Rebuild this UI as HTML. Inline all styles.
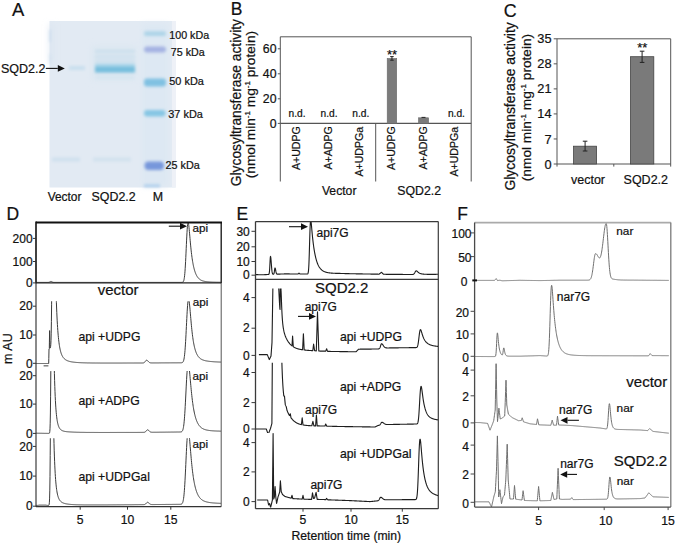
<!DOCTYPE html>
<html><head><meta charset="utf-8"><style>
html,body{margin:0;padding:0;background:#fff;}
svg{display:block;}
text{font-family:"Liberation Sans", sans-serif;stroke:#111;stroke-width:0.22px;paint-order:stroke;}
</style></head><body>
<svg width="675" height="544" viewBox="0 0 675 544">
<rect x="0" y="0" width="675" height="544" fill="#fff"/>
<text x="12.00" y="15.93" font-size="18.4" text-anchor="start" fill="#111" >A</text>
<defs>
<filter id="bl1" x="-50%" y="-50%" width="200%" height="200%"><feGaussianBlur stdDeviation="1.8"/></filter>
<filter id="bl3" x="-50%" y="-50%" width="200%" height="200%"><feGaussianBlur stdDeviation="3"/></filter>
<filter id="bl05" x="-50%" y="-50%" width="200%" height="200%"><feGaussianBlur stdDeviation="0.6"/></filter>
</defs>
<rect x="49.50" y="21.00" width="126.00" height="166.50" fill="#e2eaf3" stroke="none" stroke-width="1" />
<g filter="url(#bl3)">
<rect x="142.00" y="24.00" width="26.00" height="162.00" fill="#dde8f3" stroke="none" stroke-width="1" />
<rect x="92.00" y="46.00" width="44.00" height="34.00" fill="#dbe7f1" stroke="none" stroke-width="1" />
<rect x="49.50" y="24.00" width="3.00" height="40.00" fill="#d8e3f0" stroke="none" stroke-width="1" />
</g>
<g filter="url(#bl05)">
<rect x="172.00" y="21.00" width="4.00" height="166.50" fill="#eef1f7" stroke="none" stroke-width="1" />
</g>
<g filter="url(#bl1)">
<rect x="49.50" y="30.00" width="1.50" height="12.00" fill="#cadcee" stroke="none" stroke-width="1" />
<rect x="49.50" y="54.00" width="1.20" height="10.00" fill="#cfdfee" stroke="none" stroke-width="1" />
<rect x="69.00" y="66.00" width="16.00" height="4.00" fill="#c9dfee" stroke="none" stroke-width="1" />
<rect x="52.00" y="157.50" width="28.00" height="4.00" fill="#cfe0ee" stroke="none" stroke-width="1" />
<rect x="95.00" y="50.00" width="40.00" height="2.50" fill="#c9deec" stroke="none" stroke-width="1" />
<rect x="95.00" y="55.50" width="40.00" height="2.50" fill="#cde0ed" stroke="none" stroke-width="1" />
<rect x="95.00" y="60.00" width="40.00" height="2.50" fill="#cde0ed" stroke="none" stroke-width="1" />
<rect x="95.00" y="63.80" width="40.00" height="5.00" fill="#a6d4e9" stroke="none" stroke-width="1" />
<rect x="95.00" y="66.80" width="40.00" height="5.80" fill="#76bedd" stroke="none" stroke-width="1" />
<rect x="96.00" y="76.00" width="38.00" height="3.00" fill="#d6e5f0" stroke="none" stroke-width="1" />
<rect x="93.00" y="157.50" width="38.00" height="4.00" fill="#d2e2ee" stroke="none" stroke-width="1" />
<rect x="144.00" y="31.30" width="22.00" height="4.80" fill="#add4e8" stroke="none" stroke-width="1" rx="2"/>
<rect x="144.00" y="46.50" width="22.00" height="6.00" fill="#a4b2e2" stroke="none" stroke-width="1" rx="3"/>
<rect x="144.00" y="78.50" width="22.00" height="8.00" fill="#80c1e2" stroke="none" stroke-width="1" rx="3"/>
<rect x="144.00" y="110.00" width="21.50" height="6.50" fill="#86c6e4" stroke="none" stroke-width="1" rx="3"/>
<rect x="144.50" y="161.50" width="19.50" height="8.50" fill="#7797db" stroke="none" stroke-width="1" rx="4"/>
<rect x="144.00" y="184.50" width="16.00" height="2.50" fill="#a9cceb" stroke="none" stroke-width="1" />
</g>
<text x="169.30" y="39.30" font-size="10.7" text-anchor="start" fill="#111" >100 kDa</text>
<text x="170.80" y="56.20" font-size="10.7" text-anchor="start" fill="#111" >75 kDa</text>
<text x="169.30" y="85.17" font-size="10.9" text-anchor="start" fill="#111" >50 kDa</text>
<text x="168.30" y="118.17" font-size="10.9" text-anchor="start" fill="#111" >37 kDa</text>
<text x="165.60" y="168.83" font-size="10.8" text-anchor="start" fill="#111" >25 kDa</text>
<text x="1.00" y="72.84" font-size="12.5" text-anchor="start" fill="#111" >SQD2.2</text>
<line x1="45.80" y1="68.40" x2="57.80" y2="68.40" stroke="#111" stroke-width="1.1" />
<path d="M64.80,68.40 L57.80,65.00 L57.80,71.80 Z" fill="#111"/>
<text x="47.70" y="201.02" font-size="11.9" text-anchor="start" fill="#111" >Vector</text>
<text x="91.60" y="201.20" font-size="12.4" text-anchor="start" fill="#111" >SQD2.2</text>
<text x="152.80" y="201.20" font-size="12.4" text-anchor="start" fill="#111" >M</text>
<text x="230.80" y="14.91" font-size="17.5" text-anchor="start" fill="#111" >B</text>
<line x1="280.30" y1="36.80" x2="471.20" y2="36.80" stroke="#555" stroke-width="1" />
<line x1="471.20" y1="36.80" x2="471.20" y2="181.50" stroke="#555" stroke-width="1" />
<line x1="280.30" y1="36.80" x2="280.30" y2="181.50" stroke="#555" stroke-width="1" />
<line x1="375.70" y1="123.40" x2="375.70" y2="181.50" stroke="#555" stroke-width="1" />
<line x1="280.30" y1="123.40" x2="471.20" y2="123.40" stroke="#555" stroke-width="1.1" />
<line x1="277.80" y1="48.80" x2="280.30" y2="48.80" stroke="#555" stroke-width="1" />
<text x="276.50" y="53.17" font-size="12.3" text-anchor="end" fill="#111" >60</text>
<line x1="277.80" y1="73.80" x2="280.30" y2="73.80" stroke="#555" stroke-width="1" />
<text x="276.50" y="78.17" font-size="12.3" text-anchor="end" fill="#111" >40</text>
<line x1="277.80" y1="98.80" x2="280.30" y2="98.80" stroke="#555" stroke-width="1" />
<text x="276.50" y="103.17" font-size="12.3" text-anchor="end" fill="#111" >20</text>
<line x1="277.80" y1="123.40" x2="280.30" y2="123.40" stroke="#555" stroke-width="1" />
<text x="276.50" y="127.77" font-size="12.3" text-anchor="end" fill="#111" >0</text>
<rect x="387.20" y="58.50" width="9.50" height="64.90" fill="#7b7b7b" stroke="#6a6a6a" stroke-width="0.6" />
<rect x="418.50" y="117.80" width="10.10" height="5.60" fill="#7b7b7b" stroke="#6a6a6a" stroke-width="0.6" />
<line x1="391.95" y1="56.60" x2="391.95" y2="60.20" stroke="#222" stroke-width="1" />
<line x1="390.20" y1="56.60" x2="393.70" y2="56.60" stroke="#222" stroke-width="1" />
<line x1="390.20" y1="60.20" x2="393.70" y2="60.20" stroke="#222" stroke-width="1" />
<line x1="421.50" y1="117.40" x2="425.50" y2="117.40" stroke="#222" stroke-width="1" />
<text x="392.00" y="59.22" font-size="13" text-anchor="middle" fill="#111" >**</text>
<text x="297.10" y="117.42" font-size="10.2" text-anchor="middle" fill="#111" >n.d.</text>
<text x="329.10" y="117.42" font-size="10.2" text-anchor="middle" fill="#111" >n.d.</text>
<text x="360.80" y="117.42" font-size="10.2" text-anchor="middle" fill="#111" >n.d.</text>
<text x="456.40" y="117.42" font-size="10.2" text-anchor="middle" fill="#111" >n.d.</text>
<clipPath id="bclip"><rect x="280" y="125.2" width="192" height="60"/></clipPath><g clip-path="url(#bclip)">
<text transform="translate(296.30,126.20) rotate(-90)" x="0" y="3.76" font-size="10.6" text-anchor="end" fill="#111" >A+UDPG</text>
<text transform="translate(327.90,126.20) rotate(-90)" x="0" y="3.76" font-size="10.6" text-anchor="end" fill="#111" >A+ADPG</text>
<text transform="translate(359.40,176.60) rotate(-90)" x="0" y="3.76" font-size="10.6" text-anchor="start" fill="#111" >A+UDPGa</text>
<text transform="translate(391.60,126.20) rotate(-90)" x="0" y="3.76" font-size="10.6" text-anchor="end" fill="#111" >A+UDPG</text>
<text transform="translate(423.00,126.20) rotate(-90)" x="0" y="3.76" font-size="10.6" text-anchor="end" fill="#111" >A+ADPG</text>
<text transform="translate(454.60,176.60) rotate(-90)" x="0" y="3.76" font-size="10.6" text-anchor="start" fill="#111" >A+UDPGa</text>
</g>
<text x="339.20" y="194.53" font-size="12.2" text-anchor="middle" fill="#111" >Vector</text>
<text x="419.20" y="194.57" font-size="12.3" text-anchor="middle" fill="#111" >SQD2.2</text>
<text transform="translate(235.60,102.60) rotate(-90)" x="0" y="4.90" font-size="13.8" text-anchor="middle" fill="#111" >Glycosyltransferase activity</text>
<text transform="translate(250.50,104.60) rotate(-90)" x="0" y="4.86" font-size="13.7" text-anchor="middle" fill="#111" >(nmol min<tspan font-size="8" dy="-5">-1</tspan><tspan dy="5"> mg</tspan><tspan font-size="8" dy="-5">-1</tspan><tspan dy="5"> protein)</tspan></text>
<text x="503.80" y="16.72" font-size="17.8" text-anchor="start" fill="#111" >C</text>
<line x1="557.00" y1="38.80" x2="670.70" y2="38.80" stroke="#555" stroke-width="1" />
<line x1="670.70" y1="38.80" x2="670.70" y2="164.00" stroke="#555" stroke-width="1" />
<line x1="557.00" y1="38.80" x2="557.00" y2="166.60" stroke="#555" stroke-width="1" />
<line x1="557.00" y1="164.00" x2="670.70" y2="164.00" stroke="#555" stroke-width="1.1" />
<line x1="613.80" y1="164.00" x2="613.80" y2="166.60" stroke="#555" stroke-width="1" />
<line x1="670.70" y1="164.00" x2="670.70" y2="166.60" stroke="#555" stroke-width="1" />
<line x1="553.70" y1="164.00" x2="557.00" y2="164.00" stroke="#555" stroke-width="1" />
<text x="551.50" y="168.54" font-size="12.8" text-anchor="end" fill="#111" >0</text>
<line x1="553.70" y1="138.96" x2="557.00" y2="138.96" stroke="#555" stroke-width="1" />
<text x="551.50" y="143.50" font-size="12.8" text-anchor="end" fill="#111" >7</text>
<line x1="553.70" y1="113.92" x2="557.00" y2="113.92" stroke="#555" stroke-width="1" />
<text x="551.50" y="118.46" font-size="12.8" text-anchor="end" fill="#111" >14</text>
<line x1="553.70" y1="88.88" x2="557.00" y2="88.88" stroke="#555" stroke-width="1" />
<text x="551.50" y="93.42" font-size="12.8" text-anchor="end" fill="#111" >21</text>
<line x1="553.70" y1="63.84" x2="557.00" y2="63.84" stroke="#555" stroke-width="1" />
<text x="551.50" y="68.38" font-size="12.8" text-anchor="end" fill="#111" >28</text>
<line x1="553.70" y1="38.80" x2="557.00" y2="38.80" stroke="#555" stroke-width="1" />
<text x="551.50" y="43.34" font-size="12.8" text-anchor="end" fill="#111" >35</text>
<rect x="573.60" y="146.20" width="23.00" height="17.80" fill="#7a7a7a" stroke="#444" stroke-width="0.8" />
<rect x="630.50" y="56.70" width="23.30" height="107.30" fill="#7a7a7a" stroke="#444" stroke-width="0.8" />
<line x1="585.10" y1="141.20" x2="585.10" y2="151.00" stroke="#222" stroke-width="1" />
<line x1="582.80" y1="141.20" x2="587.40" y2="141.20" stroke="#222" stroke-width="1" />
<line x1="582.80" y1="151.00" x2="587.40" y2="151.00" stroke="#222" stroke-width="1" />
<line x1="642.10" y1="51.20" x2="642.10" y2="62.40" stroke="#222" stroke-width="1" />
<line x1="639.80" y1="51.20" x2="644.40" y2="51.20" stroke="#222" stroke-width="1" />
<line x1="639.80" y1="62.40" x2="644.40" y2="62.40" stroke="#222" stroke-width="1" />
<text x="642.20" y="52.22" font-size="13" text-anchor="middle" fill="#111" >**</text>
<text x="588.00" y="183.94" font-size="12.5" text-anchor="middle" fill="#111" >vector</text>
<text x="645.80" y="183.94" font-size="12.5" text-anchor="middle" fill="#111" >SQD2.2</text>
<text transform="translate(510.20,106.40) rotate(-90)" x="0" y="4.93" font-size="13.9" text-anchor="middle" fill="#111" >Glycosyltransferase activity</text>
<text transform="translate(526.40,107.50) rotate(-90)" x="0" y="4.86" font-size="13.7" text-anchor="middle" fill="#111" >(nmol min<tspan font-size="8" dy="-5">-1</tspan><tspan dy="5"> mg</tspan><tspan font-size="8" dy="-5">-1</tspan><tspan dy="5"> protein)</tspan></text>
<text x="6.60" y="220.01" font-size="17.5" text-anchor="start" fill="#111" >D</text>
<clipPath id="c1"><rect x="36.0" y="222.4" width="185.2" height="67.6"/></clipPath>
<path d="M36.00,282.40 L36.20,282.40 L36.40,282.40 L36.60,282.40 L36.80,282.40 L37.00,282.40 L37.20,282.40 L37.40,282.40 L37.60,282.40 L37.80,282.40 L38.00,282.40 L38.20,282.40 L38.40,282.40 L38.60,282.40 L38.80,282.40 L39.00,282.40 L39.20,282.40 L39.40,282.40 L39.60,282.40 L39.80,282.40 L40.00,282.40 L40.20,282.40 L40.40,282.40 L40.60,282.40 L40.80,282.40 L41.00,282.40 L41.20,282.40 L41.40,282.40 L41.60,282.40 L41.80,282.40 L42.00,282.40 L42.20,282.40 L42.40,282.40 L42.60,282.40 L42.80,282.40 L43.00,282.40 L43.20,282.40 L43.40,282.40 L43.60,282.40 L43.80,282.40 L44.00,282.40 L44.20,282.40 L44.40,282.40 L44.60,282.40 L44.80,282.40 L45.00,282.40 L45.20,282.40 L45.40,282.40 L45.60,282.40 L45.80,282.40 L46.00,282.40 L46.20,282.40 L46.40,282.40 L46.60,282.40 L46.80,282.40 L47.00,282.40 L47.20,282.40 L47.40,282.40 L47.60,282.40 L47.80,282.39 L48.00,282.39 L48.20,282.38 L48.40,282.37 L48.60,282.34 L48.80,282.31 L49.00,282.26 L49.20,282.20 L49.40,282.12 L49.60,282.02 L49.80,281.91 L50.00,281.79 L50.20,281.67 L50.40,281.56 L50.60,281.48 L50.80,281.42 L51.00,281.40 L51.20,281.42 L51.40,281.48 L51.60,281.56 L51.80,281.67 L52.00,281.79 L52.20,281.91 L52.40,282.02 L52.60,282.12 L52.80,282.20 L53.00,282.26 L53.20,282.31 L53.40,282.34 L53.60,282.37 L53.80,282.38 L54.00,282.39 L54.20,282.39 L54.40,282.40 L54.60,282.40 L54.80,282.40 L55.00,282.40 L55.20,282.40 L55.40,282.40 L55.60,282.40 L55.80,282.40 L56.00,282.40 L56.20,282.40 L56.40,282.40 L56.60,282.40 L56.80,282.40 L57.00,282.40 L57.20,282.40 L57.40,282.40 L57.60,282.40 L57.80,282.40 L58.00,282.40 L58.20,282.40 L58.40,282.40 L58.60,282.40 L58.80,282.40 L59.00,282.40 L59.20,282.40 L59.40,282.40 L59.60,282.40 L59.80,282.40 L60.00,282.40 L60.20,282.40 L60.40,282.40 L60.60,282.40 L60.80,282.40 L61.00,282.40 L61.20,282.40 L61.40,282.40 L61.60,282.40 L61.80,282.40 L62.00,282.40 L62.20,282.40 L62.40,282.40 L62.60,282.40 L62.80,282.40 L63.00,282.40 L63.20,282.40 L63.40,282.40 L63.60,282.40 L63.80,282.40 L64.00,282.40 L64.20,282.40 L64.40,282.40 L64.60,282.40 L64.80,282.40 L65.00,282.40 L65.20,282.40 L65.40,282.40 L65.60,282.40 L65.80,282.40 L66.00,282.40 L66.20,282.40 L66.40,282.40 L66.60,282.40 L66.80,282.40 L67.00,282.40 L67.20,282.40 L67.40,282.40 L67.60,282.40 L67.80,282.40 L68.00,282.40 L68.20,282.40 L68.40,282.40 L68.60,282.40 L68.80,282.40 L69.00,282.40 L69.20,282.40 L69.40,282.40 L69.60,282.40 L69.80,282.40 L70.00,282.40 L70.20,282.40 L70.40,282.40 L70.60,282.40 L70.80,282.40 L71.00,282.40 L71.20,282.40 L71.40,282.40 L71.60,282.40 L71.80,282.40 L72.00,282.40 L72.20,282.40 L72.40,282.40 L72.60,282.40 L72.80,282.40 L73.00,282.40 L73.20,282.40 L73.40,282.40 L73.60,282.40 L73.80,282.40 L74.00,282.40 L74.20,282.40 L74.40,282.40 L74.60,282.40 L74.80,282.40 L75.00,282.40 L75.20,282.40 L75.40,282.40 L75.60,282.40 L75.80,282.40 L76.00,282.40 L76.20,282.40 L76.40,282.40 L76.60,282.40 L76.80,282.40 L77.00,282.40 L77.20,282.40 L77.40,282.40 L77.60,282.40 L77.80,282.40 L78.00,282.40 L78.20,282.40 L78.40,282.40 L78.60,282.40 L78.80,282.40 L79.00,282.40 L79.20,282.40 L79.40,282.40 L79.60,282.40 L79.80,282.40 L80.00,282.40 L80.20,282.40 L80.40,282.40 L80.60,282.40 L80.80,282.40 L81.00,282.40 L81.20,282.40 L81.40,282.40 L81.60,282.40 L81.80,282.40 L82.00,282.40 L82.20,282.40 L82.40,282.40 L82.60,282.40 L82.80,282.40 L83.00,282.40 L83.20,282.40 L83.40,282.40 L83.60,282.40 L83.80,282.40 L84.00,282.40 L84.20,282.40 L84.40,282.40 L84.60,282.40 L84.80,282.40 L85.00,282.40 L85.20,282.40 L85.40,282.40 L85.60,282.40 L85.80,282.40 L86.00,282.40 L86.20,282.40 L86.40,282.40 L86.60,282.40 L86.80,282.40 L87.00,282.40 L87.20,282.40 L87.40,282.40 L87.60,282.40 L87.80,282.40 L88.00,282.40 L88.20,282.40 L88.40,282.40 L88.60,282.40 L88.80,282.40 L89.00,282.40 L89.20,282.40 L89.40,282.40 L89.60,282.40 L89.80,282.40 L90.00,282.40 L90.20,282.40 L90.40,282.40 L90.60,282.40 L90.80,282.40 L91.00,282.40 L91.20,282.40 L91.40,282.40 L91.60,282.40 L91.80,282.40 L92.00,282.40 L92.20,282.40 L92.40,282.40 L92.60,282.40 L92.80,282.40 L93.00,282.40 L93.20,282.40 L93.40,282.40 L93.60,282.40 L93.80,282.40 L94.00,282.40 L94.20,282.40 L94.40,282.40 L94.60,282.40 L94.80,282.40 L95.00,282.40 L95.20,282.40 L95.40,282.40 L95.60,282.40 L95.80,282.40 L96.00,282.40 L96.20,282.40 L96.40,282.40 L96.60,282.40 L96.80,282.40 L97.00,282.40 L97.20,282.40 L97.40,282.40 L97.60,282.40 L97.80,282.40 L98.00,282.40 L98.20,282.40 L98.40,282.40 L98.60,282.40 L98.80,282.40 L99.00,282.40 L99.20,282.40 L99.40,282.40 L99.60,282.40 L99.80,282.40 L100.00,282.40 L100.20,282.40 L100.40,282.40 L100.60,282.40 L100.80,282.40 L101.00,282.40 L101.20,282.40 L101.40,282.40 L101.60,282.40 L101.80,282.40 L102.00,282.40 L102.20,282.40 L102.40,282.40 L102.60,282.40 L102.80,282.40 L103.00,282.40 L103.20,282.40 L103.40,282.40 L103.60,282.40 L103.80,282.40 L104.00,282.40 L104.20,282.40 L104.40,282.40 L104.60,282.40 L104.80,282.40 L105.00,282.40 L105.20,282.40 L105.40,282.40 L105.60,282.40 L105.80,282.40 L106.00,282.40 L106.20,282.40 L106.40,282.40 L106.60,282.40 L106.80,282.40 L107.00,282.40 L107.20,282.40 L107.40,282.40 L107.60,282.40 L107.80,282.40 L108.00,282.40 L108.20,282.40 L108.40,282.40 L108.60,282.40 L108.80,282.40 L109.00,282.40 L109.20,282.40 L109.40,282.40 L109.60,282.40 L109.80,282.40 L110.00,282.40 L110.20,282.40 L110.40,282.40 L110.60,282.40 L110.80,282.40 L111.00,282.40 L111.20,282.40 L111.40,282.40 L111.60,282.40 L111.80,282.40 L112.00,282.40 L112.20,282.40 L112.40,282.40 L112.60,282.40 L112.80,282.40 L113.00,282.40 L113.20,282.40 L113.40,282.40 L113.60,282.40 L113.80,282.40 L114.00,282.40 L114.20,282.40 L114.40,282.40 L114.60,282.40 L114.80,282.40 L115.00,282.40 L115.20,282.40 L115.40,282.40 L115.60,282.40 L115.80,282.40 L116.00,282.40 L116.20,282.40 L116.40,282.40 L116.60,282.40 L116.80,282.40 L117.00,282.40 L117.20,282.40 L117.40,282.40 L117.60,282.40 L117.80,282.40 L118.00,282.40 L118.20,282.40 L118.40,282.40 L118.60,282.40 L118.80,282.40 L119.00,282.40 L119.20,282.40 L119.40,282.40 L119.60,282.40 L119.80,282.40 L120.00,282.40 L120.20,282.40 L120.40,282.40 L120.60,282.40 L120.80,282.40 L121.00,282.40 L121.20,282.40 L121.40,282.40 L121.60,282.40 L121.80,282.40 L122.00,282.40 L122.20,282.40 L122.40,282.40 L122.60,282.40 L122.80,282.40 L123.00,282.40 L123.20,282.40 L123.40,282.40 L123.60,282.40 L123.80,282.40 L124.00,282.40 L124.20,282.40 L124.40,282.40 L124.60,282.40 L124.80,282.40 L125.00,282.40 L125.20,282.40 L125.40,282.40 L125.60,282.40 L125.80,282.40 L126.00,282.40 L126.20,282.40 L126.40,282.40 L126.60,282.40 L126.80,282.40 L127.00,282.40 L127.20,282.40 L127.40,282.40 L127.60,282.40 L127.80,282.40 L128.00,282.40 L128.20,282.40 L128.40,282.40 L128.60,282.40 L128.80,282.40 L129.00,282.40 L129.20,282.40 L129.40,282.40 L129.60,282.40 L129.80,282.40 L130.00,282.40 L130.20,282.40 L130.40,282.40 L130.60,282.40 L130.80,282.40 L131.00,282.40 L131.20,282.40 L131.40,282.40 L131.60,282.40 L131.80,282.40 L132.00,282.40 L132.20,282.40 L132.40,282.40 L132.60,282.40 L132.80,282.40 L133.00,282.40 L133.20,282.40 L133.40,282.40 L133.60,282.40 L133.80,282.40 L134.00,282.40 L134.20,282.40 L134.40,282.40 L134.60,282.40 L134.80,282.40 L135.00,282.40 L135.20,282.40 L135.40,282.40 L135.60,282.40 L135.80,282.40 L136.00,282.40 L136.20,282.40 L136.40,282.40 L136.60,282.40 L136.80,282.40 L137.00,282.40 L137.20,282.40 L137.40,282.40 L137.60,282.40 L137.80,282.40 L138.00,282.40 L138.20,282.40 L138.40,282.40 L138.60,282.40 L138.80,282.40 L139.00,282.40 L139.20,282.40 L139.40,282.40 L139.60,282.40 L139.80,282.40 L140.00,282.40 L140.20,282.40 L140.40,282.40 L140.60,282.40 L140.80,282.40 L141.00,282.40 L141.20,282.40 L141.40,282.40 L141.60,282.40 L141.80,282.40 L142.00,282.40 L142.20,282.40 L142.40,282.40 L142.60,282.40 L142.80,282.40 L143.00,282.40 L143.20,282.40 L143.40,282.40 L143.60,282.40 L143.80,282.40 L144.00,282.40 L144.20,282.40 L144.40,282.40 L144.60,282.40 L144.80,282.40 L145.00,282.40 L145.20,282.40 L145.40,282.40 L145.60,282.40 L145.80,282.40 L146.00,282.40 L146.20,282.40 L146.40,282.40 L146.60,282.40 L146.80,282.40 L147.00,282.40 L147.20,282.40 L147.40,282.40 L147.60,282.40 L147.80,282.40 L148.00,282.40 L148.20,282.40 L148.40,282.40 L148.60,282.40 L148.80,282.40 L149.00,282.40 L149.20,282.40 L149.40,282.40 L149.60,282.40 L149.80,282.40 L150.00,282.40 L150.20,282.40 L150.40,282.40 L150.60,282.40 L150.80,282.40 L151.00,282.40 L151.20,282.40 L151.40,282.40 L151.60,282.40 L151.80,282.40 L152.00,282.40 L152.20,282.40 L152.40,282.40 L152.60,282.40 L152.80,282.40 L153.00,282.40 L153.20,282.40 L153.40,282.40 L153.60,282.40 L153.80,282.40 L154.00,282.40 L154.20,282.40 L154.40,282.40 L154.60,282.40 L154.80,282.40 L155.00,282.40 L155.20,282.40 L155.40,282.40 L155.60,282.40 L155.80,282.40 L156.00,282.40 L156.20,282.40 L156.40,282.40 L156.60,282.40 L156.80,282.40 L157.00,282.40 L157.20,282.40 L157.40,282.40 L157.60,282.40 L157.80,282.40 L158.00,282.40 L158.20,282.40 L158.40,282.40 L158.60,282.40 L158.80,282.40 L159.00,282.40 L159.20,282.40 L159.40,282.40 L159.60,282.40 L159.80,282.40 L160.00,282.40 L160.20,282.40 L160.40,282.40 L160.60,282.40 L160.80,282.40 L161.00,282.40 L161.20,282.40 L161.40,282.40 L161.60,282.40 L161.80,282.40 L162.00,282.40 L162.20,282.40 L162.40,282.40 L162.60,282.40 L162.80,282.40 L163.00,282.40 L163.20,282.40 L163.40,282.40 L163.60,282.40 L163.80,282.40 L164.00,282.40 L164.20,282.40 L164.40,282.40 L164.60,282.40 L164.80,282.40 L165.00,282.40 L165.20,282.40 L165.40,282.40 L165.60,282.40 L165.80,282.40 L166.00,282.40 L166.20,282.40 L166.40,282.40 L166.60,282.40 L166.80,282.40 L167.00,282.40 L167.20,282.40 L167.40,282.40 L167.60,282.40 L167.80,282.40 L168.00,282.40 L168.20,282.40 L168.40,282.40 L168.60,282.40 L168.80,282.40 L169.00,282.40 L169.20,282.40 L169.40,282.40 L169.60,282.40 L169.80,282.40 L170.00,282.40 L170.20,282.40 L170.40,282.40 L170.60,282.40 L170.80,282.40 L171.00,282.40 L171.20,282.40 L171.40,282.40 L171.60,282.40 L171.80,282.40 L172.00,282.40 L172.20,282.40 L172.40,282.40 L172.60,282.40 L172.80,282.40 L173.00,282.40 L173.20,282.40 L173.40,282.40 L173.60,282.40 L173.80,282.40 L174.00,282.40 L174.20,282.40 L174.40,282.40 L174.60,282.40 L174.80,282.40 L175.00,282.40 L175.20,282.40 L175.40,282.40 L175.60,282.40 L175.80,282.40 L176.00,282.40 L176.20,282.40 L176.40,282.40 L176.60,282.40 L176.80,282.40 L177.00,282.40 L177.20,282.40 L177.40,282.40 L177.60,282.40 L177.80,282.40 L178.00,282.40 L178.20,282.40 L178.40,282.40 L178.60,282.40 L178.80,282.40 L179.00,282.40 L179.20,282.40 L179.40,282.40 L179.60,282.40 L179.80,282.40 L180.00,282.40 L180.20,282.40 L180.40,282.40 L180.60,282.40 L180.80,282.40 L181.00,282.40 L181.20,282.40 L181.40,282.39 L181.60,282.39 L181.80,282.38 L182.00,282.37 L182.20,282.34 L182.40,282.30 L182.60,282.24 L182.80,282.15 L183.00,282.01 L183.20,281.80 L183.40,281.50 L183.60,281.08 L183.80,280.50 L184.00,279.72 L184.20,278.69 L184.40,277.37 L184.60,275.70 L184.80,273.66 L185.00,271.20 L185.20,268.33 L185.40,265.04 L185.60,261.37 L185.80,257.37 L186.00,253.13 L186.20,248.76 L186.40,244.38 L186.60,240.11 L186.80,236.09 L187.00,232.45 L187.20,229.30 L187.40,226.71 L187.60,224.75 L187.80,223.45 L188.00,222.78 L188.20,222.74 L188.40,223.25 L188.60,224.26 L188.80,225.68 L189.00,227.42 L189.20,229.41 L189.40,231.57 L189.60,233.83 L189.80,236.14 L190.00,238.46 L190.20,240.73 L190.40,242.95 L190.60,245.09 L190.80,247.14 L191.00,249.10 L191.20,250.95 L191.40,252.71 L191.60,254.37 L191.80,255.95 L192.00,257.43 L192.20,258.82 L192.40,260.14 L192.60,261.38 L192.80,262.55 L193.00,263.66 L193.20,264.69 L193.40,265.67 L193.60,266.60 L193.80,267.47 L194.00,268.29 L194.20,269.06 L194.40,269.79 L194.60,270.47 L194.80,271.12 L195.00,271.73 L195.20,272.31 L195.40,272.85 L195.60,273.36 L195.80,273.85 L196.00,274.30 L196.20,274.73 L196.40,275.14 L196.60,275.52 L196.80,275.88 L197.00,276.22 L197.20,276.54 L197.40,276.84 L197.60,277.13 L197.80,277.40 L198.00,277.65 L198.20,277.89 L198.40,278.12 L198.60,278.34 L198.80,278.54 L199.00,278.73 L199.20,278.91 L199.40,279.08 L199.60,279.25 L199.80,279.40 L200.00,279.54 L200.20,279.68 L200.40,279.81 L200.60,279.93 L200.80,280.05 L201.00,280.16 L201.20,280.26 L201.40,280.36 L201.60,280.45 L201.80,280.54 L202.00,280.62 L202.20,280.70 L202.40,280.78 L202.60,280.85 L202.80,280.91 L203.00,280.98 L203.20,281.04 L203.40,281.09 L203.60,281.15 L203.80,281.20 L204.00,281.25 L204.20,281.30 L204.40,281.34 L204.60,281.38 L204.80,281.42 L205.00,281.46 L205.20,281.50 L205.40,281.53 L205.60,281.56 L205.80,281.60 L206.00,281.63 L206.20,281.65 L206.40,281.68 L206.60,281.71 L206.80,281.73 L207.00,281.75 L207.20,281.78 L207.40,281.80 L207.60,281.82 L207.80,281.84 L208.00,281.86 L208.20,281.87 L208.40,281.89 L208.60,281.91 L208.80,281.92 L209.00,281.94 L209.20,281.95 L209.40,281.97 L209.60,281.98 L209.80,281.99 L210.00,282.01 L210.20,282.02 L210.40,282.03 L210.60,282.04 L210.80,282.05 L211.00,282.06 L211.20,282.07 L211.40,282.08 L211.60,282.09 L211.80,282.10 L212.00,282.10 L212.20,282.11 L212.40,282.12 L212.60,282.13 L212.80,282.13 L213.00,282.14 L213.20,282.15 L213.40,282.15 L213.60,282.16 L213.80,282.17 L214.00,282.17 L214.20,282.18 L214.40,282.18 L214.60,282.19 L214.80,282.19 L215.00,282.20 L215.20,282.20 L215.40,282.21 L215.60,282.21 L215.80,282.22 L216.00,282.22 L216.20,282.23 L216.40,282.23 L216.60,282.23 L216.80,282.24 L217.00,282.24 L217.20,282.24 L217.40,282.25 L217.60,282.25 L217.80,282.26 L218.00,282.26 L218.20,282.26 L218.40,282.26 L218.60,282.27 L218.80,282.27 L219.00,282.27 L219.20,282.28 L219.40,282.28 L219.60,282.28 L219.80,282.28 L220.00,282.29 L220.20,282.29 L220.40,282.29 L220.60,282.29 L220.80,282.30 L221.00,282.30 L221.20,282.30" fill="none" stroke="#3a3a3a" stroke-width="1" stroke-linejoin="round" clip-path="url(#c1)"/>
<clipPath id="c2"><rect x="36.0" y="301.2" width="185.2" height="68.80000000000001"/></clipPath>
<path d="M36.00,363.50 L36.20,363.50 L36.40,363.50 L36.60,363.50 L36.80,363.50 L37.00,363.50 L37.20,363.50 L37.40,363.50 L37.60,363.50 L37.80,363.50 L38.00,363.50 L38.20,363.50 L38.40,363.50 L38.60,363.50 L38.80,363.50 L39.00,363.50 L39.20,363.50 L39.40,363.50 L39.60,363.50 L39.80,363.50 L40.00,363.50 L40.20,363.50 L40.40,363.50 L40.60,363.50 L40.80,363.50 L41.00,363.50 L41.20,363.50 L41.40,363.50 L41.60,363.50 L41.80,363.50 L42.00,363.50 L42.20,363.50 L42.40,363.50 L42.60,363.50 L42.80,363.50 L43.00,363.50 L43.20,363.50 L43.40,363.50 L43.60,363.50 L43.80,363.50 L44.00,363.50 L44.20,363.50 L44.40,363.50 L44.60,363.50 L44.80,363.50 L45.00,363.50 L45.20,363.50 L45.40,363.50 L45.60,363.50 L45.80,363.50 L46.00,363.50 L46.20,363.50 L46.40,363.50 L46.60,363.50 L46.80,363.50 L47.00,363.50 L47.20,363.50 L47.40,363.50 L47.60,363.50 L47.80,363.50 L48.00,363.50 L48.20,363.50 L48.40,363.50 L48.60,363.50 L48.70,363.50 L48.80,358.67 L49.00,349.00 L49.20,348.87 L49.30,348.80 L49.40,342.73 L49.60,330.59 L49.80,339.36 L50.00,348.09 L50.20,347.97 L50.40,347.57 L50.60,346.58 L50.80,344.46 L51.00,340.38 L51.20,333.20 L51.40,321.71 L51.60,304.84 L51.80,282.17 L52.00,254.31 L52.20,223.15 L52.40,191.66 L52.60,163.28 L52.80,141.10 L53.00,127.14 L53.20,121.93 L53.30,122.39 L53.40,125.82 L53.60,137.05 L53.80,152.33 L54.00,169.73 L54.20,187.74 L54.40,205.39 L54.50,213.89 L54.60,220.92 L54.80,234.10 L55.00,246.08 L55.20,256.91 L55.40,266.67 L55.60,275.46 L55.80,283.39 L56.00,290.53 L56.20,296.96 L56.40,302.77 L56.60,308.00 L56.80,312.73 L57.00,317.00 L57.20,320.86 L57.40,324.35 L57.60,327.51 L57.80,330.37 L58.00,332.96 L58.20,335.31 L58.40,337.44 L58.60,339.38 L58.80,341.14 L59.00,342.74 L59.20,344.20 L59.40,345.52 L59.60,346.74 L59.80,347.85 L60.00,348.86 L60.20,349.79 L60.40,350.63 L60.60,351.41 L60.80,352.13 L61.00,352.79 L61.20,353.39 L61.40,353.95 L61.60,354.47 L61.80,354.94 L62.00,355.38 L62.20,355.79 L62.40,356.17 L62.60,356.52 L62.80,356.85 L63.00,357.16 L63.20,357.44 L63.40,357.71 L63.60,357.95 L63.80,358.19 L64.00,358.40 L64.20,358.61 L64.40,358.80 L64.60,358.98 L64.80,359.15 L65.00,359.31 L65.20,359.46 L65.40,359.61 L65.60,359.74 L65.80,359.87 L66.00,359.99 L66.20,360.11 L66.40,360.22 L66.60,360.32 L66.80,360.42 L67.00,360.52 L67.20,360.61 L67.40,360.69 L67.60,360.78 L67.80,360.85 L68.00,360.93 L68.20,361.00 L68.40,361.07 L68.60,361.13 L68.80,361.20 L69.00,361.26 L69.20,361.32 L69.40,361.37 L69.60,361.42 L69.80,361.48 L70.00,361.53 L70.20,361.57 L70.40,361.62 L70.60,361.66 L70.80,361.70 L71.00,361.74 L71.20,361.78 L71.40,361.82 L71.60,361.86 L71.80,361.89 L72.00,361.93 L72.20,361.96 L72.40,361.99 L72.60,362.02 L72.80,362.05 L73.00,362.08 L73.20,362.11 L73.40,362.13 L73.60,362.16 L73.80,362.18 L74.00,362.21 L74.20,362.23 L74.40,362.25 L74.60,362.28 L74.80,362.30 L75.00,362.32 L75.20,362.34 L75.40,362.36 L75.60,362.37 L75.80,362.39 L76.00,362.41 L76.20,362.43 L76.40,362.44 L76.60,362.46 L76.80,362.47 L77.00,362.49 L77.20,362.50 L77.40,362.52 L77.60,362.53 L77.80,362.54 L78.00,362.56 L78.20,362.57 L78.40,362.58 L78.60,362.59 L78.80,362.60 L79.00,362.61 L79.20,362.63 L79.40,362.64 L79.60,362.65 L79.80,362.66 L80.00,362.67 L80.20,362.68 L80.40,362.69 L80.60,362.69 L80.80,362.70 L81.00,362.71 L81.20,362.72 L81.40,362.73 L81.60,362.74 L81.80,362.75 L82.00,362.76 L82.20,362.76 L82.40,362.77 L82.60,362.78 L82.80,362.79 L83.00,362.79 L83.20,362.80 L83.40,362.81 L83.60,362.81 L83.80,362.82 L84.00,362.83 L84.20,362.83 L84.40,362.84 L84.60,362.84 L84.80,362.85 L85.00,362.85 L85.20,362.86 L85.40,362.87 L85.60,362.87 L85.80,362.88 L86.00,362.88 L86.20,362.89 L86.40,362.89 L86.60,362.89 L86.80,362.90 L87.00,362.90 L87.20,362.91 L87.40,362.91 L87.60,362.92 L87.80,362.92 L88.00,362.92 L88.20,362.93 L88.40,362.93 L88.60,362.93 L88.80,362.94 L89.00,362.94 L89.20,362.95 L89.40,362.95 L89.60,362.95 L89.80,362.95 L90.00,362.96 L90.20,362.96 L90.40,362.96 L90.60,362.97 L90.80,362.97 L91.00,362.97 L91.20,362.97 L91.40,362.98 L91.60,362.98 L91.80,362.98 L92.00,362.98 L92.20,362.99 L92.40,362.99 L92.60,362.99 L92.80,362.99 L93.00,363.00 L93.20,363.00 L93.40,363.00 L93.60,363.00 L93.80,363.00 L94.00,363.01 L94.20,363.01 L94.40,363.01 L94.60,363.01 L94.80,363.01 L95.00,363.01 L95.20,363.02 L95.40,363.02 L95.60,363.02 L95.80,363.02 L96.00,363.02 L96.20,363.02 L96.40,363.03 L96.60,363.03 L96.80,363.03 L97.00,363.03 L97.20,363.03 L97.40,363.03 L97.60,363.03 L97.80,363.03 L98.00,363.04 L98.20,363.04 L98.40,363.04 L98.60,363.04 L98.80,363.04 L99.00,363.04 L99.20,363.04 L99.40,363.04 L99.60,363.04 L99.80,363.04 L100.00,363.05 L100.20,363.05 L100.40,363.05 L100.60,363.05 L100.80,363.05 L101.00,363.05 L101.20,363.05 L101.40,363.05 L101.60,363.05 L101.80,363.05 L102.00,363.05 L102.20,363.05 L102.40,363.05 L102.60,363.05 L102.80,363.05 L103.00,363.05 L103.20,363.06 L103.40,363.06 L103.60,363.06 L103.80,363.06 L104.00,363.06 L104.20,363.06 L104.40,363.06 L104.60,363.06 L104.80,363.06 L105.00,363.06 L105.20,363.06 L105.40,363.06 L105.60,363.06 L105.80,363.06 L106.00,363.06 L106.20,363.06 L106.40,363.06 L106.60,363.06 L106.80,363.06 L107.00,363.06 L107.20,363.06 L107.40,363.06 L107.60,363.06 L107.80,363.06 L108.00,363.06 L108.20,363.06 L108.40,363.06 L108.60,363.06 L108.80,363.06 L109.00,363.06 L109.20,363.06 L109.40,363.06 L109.60,363.06 L109.80,363.06 L110.00,363.06 L110.20,363.06 L110.40,363.06 L110.60,363.06 L110.80,363.06 L111.00,363.06 L111.20,363.06 L111.40,363.06 L111.60,363.06 L111.80,363.06 L112.00,363.06 L112.20,363.06 L112.40,363.06 L112.60,363.06 L112.80,363.06 L113.00,363.06 L113.20,363.06 L113.40,363.06 L113.60,363.06 L113.80,363.06 L114.00,363.06 L114.20,363.06 L114.40,363.06 L114.60,363.06 L114.80,363.06 L115.00,363.06 L115.20,363.06 L115.40,363.06 L115.60,363.06 L115.80,363.06 L116.00,363.06 L116.20,363.06 L116.40,363.06 L116.60,363.06 L116.80,363.06 L117.00,363.06 L117.20,363.06 L117.40,363.05 L117.60,363.05 L117.80,363.05 L118.00,363.05 L118.20,363.05 L118.40,363.05 L118.60,363.05 L118.80,363.05 L119.00,363.05 L119.20,363.05 L119.40,363.05 L119.60,363.05 L119.80,363.05 L120.00,363.05 L120.20,363.05 L120.40,363.05 L120.60,363.05 L120.80,363.05 L121.00,363.05 L121.20,363.05 L121.40,363.05 L121.60,363.05 L121.80,363.05 L122.00,363.05 L122.20,363.05 L122.40,363.05 L122.60,363.04 L122.80,363.04 L123.00,363.04 L123.20,363.04 L123.40,363.04 L123.60,363.04 L123.80,363.04 L124.00,363.04 L124.20,363.04 L124.40,363.04 L124.60,363.04 L124.80,363.04 L125.00,363.04 L125.20,363.04 L125.40,363.04 L125.60,363.04 L125.80,363.04 L126.00,363.04 L126.20,363.04 L126.40,363.04 L126.60,363.04 L126.80,363.03 L127.00,363.03 L127.20,363.03 L127.40,363.03 L127.60,363.03 L127.80,363.03 L128.00,363.03 L128.20,363.03 L128.40,363.03 L128.60,363.03 L128.80,363.03 L129.00,363.03 L129.20,363.03 L129.40,363.03 L129.60,363.03 L129.80,363.03 L130.00,363.03 L130.20,363.03 L130.40,363.03 L130.60,363.02 L130.80,363.02 L131.00,363.02 L131.20,363.02 L131.40,363.02 L131.60,363.02 L131.80,363.02 L132.00,363.02 L132.20,363.02 L132.40,363.02 L132.60,363.02 L132.80,363.02 L133.00,363.02 L133.20,363.02 L133.40,363.02 L133.60,363.02 L133.80,363.02 L134.00,363.01 L134.20,363.01 L134.40,363.01 L134.60,363.01 L134.80,363.01 L135.00,363.01 L135.20,363.01 L135.40,363.01 L135.60,363.01 L135.80,363.01 L136.00,363.01 L136.20,363.01 L136.40,363.01 L136.60,363.01 L136.80,363.01 L137.00,363.01 L137.20,363.01 L137.40,363.00 L137.60,363.00 L137.80,363.00 L138.00,363.00 L138.20,363.00 L138.40,363.00 L138.60,363.00 L138.80,363.00 L139.00,363.00 L139.20,363.00 L139.40,363.00 L139.60,363.00 L139.80,363.00 L140.00,363.00 L140.20,363.00 L140.40,363.00 L140.60,362.99 L140.80,362.99 L141.00,362.99 L141.20,362.99 L141.40,362.99 L141.60,362.99 L141.80,362.99 L142.00,362.99 L142.20,362.98 L142.40,362.98 L142.60,362.97 L142.80,362.97 L143.00,362.95 L143.20,362.93 L143.40,362.90 L143.60,362.86 L143.80,362.79 L144.00,362.71 L144.20,362.60 L144.40,362.45 L144.60,362.28 L144.80,362.07 L145.00,361.82 L145.20,361.55 L145.40,361.27 L145.60,360.99 L145.80,360.73 L146.00,360.50 L146.20,360.32 L146.40,360.21 L146.60,360.17 L146.80,360.19 L147.00,360.26 L147.20,360.38 L147.40,360.53 L147.60,360.72 L147.80,360.93 L148.00,361.15 L148.20,361.37 L148.40,361.59 L148.60,361.80 L148.80,362.00 L149.00,362.18 L149.20,362.33 L149.40,362.46 L149.60,362.57 L149.80,362.66 L150.00,362.73 L150.20,362.79 L150.40,362.83 L150.60,362.87 L150.80,362.89 L151.00,362.91 L151.20,362.92 L151.40,362.93 L151.60,362.93 L151.80,362.93 L152.00,362.94 L152.20,362.94 L152.40,362.94 L152.60,362.94 L152.80,362.94 L153.00,362.93 L153.20,362.93 L153.40,362.93 L153.60,362.93 L153.80,362.93 L154.00,362.93 L154.20,362.93 L154.40,362.93 L154.60,362.93 L154.80,362.93 L155.00,362.93 L155.20,362.92 L155.40,362.92 L155.60,362.92 L155.80,362.92 L156.00,362.92 L156.20,362.92 L156.40,362.92 L156.60,362.92 L156.80,362.92 L157.00,362.92 L157.20,362.91 L157.40,362.91 L157.60,362.91 L157.80,362.91 L158.00,362.91 L158.20,362.91 L158.40,362.91 L158.60,362.91 L158.80,362.91 L159.00,362.91 L159.20,362.90 L159.40,362.90 L159.60,362.90 L159.80,362.90 L160.00,362.90 L160.20,362.90 L160.40,362.90 L160.60,362.90 L160.80,362.90 L161.00,362.90 L161.20,362.90 L161.40,362.89 L161.60,362.89 L161.80,362.89 L162.00,362.89 L162.20,362.89 L162.40,362.89 L162.60,362.89 L162.80,362.89 L163.00,362.89 L163.20,362.89 L163.40,362.88 L163.60,362.88 L163.80,362.88 L164.00,362.88 L164.20,362.88 L164.40,362.88 L164.60,362.88 L164.80,362.88 L165.00,362.88 L165.20,362.88 L165.40,362.87 L165.60,362.87 L165.80,362.87 L166.00,362.87 L166.20,362.87 L166.40,362.87 L166.60,362.87 L166.80,362.87 L167.00,362.87 L167.20,362.87 L167.40,362.86 L167.60,362.86 L167.80,362.86 L168.00,362.86 L168.20,362.86 L168.40,362.86 L168.60,362.86 L168.80,362.86 L169.00,362.86 L169.20,362.86 L169.40,362.85 L169.60,362.85 L169.80,362.85 L170.00,362.85 L170.20,362.85 L170.40,362.85 L170.60,362.85 L170.80,362.85 L171.00,362.85 L171.20,362.85 L171.40,362.85 L171.60,362.84 L171.80,362.84 L172.00,362.84 L172.20,362.84 L172.40,362.84 L172.60,362.84 L172.80,362.84 L173.00,362.84 L173.20,362.84 L173.40,362.84 L173.60,362.83 L173.80,362.83 L174.00,362.83 L174.20,362.83 L174.40,362.83 L174.60,362.83 L174.80,362.83 L175.00,362.83 L175.20,362.83 L175.40,362.83 L175.60,362.82 L175.80,362.82 L176.00,362.82 L176.20,362.82 L176.40,362.82 L176.60,362.82 L176.80,362.82 L177.00,362.82 L177.20,362.82 L177.40,362.82 L177.60,362.81 L177.80,362.81 L178.00,362.81 L178.20,362.81 L178.40,362.81 L178.60,362.81 L178.80,362.81 L179.00,362.81 L179.20,362.81 L179.40,362.81 L179.60,362.80 L179.80,362.80 L180.00,362.80 L180.20,362.80 L180.40,362.80 L180.60,362.80 L180.80,362.79 L181.00,362.79 L181.20,362.78 L181.40,362.76 L181.60,362.74 L181.80,362.71 L182.00,362.67 L182.20,362.61 L182.40,362.52 L182.60,362.39 L182.80,362.21 L183.00,361.97 L183.20,361.65 L183.40,361.22 L183.60,360.65 L183.80,359.93 L184.00,359.01 L184.20,357.87 L184.40,356.48 L184.60,354.81 L184.80,352.82 L185.00,350.52 L185.20,347.88 L185.40,344.92 L185.60,341.66 L185.80,338.11 L186.00,334.35 L186.20,330.42 L186.40,326.40 L186.60,322.37 L186.80,318.44 L187.00,314.68 L187.20,311.19 L187.40,308.04 L187.60,305.32 L187.80,303.07 L188.00,301.34 L188.20,300.14 L188.40,299.48 L188.60,299.34 L188.80,299.69 L189.00,300.49 L189.20,301.68 L189.40,303.22 L189.60,305.03 L189.80,307.05 L190.00,309.24 L190.20,311.53 L190.40,313.88 L190.60,316.24 L190.80,318.59 L191.00,320.89 L191.20,323.13 L191.40,325.29 L191.60,327.35 L191.80,329.32 L192.00,331.19 L192.20,332.96 L192.40,334.63 L192.60,336.21 L192.80,337.69 L193.00,339.08 L193.20,340.39 L193.40,341.62 L193.60,342.77 L193.80,343.86 L194.00,344.87 L194.20,345.83 L194.40,346.72 L194.60,347.56 L194.80,348.35 L195.00,349.09 L195.20,349.79 L195.40,350.44 L195.60,351.06 L195.80,351.64 L196.00,352.18 L196.20,352.69 L196.40,353.17 L196.60,353.62 L196.80,354.05 L197.00,354.45 L197.20,354.82 L197.40,355.18 L197.60,355.51 L197.80,355.83 L198.00,356.12 L198.20,356.40 L198.40,356.67 L198.60,356.91 L198.80,357.15 L199.00,357.37 L199.20,357.58 L199.40,357.78 L199.60,357.97 L199.80,358.14 L200.00,358.31 L200.20,358.47 L200.40,358.62 L200.60,358.76 L200.80,358.90 L201.00,359.02 L201.20,359.14 L201.40,359.26 L201.60,359.37 L201.80,359.47 L202.00,359.57 L202.20,359.67 L202.40,359.76 L202.60,359.84 L202.80,359.92 L203.00,360.00 L203.20,360.07 L203.40,360.14 L203.60,360.21 L203.80,360.28 L204.00,360.34 L204.20,360.40 L204.40,360.45 L204.60,360.51 L204.80,360.56 L205.00,360.61 L205.20,360.66 L205.40,360.71 L205.60,360.75 L205.80,360.79 L206.00,360.83 L206.20,360.87 L206.40,360.91 L206.60,360.95 L206.80,360.98 L207.00,361.02 L207.20,361.05 L207.40,361.08 L207.60,361.11 L207.80,361.14 L208.00,361.17 L208.20,361.20 L208.40,361.23 L208.60,361.26 L208.80,361.28 L209.00,361.31 L209.20,361.33 L209.40,361.35 L209.60,361.38 L209.80,361.40 L210.00,361.42 L210.20,361.44 L210.40,361.46 L210.60,361.48 L210.80,361.50 L211.00,361.52 L211.20,361.54 L211.40,361.56 L211.60,361.58 L211.80,361.59 L212.00,361.61 L212.20,361.63 L212.40,361.64 L212.60,361.66 L212.80,361.67 L213.00,361.69 L213.20,361.70 L213.40,361.72 L213.60,361.73 L213.80,361.75 L214.00,361.76 L214.20,361.77 L214.40,361.79 L214.60,361.80 L214.80,361.81 L215.00,361.82 L215.20,361.84 L215.40,361.85 L215.60,361.86 L215.80,361.87 L216.00,361.88 L216.20,361.89 L216.40,361.90 L216.60,361.91 L216.80,361.92 L217.00,361.93 L217.20,361.94 L217.40,361.95 L217.60,361.96 L217.80,361.97 L218.00,361.98 L218.20,361.99 L218.40,362.00 L218.60,362.01 L218.80,362.02 L219.00,362.02 L219.20,362.03 L219.40,362.04 L219.60,362.05 L219.80,362.06 L220.00,362.06 L220.20,362.07 L220.40,362.08 L220.60,362.08 L220.80,362.09 L221.00,362.10 L221.20,362.11" fill="none" stroke="#3a3a3a" stroke-width="1" stroke-linejoin="round" clip-path="url(#c2)"/>
<clipPath id="c3"><rect x="36.0" y="371.0" width="185.2" height="69.0"/></clipPath>
<path d="M36.00,433.20 L36.20,433.20 L36.40,433.21 L36.60,433.21 L36.80,433.21 L37.00,433.22 L37.20,433.22 L37.40,433.22 L37.60,433.22 L37.80,433.23 L38.00,433.23 L38.20,433.23 L38.40,433.24 L38.60,433.24 L38.80,433.24 L39.00,433.25 L39.20,433.25 L39.40,433.25 L39.60,433.26 L39.80,433.26 L40.00,433.26 L40.20,433.26 L40.40,433.27 L40.60,433.27 L40.80,433.27 L41.00,433.28 L41.20,433.28 L41.40,433.28 L41.60,433.29 L41.80,433.29 L42.00,433.29 L42.20,433.30 L42.40,433.30 L42.60,433.30 L42.80,433.30 L43.00,433.31 L43.20,433.31 L43.40,433.31 L43.60,433.32 L43.80,433.32 L44.00,433.32 L44.20,433.33 L44.40,433.33 L44.60,433.33 L44.80,433.34 L45.00,433.34 L45.20,433.34 L45.40,433.34 L45.60,433.35 L45.80,433.35 L46.00,433.35 L46.20,433.36 L46.40,433.36 L46.60,433.36 L46.80,433.37 L47.00,433.37 L47.20,433.37 L47.40,433.38 L47.60,433.38 L47.80,433.38 L48.00,433.38 L48.20,433.39 L48.40,433.39 L48.60,433.39 L48.80,433.39 L49.00,433.38 L49.20,433.33 L49.40,433.16 L49.60,432.70 L49.80,431.52 L50.00,428.81 L50.20,423.22 L50.40,412.97 L50.60,396.18 L50.80,371.75 L51.00,340.31 L51.20,304.74 L51.40,269.83 L51.60,240.96 L51.80,222.31 L52.00,215.57 L52.20,219.79 L52.40,232.17 L52.60,249.31 L52.80,268.26 L53.00,286.97 L53.20,304.33 L53.40,319.91 L53.60,333.66 L53.80,345.69 L54.00,356.19 L54.20,365.35 L54.40,373.35 L54.60,380.32 L54.80,386.41 L55.00,391.73 L55.20,396.39 L55.40,400.46 L55.60,404.02 L55.80,407.15 L56.00,409.88 L56.20,412.29 L56.40,414.40 L56.60,416.26 L56.80,417.90 L57.00,419.34 L57.20,420.62 L57.40,421.74 L57.60,422.74 L57.80,423.62 L58.00,424.41 L58.20,425.11 L58.40,425.73 L58.60,426.28 L58.80,426.78 L59.00,427.22 L59.20,427.62 L59.40,427.98 L59.60,428.30 L59.80,428.59 L60.00,428.85 L60.20,429.09 L60.40,429.31 L60.60,429.51 L60.80,429.69 L61.00,429.85 L61.20,430.00 L61.40,430.14 L61.60,430.26 L61.80,430.38 L62.00,430.49 L62.20,430.59 L62.40,430.68 L62.60,430.77 L62.80,430.84 L63.00,430.92 L63.20,430.99 L63.40,431.05 L63.60,431.11 L63.80,431.17 L64.00,431.22 L64.20,431.27 L64.40,431.31 L64.60,431.36 L64.80,431.40 L65.00,431.43 L65.20,431.47 L65.40,431.50 L65.60,431.53 L65.80,431.56 L66.00,431.59 L66.20,431.62 L66.40,431.64 L66.60,431.67 L66.80,431.69 L67.00,431.71 L67.20,431.73 L67.40,431.75 L67.60,431.77 L67.80,431.78 L68.00,431.80 L68.20,431.81 L68.40,431.83 L68.60,431.84 L68.80,431.85 L69.00,431.87 L69.20,431.88 L69.40,431.89 L69.60,431.90 L69.80,431.91 L70.00,431.91 L70.20,431.93 L70.40,431.94 L70.60,431.96 L70.80,431.97 L71.00,431.99 L71.20,432.00 L71.40,432.01 L71.60,432.02 L71.80,432.03 L72.00,432.05 L72.20,432.06 L72.40,432.07 L72.60,432.08 L72.80,432.09 L73.00,432.10 L73.20,432.11 L73.40,432.12 L73.60,432.12 L73.80,432.13 L74.00,432.14 L74.20,432.15 L74.40,432.16 L74.60,432.17 L74.80,432.17 L75.00,432.18 L75.20,432.19 L75.40,432.19 L75.60,432.20 L75.80,432.21 L76.00,432.21 L76.20,432.22 L76.40,432.23 L76.60,432.23 L76.80,432.24 L77.00,432.24 L77.20,432.25 L77.40,432.26 L77.60,432.26 L77.80,432.27 L78.00,432.27 L78.20,432.28 L78.40,432.28 L78.60,432.29 L78.80,432.29 L79.00,432.29 L79.20,432.30 L79.40,432.30 L79.60,432.31 L79.80,432.31 L80.00,432.32 L80.20,432.32 L80.40,432.32 L80.60,432.33 L80.80,432.33 L81.00,432.33 L81.20,432.34 L81.40,432.34 L81.60,432.34 L81.80,432.35 L82.00,432.35 L82.20,432.35 L82.40,432.36 L82.60,432.36 L82.80,432.36 L83.00,432.37 L83.20,432.37 L83.40,432.37 L83.60,432.37 L83.80,432.38 L84.00,432.38 L84.20,432.38 L84.40,432.38 L84.60,432.39 L84.80,432.39 L85.00,432.39 L85.20,432.39 L85.40,432.40 L85.60,432.40 L85.80,432.40 L86.00,432.40 L86.20,432.40 L86.40,432.41 L86.60,432.41 L86.80,432.41 L87.00,432.41 L87.20,432.41 L87.40,432.41 L87.60,432.42 L87.80,432.42 L88.00,432.42 L88.20,432.42 L88.40,432.42 L88.60,432.42 L88.80,432.43 L89.00,432.43 L89.20,432.43 L89.40,432.43 L89.60,432.43 L89.80,432.43 L90.00,432.43 L90.20,432.44 L90.40,432.44 L90.60,432.44 L90.80,432.44 L91.00,432.44 L91.20,432.44 L91.40,432.44 L91.60,432.44 L91.80,432.44 L92.00,432.45 L92.20,432.45 L92.40,432.45 L92.60,432.45 L92.80,432.45 L93.00,432.45 L93.20,432.45 L93.40,432.45 L93.60,432.45 L93.80,432.45 L94.00,432.45 L94.20,432.45 L94.40,432.45 L94.60,432.46 L94.80,432.46 L95.00,432.46 L95.20,432.46 L95.40,432.46 L95.60,432.46 L95.80,432.46 L96.00,432.46 L96.20,432.46 L96.40,432.46 L96.60,432.46 L96.80,432.46 L97.00,432.46 L97.20,432.46 L97.40,432.46 L97.60,432.46 L97.80,432.46 L98.00,432.46 L98.20,432.46 L98.40,432.46 L98.60,432.47 L98.80,432.47 L99.00,432.47 L99.20,432.47 L99.40,432.47 L99.60,432.47 L99.80,432.47 L100.00,432.47 L100.20,432.47 L100.40,432.47 L100.60,432.47 L100.80,432.47 L101.00,432.47 L101.20,432.47 L101.40,432.47 L101.60,432.47 L101.80,432.47 L102.00,432.47 L102.20,432.47 L102.40,432.47 L102.60,432.47 L102.80,432.47 L103.00,432.47 L103.20,432.47 L103.40,432.47 L103.60,432.47 L103.80,432.47 L104.00,432.47 L104.20,432.47 L104.40,432.47 L104.60,432.47 L104.80,432.47 L105.00,432.47 L105.20,432.47 L105.40,432.47 L105.60,432.47 L105.80,432.47 L106.00,432.47 L106.20,432.47 L106.40,432.47 L106.60,432.47 L106.80,432.47 L107.00,432.47 L107.20,432.47 L107.40,432.47 L107.60,432.47 L107.80,432.47 L108.00,432.47 L108.20,432.47 L108.40,432.47 L108.60,432.47 L108.80,432.47 L109.00,432.47 L109.20,432.47 L109.40,432.47 L109.60,432.47 L109.80,432.47 L110.00,432.47 L110.20,432.46 L110.40,432.46 L110.60,432.46 L110.80,432.46 L111.00,432.46 L111.20,432.46 L111.40,432.46 L111.60,432.46 L111.80,432.46 L112.00,432.46 L112.20,432.46 L112.40,432.46 L112.60,432.46 L112.80,432.46 L113.00,432.46 L113.20,432.46 L113.40,432.46 L113.60,432.46 L113.80,432.46 L114.00,432.46 L114.20,432.46 L114.40,432.46 L114.60,432.46 L114.80,432.46 L115.00,432.46 L115.20,432.46 L115.40,432.46 L115.60,432.46 L115.80,432.46 L116.00,432.46 L116.20,432.46 L116.40,432.46 L116.60,432.46 L116.80,432.45 L117.00,432.45 L117.20,432.45 L117.40,432.45 L117.60,432.45 L117.80,432.45 L118.00,432.45 L118.20,432.45 L118.40,432.45 L118.60,432.45 L118.80,432.45 L119.00,432.45 L119.20,432.45 L119.40,432.45 L119.60,432.45 L119.80,432.45 L120.00,432.45 L120.20,432.45 L120.40,432.45 L120.60,432.45 L120.80,432.45 L121.00,432.45 L121.20,432.45 L121.40,432.45 L121.60,432.44 L121.80,432.44 L122.00,432.44 L122.20,432.44 L122.40,432.44 L122.60,432.44 L122.80,432.44 L123.00,432.44 L123.20,432.44 L123.40,432.44 L123.60,432.44 L123.80,432.44 L124.00,432.44 L124.20,432.44 L124.40,432.44 L124.60,432.44 L124.80,432.44 L125.00,432.44 L125.20,432.44 L125.40,432.44 L125.60,432.44 L125.80,432.44 L126.00,432.43 L126.20,432.43 L126.40,432.43 L126.60,432.43 L126.80,432.43 L127.00,432.43 L127.20,432.43 L127.40,432.43 L127.60,432.43 L127.80,432.43 L128.00,432.43 L128.20,432.43 L128.40,432.43 L128.60,432.43 L128.80,432.43 L129.00,432.43 L129.20,432.43 L129.40,432.43 L129.60,432.43 L129.80,432.43 L130.00,432.42 L130.20,432.42 L130.40,432.42 L130.60,432.42 L130.80,432.42 L131.00,432.42 L131.20,432.42 L131.40,432.42 L131.60,432.42 L131.80,432.42 L132.00,432.42 L132.20,432.42 L132.40,432.42 L132.60,432.42 L132.80,432.42 L133.00,432.42 L133.20,432.42 L133.40,432.42 L133.60,432.42 L133.80,432.41 L134.00,432.41 L134.20,432.41 L134.40,432.41 L134.60,432.41 L134.80,432.41 L135.00,432.41 L135.20,432.41 L135.40,432.41 L135.60,432.41 L135.80,432.41 L136.00,432.41 L136.20,432.41 L136.40,432.41 L136.60,432.41 L136.80,432.41 L137.00,432.41 L137.20,432.41 L137.40,432.41 L137.60,432.40 L137.80,432.40 L138.00,432.40 L138.20,432.40 L138.40,432.40 L138.60,432.40 L138.80,432.40 L139.00,432.40 L139.20,432.40 L139.40,432.40 L139.60,432.40 L139.80,432.40 L140.00,432.40 L140.20,432.40 L140.40,432.39 L140.60,432.39 L140.80,432.39 L141.00,432.39 L141.20,432.39 L141.40,432.38 L141.60,432.38 L141.80,432.38 L142.00,432.38 L142.20,432.38 L142.40,432.37 L142.60,432.37 L142.80,432.37 L143.00,432.37 L143.20,432.36 L143.40,432.36 L143.60,432.35 L143.80,432.34 L144.00,432.32 L144.20,432.30 L144.40,432.27 L144.60,432.22 L144.80,432.15 L145.00,432.06 L145.20,431.95 L145.40,431.81 L145.60,431.63 L145.80,431.43 L146.00,431.20 L146.20,430.95 L146.40,430.69 L146.60,430.45 L146.80,430.22 L147.00,430.04 L147.20,429.91 L147.40,429.83 L147.60,429.83 L147.80,429.87 L148.00,429.96 L148.20,430.08 L148.40,430.23 L148.60,430.40 L148.80,430.60 L149.00,430.79 L149.20,430.99 L149.40,431.19 L149.60,431.37 L149.80,431.53 L150.00,431.68 L150.20,431.80 L150.40,431.91 L150.60,432.00 L150.80,432.07 L151.00,432.13 L151.20,432.17 L151.40,432.20 L151.60,432.23 L151.80,432.24 L152.00,432.25 L152.20,432.26 L152.40,432.27 L152.60,432.27 L152.80,432.27 L153.00,432.27 L153.20,432.27 L153.40,432.27 L153.60,432.26 L153.80,432.26 L154.00,432.26 L154.20,432.26 L154.40,432.26 L154.60,432.26 L154.80,432.25 L155.00,432.25 L155.20,432.25 L155.40,432.25 L155.60,432.25 L155.80,432.24 L156.00,432.24 L156.20,432.24 L156.40,432.24 L156.60,432.24 L156.80,432.23 L157.00,432.23 L157.20,432.23 L157.40,432.23 L157.60,432.23 L157.80,432.22 L158.00,432.22 L158.20,432.22 L158.40,432.22 L158.60,432.22 L158.80,432.21 L159.00,432.21 L159.20,432.21 L159.40,432.21 L159.60,432.21 L159.80,432.20 L160.00,432.20 L160.20,432.20 L160.40,432.20 L160.60,432.20 L160.80,432.19 L161.00,432.19 L161.20,432.19 L161.40,432.19 L161.60,432.19 L161.80,432.18 L162.00,432.18 L162.20,432.18 L162.40,432.18 L162.60,432.18 L162.80,432.18 L163.00,432.17 L163.20,432.17 L163.40,432.17 L163.60,432.17 L163.80,432.17 L164.00,432.16 L164.20,432.16 L164.40,432.16 L164.60,432.16 L164.80,432.16 L165.00,432.15 L165.20,432.15 L165.40,432.15 L165.60,432.15 L165.80,432.15 L166.00,432.14 L166.20,432.14 L166.40,432.14 L166.60,432.14 L166.80,432.14 L167.00,432.13 L167.20,432.13 L167.40,432.13 L167.60,432.13 L167.80,432.13 L168.00,432.12 L168.20,432.12 L168.40,432.12 L168.60,432.12 L168.80,432.12 L169.00,432.11 L169.20,432.11 L169.40,432.11 L169.60,432.11 L169.80,432.11 L170.00,432.10 L170.20,432.10 L170.40,432.10 L170.60,432.10 L170.80,432.10 L171.00,432.09 L171.20,432.09 L171.40,432.09 L171.60,432.09 L171.80,432.09 L172.00,432.08 L172.20,432.08 L172.40,432.08 L172.60,432.08 L172.80,432.08 L173.00,432.07 L173.20,432.07 L173.40,432.07 L173.60,432.07 L173.80,432.07 L174.00,432.06 L174.20,432.06 L174.40,432.06 L174.60,432.06 L174.80,432.06 L175.00,432.06 L175.20,432.05 L175.40,432.05 L175.60,432.05 L175.80,432.05 L176.00,432.05 L176.20,432.04 L176.40,432.04 L176.60,432.04 L176.80,432.04 L177.00,432.04 L177.20,432.03 L177.40,432.03 L177.60,432.03 L177.80,432.03 L178.00,432.03 L178.20,432.02 L178.40,432.02 L178.60,432.02 L178.80,432.02 L179.00,432.01 L179.20,432.01 L179.40,432.01 L179.60,432.01 L179.80,432.00 L180.00,432.00 L180.20,431.99 L180.40,431.98 L180.60,431.96 L180.80,431.94 L181.00,431.91 L181.20,431.86 L181.40,431.80 L181.60,431.71 L181.80,431.59 L182.00,431.43 L182.20,431.20 L182.40,430.91 L182.60,430.52 L182.80,430.02 L183.00,429.39 L183.20,428.59 L183.40,427.60 L183.60,426.39 L183.80,424.93 L184.00,423.21 L184.20,421.19 L184.40,418.87 L184.60,416.25 L184.80,413.31 L185.00,410.08 L185.20,406.60 L185.40,402.88 L185.60,398.99 L185.80,395.00 L186.00,390.96 L186.20,386.95 L186.40,383.06 L186.60,379.37 L186.80,375.95 L187.00,372.86 L187.20,370.17 L187.40,367.92 L187.60,366.15 L187.80,364.87 L188.00,364.08 L188.20,363.77 L188.40,363.92 L188.60,364.49 L188.80,365.44 L189.00,366.72 L189.20,368.29 L189.40,370.08 L189.60,372.06 L189.80,374.17 L190.00,376.37 L190.20,378.61 L190.40,380.88 L190.60,383.13 L190.80,385.36 L191.00,387.53 L191.20,389.64 L191.40,391.68 L191.60,393.64 L191.80,395.51 L192.00,397.31 L192.20,399.01 L192.40,400.64 L192.60,402.18 L192.80,403.65 L193.00,405.04 L193.20,406.36 L193.40,407.61 L193.60,408.80 L193.80,409.92 L194.00,410.99 L194.20,412.00 L194.40,412.95 L194.60,413.86 L194.80,414.72 L195.00,415.53 L195.20,416.30 L195.40,417.03 L195.60,417.73 L195.80,418.38 L196.00,419.01 L196.20,419.60 L196.40,420.16 L196.60,420.69 L196.80,421.19 L197.00,421.67 L197.20,422.12 L197.40,422.55 L197.60,422.96 L197.80,423.35 L198.00,423.72 L198.20,424.06 L198.40,424.39 L198.60,424.71 L198.80,425.01 L199.00,425.29 L199.20,425.56 L199.40,425.81 L199.60,426.06 L199.80,426.29 L200.00,426.51 L200.20,426.72 L200.40,426.91 L200.60,427.10 L200.80,427.28 L201.00,427.45 L201.20,427.61 L201.40,427.77 L201.60,427.91 L201.80,428.05 L202.00,428.19 L202.20,428.31 L202.40,428.43 L202.60,428.55 L202.80,428.66 L203.00,428.76 L203.20,428.86 L203.40,428.96 L203.60,429.05 L203.80,429.13 L204.00,429.22 L204.20,429.30 L204.40,429.37 L204.60,429.44 L204.80,429.51 L205.00,429.58 L205.20,429.64 L205.40,429.70 L205.60,429.76 L205.80,429.81 L206.00,429.86 L206.20,429.91 L206.40,429.96 L206.60,430.01 L206.80,430.05 L207.00,430.09 L207.20,430.14 L207.40,430.17 L207.60,430.21 L207.80,430.25 L208.00,430.28 L208.20,430.32 L208.40,430.35 L208.60,430.38 L208.80,430.41 L209.00,430.44 L209.20,430.46 L209.40,430.49 L209.60,430.52 L209.80,430.54 L210.00,430.56 L210.20,430.59 L210.40,430.61 L210.60,430.63 L210.80,430.65 L211.00,430.67 L211.20,430.69 L211.40,430.71 L211.60,430.72 L211.80,430.74 L212.00,430.76 L212.20,430.77 L212.40,430.79 L212.60,430.80 L212.80,430.82 L213.00,430.83 L213.20,430.85 L213.40,430.86 L213.60,430.87 L213.80,430.89 L214.00,430.90 L214.20,430.91 L214.40,430.92 L214.60,430.93 L214.80,430.94 L215.00,430.95 L215.20,430.96 L215.40,430.97 L215.60,430.98 L215.80,430.99 L216.00,431.00 L216.20,431.01 L216.40,431.02 L216.60,431.03 L216.80,431.04 L217.00,431.04 L217.20,431.05 L217.40,431.06 L217.60,431.07 L217.80,431.07 L218.00,431.08 L218.20,431.09 L218.40,431.09 L218.60,431.10 L218.80,431.11 L219.00,431.11 L219.20,431.12 L219.40,431.12 L219.60,431.13 L219.80,431.13 L220.00,431.14 L220.20,431.15 L220.40,431.15 L220.60,431.16 L220.80,431.16 L221.00,431.17 L221.20,431.17" fill="none" stroke="#3a3a3a" stroke-width="1" stroke-linejoin="round" clip-path="url(#c3)"/>
<clipPath id="c4"><rect x="36.0" y="438.2" width="185.2" height="68.80000000000001"/></clipPath>
<path d="M36.00,505.40 L36.20,505.40 L36.40,505.40 L36.60,505.40 L36.80,505.40 L37.00,505.40 L37.20,505.40 L37.40,505.40 L37.60,505.40 L37.80,505.40 L38.00,505.40 L38.20,505.40 L38.40,505.40 L38.60,505.40 L38.80,505.40 L39.00,505.40 L39.20,505.40 L39.40,505.40 L39.60,505.40 L39.80,505.40 L40.00,505.40 L40.20,505.40 L40.40,505.40 L40.60,505.40 L40.80,505.40 L41.00,505.40 L41.20,505.40 L41.40,505.40 L41.60,505.40 L41.80,505.40 L42.00,505.40 L42.20,505.40 L42.40,505.40 L42.60,505.40 L42.80,505.40 L43.00,505.40 L43.20,505.40 L43.40,505.40 L43.60,505.40 L43.80,505.40 L44.00,505.40 L44.20,505.40 L44.40,505.40 L44.60,505.40 L44.80,505.40 L45.00,505.40 L45.20,505.40 L45.40,505.40 L45.60,505.40 L45.80,505.40 L46.00,505.40 L46.20,505.40 L46.40,505.40 L46.60,505.40 L46.80,505.40 L47.00,505.40 L47.20,505.40 L47.40,505.40 L47.60,505.40 L47.80,505.40 L48.00,505.40 L48.20,505.40 L48.40,505.39 L48.60,505.36 L48.80,505.26 L49.00,504.97 L49.20,504.18 L49.40,502.26 L49.60,498.12 L49.80,490.15 L50.00,476.45 L50.20,455.49 L50.40,427.04 L50.60,392.96 L50.80,357.26 L51.00,325.17 L51.20,301.48 L51.40,289.00 L51.60,287.92 L51.80,296.17 L52.00,310.60 L52.20,328.07 L52.40,346.23 L52.60,363.61 L52.80,379.52 L53.00,393.77 L53.20,406.38 L53.40,417.50 L53.60,427.29 L53.80,435.90 L54.00,443.49 L54.20,450.18 L54.40,456.07 L54.60,461.26 L54.80,465.84 L55.00,469.89 L55.20,473.47 L55.40,476.63 L55.60,479.43 L55.80,481.91 L56.00,484.11 L56.20,486.06 L56.40,487.80 L56.60,489.34 L56.80,490.71 L57.00,491.94 L57.20,493.03 L57.40,494.01 L57.60,494.89 L57.80,495.67 L58.00,496.38 L58.20,497.01 L58.40,497.59 L58.60,498.10 L58.80,498.57 L59.00,498.99 L59.20,499.38 L59.40,499.73 L59.60,500.05 L59.80,500.34 L60.00,500.61 L60.20,500.86 L60.40,501.08 L60.60,501.29 L60.80,501.48 L61.00,501.66 L61.20,501.82 L61.40,501.98 L61.60,502.12 L61.80,502.25 L62.00,502.37 L62.20,502.49 L62.40,502.60 L62.60,502.70 L62.80,502.80 L63.00,502.89 L63.20,502.97 L63.40,503.05 L63.60,503.13 L63.80,503.20 L64.00,503.27 L64.20,503.33 L64.40,503.39 L64.60,503.45 L64.80,503.51 L65.00,503.56 L65.20,503.61 L65.40,503.66 L65.60,503.71 L65.80,503.75 L66.00,503.79 L66.20,503.83 L66.40,503.87 L66.60,503.91 L66.80,503.95 L67.00,503.98 L67.20,504.01 L67.40,504.04 L67.60,504.07 L67.80,504.10 L68.00,504.13 L68.20,504.16 L68.40,504.19 L68.60,504.21 L68.80,504.23 L69.00,504.26 L69.20,504.28 L69.40,504.30 L69.60,504.32 L69.80,504.34 L70.00,504.36 L70.20,504.38 L70.40,504.40 L70.60,504.42 L70.80,504.43 L71.00,504.45 L71.20,504.47 L71.40,504.48 L71.60,504.50 L71.80,504.51 L72.00,504.52 L72.20,504.54 L72.40,504.55 L72.60,504.56 L72.80,504.58 L73.00,504.59 L73.20,504.60 L73.40,504.61 L73.60,504.62 L73.80,504.63 L74.00,504.64 L74.20,504.65 L74.40,504.66 L74.60,504.67 L74.80,504.68 L75.00,504.69 L75.20,504.70 L75.40,504.71 L75.60,504.71 L75.80,504.72 L76.00,504.73 L76.20,504.74 L76.40,504.74 L76.60,504.75 L76.80,504.76 L77.00,504.76 L77.20,504.77 L77.40,504.78 L77.60,504.78 L77.80,504.79 L78.00,504.79 L78.20,504.80 L78.40,504.80 L78.60,504.81 L78.80,504.81 L79.00,504.82 L79.20,504.82 L79.40,504.83 L79.60,504.83 L79.80,504.84 L80.00,504.84 L80.20,504.85 L80.40,504.85 L80.60,504.85 L80.80,504.86 L81.00,504.86 L81.20,504.86 L81.40,504.87 L81.60,504.87 L81.80,504.87 L82.00,504.88 L82.20,504.88 L82.40,504.88 L82.60,504.89 L82.80,504.89 L83.00,504.89 L83.20,504.90 L83.40,504.90 L83.60,504.90 L83.80,504.90 L84.00,504.90 L84.20,504.91 L84.40,504.91 L84.60,504.91 L84.80,504.91 L85.00,504.92 L85.20,504.92 L85.40,504.92 L85.60,504.92 L85.80,504.92 L86.00,504.92 L86.20,504.93 L86.40,504.93 L86.60,504.93 L86.80,504.93 L87.00,504.93 L87.20,504.93 L87.40,504.93 L87.60,504.94 L87.80,504.94 L88.00,504.94 L88.20,504.94 L88.40,504.94 L88.60,504.94 L88.80,504.94 L89.00,504.94 L89.20,504.94 L89.40,504.94 L89.60,504.95 L89.80,504.95 L90.00,504.95 L90.20,504.95 L90.40,504.95 L90.60,504.95 L90.80,504.95 L91.00,504.95 L91.20,504.95 L91.40,504.95 L91.60,504.95 L91.80,504.95 L92.00,504.95 L92.20,504.95 L92.40,504.95 L92.60,504.95 L92.80,504.95 L93.00,504.95 L93.20,504.95 L93.40,504.95 L93.60,504.95 L93.80,504.95 L94.00,504.95 L94.20,504.95 L94.40,504.95 L94.60,504.95 L94.80,504.95 L95.00,504.95 L95.20,504.95 L95.40,504.95 L95.60,504.95 L95.80,504.95 L96.00,504.95 L96.20,504.95 L96.40,504.95 L96.60,504.95 L96.80,504.95 L97.00,504.95 L97.20,504.95 L97.40,504.95 L97.60,504.95 L97.80,504.95 L98.00,504.95 L98.20,504.95 L98.40,504.95 L98.60,504.95 L98.80,504.95 L99.00,504.95 L99.20,504.95 L99.40,504.95 L99.60,504.94 L99.80,504.94 L100.00,504.94 L100.20,504.94 L100.40,504.94 L100.60,504.94 L100.80,504.94 L101.00,504.94 L101.20,504.94 L101.40,504.94 L101.60,504.94 L101.80,504.94 L102.00,504.94 L102.20,504.93 L102.40,504.93 L102.60,504.93 L102.80,504.93 L103.00,504.93 L103.20,504.93 L103.40,504.93 L103.60,504.93 L103.80,504.93 L104.00,504.93 L104.20,504.93 L104.40,504.92 L104.60,504.92 L104.80,504.92 L105.00,504.92 L105.20,504.92 L105.40,504.92 L105.60,504.92 L105.80,504.92 L106.00,504.92 L106.20,504.92 L106.40,504.91 L106.60,504.91 L106.80,504.91 L107.00,504.91 L107.20,504.91 L107.40,504.91 L107.60,504.91 L107.80,504.91 L108.00,504.90 L108.20,504.90 L108.40,504.90 L108.60,504.90 L108.80,504.90 L109.00,504.90 L109.20,504.90 L109.40,504.90 L109.60,504.90 L109.80,504.89 L110.00,504.89 L110.20,504.89 L110.40,504.89 L110.60,504.89 L110.80,504.89 L111.00,504.89 L111.20,504.89 L111.40,504.88 L111.60,504.88 L111.80,504.88 L112.00,504.88 L112.20,504.88 L112.40,504.88 L112.60,504.88 L112.80,504.87 L113.00,504.87 L113.20,504.87 L113.40,504.87 L113.60,504.87 L113.80,504.87 L114.00,504.87 L114.20,504.87 L114.40,504.86 L114.60,504.86 L114.80,504.86 L115.00,504.86 L115.20,504.86 L115.40,504.86 L115.60,504.86 L115.80,504.85 L116.00,504.85 L116.20,504.85 L116.40,504.85 L116.60,504.85 L116.80,504.85 L117.00,504.85 L117.20,504.84 L117.40,504.84 L117.60,504.84 L117.80,504.84 L118.00,504.84 L118.20,504.84 L118.40,504.84 L118.60,504.83 L118.80,504.83 L119.00,504.83 L119.20,504.83 L119.40,504.83 L119.60,504.83 L119.80,504.83 L120.00,504.82 L120.20,504.82 L120.40,504.82 L120.60,504.82 L120.80,504.82 L121.00,504.82 L121.20,504.82 L121.40,504.81 L121.60,504.81 L121.80,504.81 L122.00,504.81 L122.20,504.81 L122.40,504.81 L122.60,504.80 L122.80,504.80 L123.00,504.80 L123.20,504.80 L123.40,504.80 L123.60,504.80 L123.80,504.80 L124.00,504.79 L124.20,504.79 L124.40,504.79 L124.60,504.79 L124.80,504.79 L125.00,504.79 L125.20,504.79 L125.40,504.78 L125.60,504.78 L125.80,504.78 L126.00,504.78 L126.20,504.78 L126.40,504.78 L126.60,504.77 L126.80,504.77 L127.00,504.77 L127.20,504.77 L127.40,504.77 L127.60,504.77 L127.80,504.77 L128.00,504.76 L128.20,504.76 L128.40,504.76 L128.60,504.76 L128.80,504.76 L129.00,504.76 L129.20,504.75 L129.40,504.75 L129.60,504.75 L129.80,504.75 L130.00,504.75 L130.20,504.75 L130.40,504.74 L130.60,504.74 L130.80,504.74 L131.00,504.74 L131.20,504.74 L131.40,504.74 L131.60,504.74 L131.80,504.73 L132.00,504.73 L132.20,504.73 L132.40,504.73 L132.60,504.73 L132.80,504.73 L133.00,504.72 L133.20,504.72 L133.40,504.72 L133.60,504.72 L133.80,504.72 L134.00,504.72 L134.20,504.71 L134.40,504.71 L134.60,504.71 L134.80,504.71 L135.00,504.71 L135.20,504.71 L135.40,504.70 L135.60,504.70 L135.80,504.70 L136.00,504.70 L136.20,504.70 L136.40,504.70 L136.60,504.70 L136.80,504.69 L137.00,504.69 L137.20,504.69 L137.40,504.69 L137.60,504.69 L137.80,504.69 L138.00,504.68 L138.20,504.68 L138.40,504.68 L138.60,504.68 L138.80,504.68 L139.00,504.68 L139.20,504.67 L139.40,504.67 L139.60,504.67 L139.80,504.67 L140.00,504.67 L140.20,504.67 L140.40,504.66 L140.60,504.66 L140.80,504.66 L141.00,504.66 L141.20,504.66 L141.40,504.66 L141.60,504.65 L141.80,504.65 L142.00,504.65 L142.20,504.65 L142.40,504.65 L142.60,504.65 L142.80,504.64 L143.00,504.64 L143.20,504.64 L143.40,504.63 L143.60,504.63 L143.80,504.62 L144.00,504.60 L144.20,504.58 L144.40,504.55 L144.60,504.51 L144.80,504.45 L145.00,504.36 L145.20,504.26 L145.40,504.13 L145.60,503.97 L145.80,503.78 L146.00,503.57 L146.20,503.34 L146.40,503.10 L146.60,502.88 L146.80,502.67 L147.00,502.50 L147.20,502.38 L147.40,502.32 L147.60,502.31 L147.80,502.35 L148.00,502.43 L148.20,502.54 L148.40,502.68 L148.60,502.84 L148.80,503.02 L149.00,503.20 L149.20,503.38 L149.40,503.56 L149.60,503.73 L149.80,503.88 L150.00,504.01 L150.20,504.13 L150.40,504.23 L150.60,504.31 L150.80,504.38 L151.00,504.43 L151.20,504.47 L151.40,504.50 L151.60,504.52 L151.80,504.53 L152.00,504.54 L152.20,504.55 L152.40,504.56 L152.60,504.56 L152.80,504.56 L153.00,504.56 L153.20,504.56 L153.40,504.56 L153.60,504.56 L153.80,504.56 L154.00,504.55 L154.20,504.55 L154.40,504.55 L154.60,504.55 L154.80,504.55 L155.00,504.55 L155.20,504.54 L155.40,504.54 L155.60,504.54 L155.80,504.54 L156.00,504.54 L156.20,504.54 L156.40,504.53 L156.60,504.53 L156.80,504.53 L157.00,504.53 L157.20,504.53 L157.40,504.53 L157.60,504.52 L157.80,504.52 L158.00,504.52 L158.20,504.52 L158.40,504.52 L158.60,504.52 L158.80,504.51 L159.00,504.51 L159.20,504.51 L159.40,504.51 L159.60,504.51 L159.80,504.51 L160.00,504.50 L160.20,504.50 L160.40,504.50 L160.60,504.50 L160.80,504.50 L161.00,504.50 L161.20,504.49 L161.40,504.49 L161.60,504.49 L161.80,504.49 L162.00,504.49 L162.20,504.49 L162.40,504.48 L162.60,504.48 L162.80,504.48 L163.00,504.48 L163.20,504.48 L163.40,504.48 L163.60,504.47 L163.80,504.47 L164.00,504.47 L164.20,504.47 L164.40,504.47 L164.60,504.47 L164.80,504.47 L165.00,504.46 L165.20,504.46 L165.40,504.46 L165.60,504.46 L165.80,504.46 L166.00,504.46 L166.20,504.45 L166.40,504.45 L166.60,504.45 L166.80,504.45 L167.00,504.45 L167.20,504.45 L167.40,504.44 L167.60,504.44 L167.80,504.44 L168.00,504.44 L168.20,504.44 L168.40,504.44 L168.60,504.43 L168.80,504.43 L169.00,504.43 L169.20,504.43 L169.40,504.43 L169.60,504.43 L169.80,504.42 L170.00,504.42 L170.20,504.42 L170.40,504.42 L170.60,504.42 L170.80,504.42 L171.00,504.41 L171.20,504.41 L171.40,504.41 L171.60,504.41 L171.80,504.41 L172.00,504.41 L172.20,504.40 L172.40,504.40 L172.60,504.40 L172.80,504.40 L173.00,504.40 L173.20,504.40 L173.40,504.39 L173.60,504.39 L173.80,504.39 L174.00,504.39 L174.20,504.39 L174.40,504.39 L174.60,504.38 L174.80,504.38 L175.00,504.38 L175.20,504.38 L175.40,504.38 L175.60,504.38 L175.80,504.37 L176.00,504.37 L176.20,504.37 L176.40,504.37 L176.60,504.37 L176.80,504.37 L177.00,504.36 L177.20,504.36 L177.40,504.36 L177.60,504.36 L177.80,504.36 L178.00,504.36 L178.20,504.35 L178.40,504.35 L178.60,504.35 L178.80,504.35 L179.00,504.35 L179.20,504.34 L179.40,504.34 L179.60,504.34 L179.80,504.33 L180.00,504.33 L180.20,504.32 L180.40,504.31 L180.60,504.29 L180.80,504.27 L181.00,504.24 L181.20,504.19 L181.40,504.12 L181.60,504.03 L181.80,503.90 L182.00,503.72 L182.20,503.48 L182.40,503.17 L182.60,502.75 L182.80,502.21 L183.00,501.53 L183.20,500.67 L183.40,499.60 L183.60,498.30 L183.80,496.73 L184.00,494.88 L184.20,492.71 L184.40,490.21 L184.60,487.38 L184.80,484.22 L185.00,480.74 L185.20,476.98 L185.40,472.98 L185.60,468.79 L185.80,464.48 L186.00,460.13 L186.20,455.81 L186.40,451.62 L186.60,447.63 L186.80,443.94 L187.00,440.60 L187.20,437.69 L187.40,435.26 L187.60,433.34 L187.80,431.94 L188.00,431.07 L188.20,430.73 L188.40,430.87 L188.60,431.47 L188.80,432.48 L189.00,433.84 L189.20,435.51 L189.40,437.43 L189.60,439.54 L189.80,441.80 L190.00,444.15 L190.20,446.55 L190.40,448.98 L190.60,451.40 L190.80,453.78 L191.00,456.11 L191.20,458.37 L191.40,460.56 L191.60,462.66 L191.80,464.67 L192.00,466.59 L192.20,468.43 L192.40,470.17 L192.60,471.83 L192.80,473.40 L193.00,474.90 L193.20,476.32 L193.40,477.66 L193.60,478.93 L193.80,480.14 L194.00,481.29 L194.20,482.37 L194.40,483.40 L194.60,484.37 L194.80,485.30 L195.00,486.17 L195.20,487.00 L195.40,487.79 L195.60,488.54 L195.80,489.25 L196.00,489.92 L196.20,490.56 L196.40,491.16 L196.60,491.73 L196.80,492.28 L197.00,492.79 L197.20,493.28 L197.40,493.75 L197.60,494.19 L197.80,494.61 L198.00,495.01 L198.20,495.38 L198.40,495.74 L198.60,496.08 L198.80,496.41 L199.00,496.71 L199.20,497.01 L199.40,497.29 L199.60,497.55 L199.80,497.80 L200.00,498.04 L200.20,498.27 L200.40,498.48 L200.60,498.69 L200.80,498.89 L201.00,499.07 L201.20,499.25 L201.40,499.42 L201.60,499.58 L201.80,499.74 L202.00,499.88 L202.20,500.02 L202.40,500.16 L202.60,500.28 L202.80,500.40 L203.00,500.52 L203.20,500.63 L203.40,500.74 L203.60,500.84 L203.80,500.93 L204.00,501.03 L204.20,501.11 L204.40,501.20 L204.60,501.28 L204.80,501.36 L205.00,501.43 L205.20,501.50 L205.40,501.57 L205.60,501.64 L205.80,501.70 L206.00,501.76 L206.20,501.82 L206.40,501.87 L206.60,501.92 L206.80,501.98 L207.00,502.03 L207.20,502.07 L207.40,502.12 L207.60,502.16 L207.80,502.20 L208.00,502.24 L208.20,502.28 L208.40,502.32 L208.60,502.36 L208.80,502.39 L209.00,502.43 L209.20,502.46 L209.40,502.49 L209.60,502.52 L209.80,502.55 L210.00,502.58 L210.20,502.61 L210.40,502.63 L210.60,502.66 L210.80,502.68 L211.00,502.71 L211.20,502.73 L211.40,502.75 L211.60,502.78 L211.80,502.80 L212.00,502.82 L212.20,502.84 L212.40,502.86 L212.60,502.88 L212.80,502.90 L213.00,502.92 L213.20,502.93 L213.40,502.95 L213.60,502.97 L213.80,502.98 L214.00,503.00 L214.20,503.01 L214.40,503.03 L214.60,503.04 L214.80,503.06 L215.00,503.07 L215.20,503.09 L215.40,503.10 L215.60,503.11 L215.80,503.12 L216.00,503.14 L216.20,503.15 L216.40,503.16 L216.60,503.17 L216.80,503.18 L217.00,503.19 L217.20,503.21 L217.40,503.22 L217.60,503.23 L217.80,503.24 L218.00,503.25 L218.20,503.26 L218.40,503.27 L218.60,503.27 L218.80,503.28 L219.00,503.29 L219.20,503.30 L219.40,503.31 L219.60,503.32 L219.80,503.33 L220.00,503.33 L220.20,503.34 L220.40,503.35 L220.60,503.36 L220.80,503.37 L221.00,503.37 L221.20,503.38" fill="none" stroke="#3a3a3a" stroke-width="1" stroke-linejoin="round" clip-path="url(#c4)"/>
<line x1="38.50" y1="505.20" x2="46.50" y2="505.20" stroke="#999" stroke-width="1.6" />
<line x1="43.60" y1="365.80" x2="48.40" y2="365.80" stroke="#777" stroke-width="1.4" />
<line x1="36.00" y1="221.40" x2="36.00" y2="283.50" stroke="#111" stroke-width="1.6" />
<line x1="36.00" y1="283.50" x2="36.00" y2="506.70" stroke="#2a2a2a" stroke-width="1.1" />
<line x1="36.00" y1="222.40" x2="222.00" y2="222.40" stroke="#111" stroke-width="2" />
<line x1="221.20" y1="222.40" x2="221.20" y2="283.20" stroke="#111" stroke-width="1.3" />
<line x1="221.20" y1="283.20" x2="221.20" y2="506.70" stroke="#555" stroke-width="1" />
<line x1="36.00" y1="282.80" x2="221.20" y2="282.80" stroke="#222" stroke-width="1.25" />
<line x1="36.00" y1="506.70" x2="221.20" y2="506.70" stroke="#333" stroke-width="1.3" />
<line x1="80.20" y1="506.70" x2="80.20" y2="509.70" stroke="#333" stroke-width="1" />
<text x="80.20" y="523.93" font-size="12.2" text-anchor="middle" fill="#111" >5</text>
<line x1="127.50" y1="506.70" x2="127.50" y2="509.70" stroke="#333" stroke-width="1" />
<text x="127.50" y="523.93" font-size="12.2" text-anchor="middle" fill="#111" >10</text>
<line x1="170.80" y1="506.70" x2="170.80" y2="509.70" stroke="#333" stroke-width="1" />
<text x="170.80" y="523.93" font-size="12.2" text-anchor="middle" fill="#111" >15</text>
<line x1="33.00" y1="238.40" x2="36.00" y2="238.40" stroke="#333" stroke-width="1" />
<text x="32.60" y="242.66" font-size="12" text-anchor="end" fill="#111" >200</text>
<line x1="33.00" y1="261.50" x2="36.00" y2="261.50" stroke="#333" stroke-width="1" />
<text x="32.60" y="265.76" font-size="12" text-anchor="end" fill="#111" >100</text>
<line x1="33.00" y1="282.90" x2="36.00" y2="282.90" stroke="#333" stroke-width="1" />
<text x="32.60" y="287.16" font-size="12" text-anchor="end" fill="#111" >0</text>
<line x1="33.00" y1="306.20" x2="36.00" y2="306.20" stroke="#333" stroke-width="1" />
<text x="32.60" y="310.46" font-size="12" text-anchor="end" fill="#111" >20</text>
<line x1="33.00" y1="335.00" x2="36.00" y2="335.00" stroke="#333" stroke-width="1" />
<text x="32.60" y="339.26" font-size="12" text-anchor="end" fill="#111" >10</text>
<line x1="33.00" y1="363.30" x2="36.00" y2="363.30" stroke="#333" stroke-width="1" />
<text x="32.60" y="367.56" font-size="12" text-anchor="end" fill="#111" >0</text>
<line x1="33.00" y1="375.70" x2="36.00" y2="375.70" stroke="#333" stroke-width="1" />
<text x="32.60" y="379.96" font-size="12" text-anchor="end" fill="#111" >20</text>
<line x1="33.00" y1="404.10" x2="36.00" y2="404.10" stroke="#333" stroke-width="1" />
<text x="32.60" y="408.36" font-size="12" text-anchor="end" fill="#111" >10</text>
<line x1="33.00" y1="433.40" x2="36.00" y2="433.40" stroke="#333" stroke-width="1" />
<text x="32.60" y="437.66" font-size="12" text-anchor="end" fill="#111" >0</text>
<line x1="33.00" y1="446.40" x2="36.00" y2="446.40" stroke="#333" stroke-width="1" />
<text x="32.60" y="450.66" font-size="12" text-anchor="end" fill="#111" >20</text>
<line x1="33.00" y1="476.10" x2="36.00" y2="476.10" stroke="#333" stroke-width="1" />
<text x="32.60" y="480.36" font-size="12" text-anchor="end" fill="#111" >10</text>
<line x1="33.00" y1="506.20" x2="36.00" y2="506.20" stroke="#333" stroke-width="1" />
<text x="32.60" y="510.46" font-size="12" text-anchor="end" fill="#111" >0</text>
<text transform="translate(7.60,348.60) rotate(-90)" x="0" y="4.44" font-size="12.5" text-anchor="middle" fill="#111" >m AU</text>
<line x1="168.80" y1="226.20" x2="180.00" y2="226.20" stroke="#111" stroke-width="1.1" />
<path d="M187.00,226.20 L180.00,222.80 L180.00,229.60 Z" fill="#111"/>
<text x="192.50" y="231.75" font-size="11.7" text-anchor="start" fill="#111" >api</text>
<text x="118.20" y="294.82" font-size="15" text-anchor="middle" fill="#111" >vector</text>
<text x="192.70" y="306.35" font-size="11.7" text-anchor="start" fill="#111" >api</text>
<text x="192.50" y="379.65" font-size="11.7" text-anchor="start" fill="#111" >api</text>
<text x="192.50" y="447.65" font-size="11.7" text-anchor="start" fill="#111" >api</text>
<text x="78.40" y="341.13" font-size="12.2" text-anchor="start" fill="#111" >api +UDPG</text>
<text x="78.40" y="404.63" font-size="12.2" text-anchor="start" fill="#111" >api +ADPG</text>
<text x="78.40" y="480.83" font-size="12.2" text-anchor="start" fill="#111" >api +UDPGal</text>
<text x="236.60" y="219.61" font-size="17.5" text-anchor="start" fill="#111" >E</text>
<clipPath id="c5"><rect x="255.5" y="221.6" width="182.8" height="56.900000000000006"/></clipPath>
<path d="M255.50,274.60 L255.70,274.61 L255.90,274.61 L256.10,274.62 L256.30,274.62 L256.50,274.63 L256.70,274.64 L256.90,274.64 L257.10,274.65 L257.30,274.66 L257.50,274.66 L257.70,274.67 L257.90,274.67 L258.10,274.68 L258.30,274.69 L258.50,274.69 L258.70,274.70 L258.90,274.70 L259.10,274.71 L259.30,274.72 L259.50,274.72 L259.70,274.73 L259.90,274.74 L260.10,274.74 L260.30,274.75 L260.50,274.75 L260.70,274.76 L260.90,274.77 L261.10,274.77 L261.30,274.78 L261.50,274.78 L261.70,274.79 L261.90,274.80 L262.00,274.80 L262.10,274.80 L262.30,274.79 L262.50,274.78 L262.70,274.76 L262.90,274.75 L263.10,274.75 L263.30,274.74 L263.50,274.73 L263.70,274.72 L263.90,274.70 L264.10,274.69 L264.30,274.69 L264.50,274.68 L264.70,274.67 L264.90,274.66 L265.10,274.64 L265.30,274.63 L265.50,274.62 L265.70,274.62 L265.90,274.61 L266.10,274.59 L266.30,274.58 L266.50,274.57 L266.70,274.56 L266.90,274.55 L267.10,274.54 L267.30,274.53 L267.50,274.52 L267.70,274.51 L267.90,274.50 L268.00,274.50 L268.10,274.50 L268.30,274.48 L268.50,274.46 L268.70,274.39 L268.90,274.21 L269.10,273.76 L269.30,272.79 L269.50,271.00 L269.70,268.19 L269.90,264.51 L270.10,260.61 L270.30,257.57 L270.50,256.41 L270.70,256.96 L270.90,258.51 L271.10,260.80 L271.30,263.47 L271.50,266.14 L271.70,268.53 L271.90,270.47 L272.10,271.92 L272.30,272.92 L272.50,273.55 L272.70,273.92 L272.90,274.13 L273.10,274.22 L273.30,274.25 L273.50,274.22 L273.70,274.08 L273.90,273.73 L274.10,273.04 L274.30,271.91 L274.50,270.45 L274.70,269.00 L274.90,268.08 L275.10,268.01 L275.30,268.50 L275.50,269.35 L275.70,270.41 L275.90,271.46 L276.10,272.38 L276.30,273.08 L276.50,273.57 L276.70,273.86 L276.90,274.03 L277.10,274.11 L277.30,274.14 L277.50,274.15 L277.70,274.15 L277.90,274.15 L278.10,274.14 L278.30,274.14 L278.50,274.13 L278.70,274.12 L278.90,274.12 L279.10,274.11 L279.30,274.10 L279.50,274.09 L279.70,274.09 L279.90,274.08 L280.10,274.07 L280.30,274.07 L280.50,274.06 L280.70,274.05 L280.90,274.04 L281.10,274.04 L281.30,274.03 L281.50,274.02 L281.70,274.02 L281.90,274.01 L282.10,274.00 L282.30,274.00 L282.50,273.99 L282.70,273.98 L282.90,273.97 L283.10,273.97 L283.30,273.96 L283.50,273.95 L283.70,273.95 L283.90,273.94 L284.10,273.93 L284.30,273.92 L284.50,273.92 L284.70,273.91 L284.90,273.90 L285.00,273.90 L285.10,273.90 L285.30,273.90 L285.50,273.90 L285.70,273.91 L285.90,273.91 L286.10,273.91 L286.30,273.91 L286.50,273.91 L286.70,273.91 L286.90,273.91 L287.10,273.92 L287.30,273.92 L287.50,273.92 L287.70,273.92 L287.90,273.92 L288.10,273.92 L288.30,273.93 L288.50,273.93 L288.70,273.93 L288.90,273.93 L289.10,273.93 L289.30,273.93 L289.50,273.93 L289.70,273.94 L289.90,273.94 L290.10,273.94 L290.30,273.94 L290.50,273.94 L290.70,273.94 L290.90,273.95 L291.10,273.95 L291.30,273.95 L291.50,273.95 L291.70,273.95 L291.90,273.95 L292.10,273.95 L292.30,273.96 L292.50,273.96 L292.70,273.96 L292.90,273.96 L293.10,273.96 L293.30,273.96 L293.50,273.97 L293.70,273.97 L293.90,273.97 L294.10,273.97 L294.30,273.97 L294.50,273.97 L294.70,273.97 L294.90,273.98 L295.10,273.98 L295.30,273.98 L295.50,273.98 L295.70,273.98 L295.90,273.98 L296.10,273.99 L296.30,273.99 L296.50,273.99 L296.70,273.99 L296.90,273.99 L297.10,273.99 L297.30,273.99 L297.50,274.00 L297.70,274.00 L297.90,274.00 L298.00,274.00 L298.10,273.92 L298.30,273.76 L298.50,273.60 L298.70,273.44 L298.90,273.28 L299.00,273.20 L299.10,273.28 L299.30,273.44 L299.50,273.60 L299.70,273.76 L299.90,273.92 L300.00,274.00 L300.10,274.00 L300.30,274.00 L300.50,274.00 L300.70,274.00 L300.90,274.00 L301.10,274.00 L301.30,274.00 L301.50,274.00 L301.70,274.00 L301.90,274.00 L302.10,274.00 L302.30,274.00 L302.50,274.00 L302.70,274.00 L302.90,274.00 L303.10,274.00 L303.30,274.00 L303.50,274.00 L303.70,274.00 L303.90,274.00 L304.10,274.00 L304.30,274.00 L304.50,274.00 L304.70,274.00 L304.90,274.00 L305.10,274.00 L305.30,274.00 L305.50,274.00 L305.70,274.00 L305.90,274.00 L306.10,274.00 L306.30,274.00 L306.50,274.00 L306.70,274.00 L306.90,274.00 L307.10,273.99 L307.30,273.97 L307.50,273.93 L307.70,273.82 L307.90,273.57 L308.10,273.08 L308.30,272.16 L308.50,270.57 L308.70,268.04 L308.90,264.35 L309.10,259.39 L309.30,253.28 L309.50,246.38 L309.70,239.29 L309.90,232.67 L310.10,227.16 L310.30,223.16 L310.50,220.82 L310.70,220.03 L310.90,220.48 L311.10,221.83 L311.30,223.72 L311.50,225.90 L311.70,228.18 L311.90,230.44 L312.10,232.63 L312.30,234.73 L312.50,236.73 L312.70,238.62 L312.90,240.42 L313.10,242.12 L313.30,243.73 L313.50,245.26 L313.70,246.71 L313.90,248.08 L314.10,249.37 L314.30,250.60 L314.50,251.77 L314.70,252.87 L314.90,253.92 L315.10,254.91 L315.30,255.85 L315.50,256.74 L315.70,257.59 L315.90,258.39 L316.10,259.15 L316.30,259.86 L316.50,260.55 L316.70,261.19 L316.90,261.81 L317.10,262.39 L317.30,262.94 L317.50,263.46 L317.70,263.96 L317.90,264.43 L318.10,264.87 L318.30,265.30 L318.50,265.70 L318.70,266.08 L318.90,266.44 L319.10,266.78 L319.30,267.11 L319.50,267.42 L319.70,267.71 L319.90,267.99 L320.10,268.26 L320.30,268.51 L320.50,268.75 L320.70,268.97 L320.90,269.19 L321.10,269.39 L321.30,269.59 L321.50,269.77 L321.70,269.95 L321.90,270.11 L322.10,270.27 L322.30,270.42 L322.50,270.57 L322.70,270.70 L322.90,270.83 L323.10,270.95 L323.30,271.07 L323.50,271.18 L323.70,271.29 L323.90,271.39 L324.10,271.49 L324.30,271.58 L324.50,271.66 L324.70,271.75 L324.90,271.83 L325.10,271.90 L325.30,271.97 L325.50,272.04 L325.70,272.11 L325.90,272.17 L326.10,272.23 L326.30,272.28 L326.50,272.34 L326.70,272.39 L326.90,272.44 L327.10,272.48 L327.30,272.53 L327.50,272.57 L327.70,272.61 L327.90,272.65 L328.10,272.68 L328.30,272.72 L328.50,272.75 L328.70,272.79 L328.90,272.82 L329.10,272.84 L329.30,272.87 L329.50,272.90 L329.70,272.92 L329.90,272.95 L330.10,272.97 L330.30,272.99 L330.50,273.02 L330.70,273.04 L330.90,273.06 L331.10,273.07 L331.30,273.09 L331.50,273.11 L331.70,273.12 L331.90,273.14 L332.10,273.15 L332.30,273.17 L332.50,273.18 L332.70,273.20 L332.90,273.21 L333.10,273.22 L333.30,273.23 L333.50,273.24 L333.70,273.25 L333.90,273.26 L334.10,273.27 L334.30,273.28 L334.50,273.29 L334.70,273.30 L334.90,273.30 L335.10,273.31 L335.30,273.32 L335.50,273.33 L335.70,273.33 L335.90,273.34 L336.10,273.35 L336.30,273.35 L336.50,273.36 L336.70,273.36 L336.90,273.37 L337.10,273.37 L337.30,273.38 L337.50,273.38 L337.70,273.38 L337.90,273.39 L338.10,273.39 L338.30,273.40 L338.50,273.40 L338.70,273.40 L338.90,273.40 L339.10,273.41 L339.30,273.41 L339.50,273.41 L339.70,273.42 L339.90,273.42 L340.00,273.42 L340.10,273.42 L340.30,273.43 L340.50,273.44 L340.70,273.44 L340.90,273.45 L341.10,273.46 L341.30,273.47 L341.50,273.47 L341.70,273.48 L341.90,273.49 L342.10,273.49 L342.30,273.50 L342.50,273.51 L342.70,273.51 L342.90,273.52 L343.10,273.52 L343.30,273.53 L343.50,273.54 L343.70,273.54 L343.90,273.55 L344.10,273.55 L344.30,273.56 L344.50,273.56 L344.70,273.57 L344.90,273.58 L345.10,273.58 L345.30,273.59 L345.50,273.59 L345.70,273.60 L345.90,273.60 L346.10,273.61 L346.30,273.61 L346.50,273.62 L346.70,273.62 L346.90,273.63 L347.10,273.63 L347.30,273.64 L347.50,273.64 L347.70,273.65 L347.90,273.65 L348.10,273.66 L348.30,273.66 L348.50,273.67 L348.70,273.67 L348.90,273.67 L349.10,273.68 L349.30,273.68 L349.50,273.69 L349.70,273.69 L349.90,273.70 L350.10,273.70 L350.30,273.70 L350.50,273.71 L350.70,273.71 L350.90,273.72 L351.10,273.72 L351.30,273.73 L351.50,273.73 L351.70,273.73 L351.90,273.74 L352.10,273.74 L352.30,273.75 L352.50,273.75 L352.70,273.75 L352.90,273.76 L353.10,273.76 L353.30,273.77 L353.50,273.77 L353.70,273.77 L353.90,273.78 L354.10,273.78 L354.30,273.79 L354.50,273.79 L354.70,273.79 L354.90,273.80 L355.10,273.80 L355.30,273.80 L355.50,273.81 L355.70,273.81 L355.90,273.82 L356.10,273.82 L356.30,273.82 L356.50,273.83 L356.70,273.83 L356.90,273.83 L357.10,273.84 L357.30,273.84 L357.50,273.85 L357.70,273.85 L357.90,273.85 L358.10,273.86 L358.30,273.86 L358.50,273.86 L358.70,273.87 L358.90,273.87 L359.10,273.87 L359.30,273.88 L359.50,273.88 L359.70,273.88 L359.90,273.89 L360.10,273.89 L360.30,273.89 L360.50,273.90 L360.70,273.90 L360.90,273.91 L361.10,273.91 L361.30,273.91 L361.50,273.92 L361.70,273.92 L361.90,273.92 L362.10,273.93 L362.30,273.93 L362.50,273.93 L362.70,273.94 L362.90,273.94 L363.10,273.94 L363.30,273.95 L363.50,273.95 L363.70,273.95 L363.90,273.96 L364.10,273.96 L364.30,273.96 L364.50,273.97 L364.70,273.97 L364.90,273.97 L365.10,273.98 L365.30,273.98 L365.50,273.98 L365.70,273.99 L365.90,273.99 L366.10,273.99 L366.30,274.00 L366.50,274.00 L366.70,274.00 L366.90,274.01 L367.10,274.01 L367.30,274.01 L367.50,274.02 L367.70,274.02 L367.90,274.02 L368.10,274.03 L368.30,274.03 L368.50,274.03 L368.70,274.03 L368.90,274.04 L369.10,274.04 L369.30,274.04 L369.50,274.05 L369.70,274.05 L369.90,274.05 L370.10,274.06 L370.30,274.06 L370.50,274.06 L370.70,274.07 L370.90,274.07 L371.10,274.07 L371.30,274.08 L371.50,274.08 L371.70,274.08 L371.90,274.09 L372.10,274.09 L372.30,274.09 L372.50,274.10 L372.70,274.10 L372.90,274.10 L373.10,274.11 L373.30,274.11 L373.50,274.11 L373.70,274.11 L373.90,274.12 L374.10,274.12 L374.30,274.12 L374.50,274.13 L374.70,274.13 L374.90,274.13 L375.10,274.14 L375.30,274.14 L375.50,274.14 L375.70,274.15 L375.90,274.15 L376.10,274.15 L376.30,274.16 L376.50,274.16 L376.70,274.16 L376.90,274.16 L377.10,274.17 L377.30,274.17 L377.50,274.17 L377.70,274.18 L377.90,274.18 L378.10,274.18 L378.30,274.19 L378.50,274.19 L378.70,274.19 L378.90,274.20 L379.00,274.20 L379.10,274.12 L379.30,273.97 L379.50,273.82 L379.70,273.67 L379.90,273.51 L380.10,273.36 L380.30,273.21 L380.50,273.06 L380.70,272.91 L380.90,272.75 L381.10,272.60 L381.30,272.45 L381.50,272.30 L381.70,272.50 L381.90,272.70 L382.10,272.90 L382.30,273.10 L382.50,273.30 L382.70,273.50 L382.90,273.70 L383.10,273.90 L383.30,274.10 L383.50,274.30 L383.70,274.30 L383.90,274.30 L384.10,274.30 L384.30,274.30 L384.50,274.31 L384.70,274.31 L384.90,274.31 L385.10,274.31 L385.30,274.31 L385.50,274.31 L385.70,274.31 L385.90,274.32 L386.10,274.32 L386.30,274.32 L386.50,274.32 L386.70,274.32 L386.90,274.32 L387.10,274.32 L387.30,274.33 L387.50,274.33 L387.70,274.33 L387.90,274.33 L388.10,274.33 L388.30,274.33 L388.50,274.33 L388.70,274.34 L388.90,274.34 L389.10,274.34 L389.30,274.34 L389.50,274.34 L389.70,274.34 L389.90,274.34 L390.10,274.35 L390.30,274.35 L390.50,274.35 L390.70,274.35 L390.90,274.35 L391.10,274.35 L391.30,274.35 L391.50,274.36 L391.70,274.36 L391.90,274.36 L392.10,274.36 L392.30,274.36 L392.50,274.36 L392.70,274.36 L392.90,274.37 L393.10,274.37 L393.30,274.37 L393.50,274.37 L393.70,274.37 L393.90,274.37 L394.10,274.37 L394.30,274.38 L394.50,274.38 L394.70,274.38 L394.90,274.38 L395.10,274.38 L395.30,274.38 L395.50,274.38 L395.70,274.39 L395.90,274.39 L396.10,274.39 L396.30,274.39 L396.50,274.39 L396.70,274.39 L396.90,274.39 L397.10,274.40 L397.30,274.40 L397.50,274.40 L397.70,274.40 L397.90,274.40 L398.10,274.40 L398.30,274.40 L398.50,274.41 L398.70,274.41 L398.90,274.41 L399.10,274.41 L399.30,274.41 L399.50,274.41 L399.70,274.41 L399.90,274.41 L400.10,274.42 L400.30,274.42 L400.50,274.42 L400.70,274.42 L400.90,274.42 L401.10,274.42 L401.30,274.42 L401.50,274.43 L401.70,274.43 L401.90,274.43 L402.10,274.43 L402.30,274.43 L402.50,274.43 L402.70,274.43 L402.90,274.44 L403.10,274.44 L403.30,274.44 L403.50,274.44 L403.70,274.44 L403.90,274.44 L404.10,274.44 L404.30,274.45 L404.50,274.45 L404.70,274.45 L404.90,274.45 L405.10,274.45 L405.30,274.45 L405.50,274.45 L405.70,274.46 L405.90,274.46 L406.10,274.46 L406.30,274.46 L406.50,274.46 L406.70,274.46 L406.90,274.46 L407.10,274.47 L407.30,274.47 L407.50,274.47 L407.70,274.47 L407.90,274.47 L408.10,274.47 L408.30,274.47 L408.50,274.48 L408.70,274.48 L408.90,274.48 L409.10,274.48 L409.30,274.48 L409.50,274.48 L409.70,274.48 L409.90,274.49 L410.10,274.49 L410.30,274.49 L410.50,274.49 L410.70,274.49 L410.90,274.49 L411.10,274.49 L411.30,274.49 L411.50,274.50 L411.70,274.50 L411.90,274.50 L412.00,274.50 L412.10,274.49 L412.30,274.49 L412.50,274.47 L412.70,274.45 L412.90,274.42 L413.10,274.38 L413.30,274.31 L413.50,274.21 L413.70,274.08 L413.90,273.91 L414.10,273.69 L414.30,273.42 L414.50,273.12 L414.70,272.78 L414.90,272.42 L415.10,272.07 L415.30,271.73 L415.50,271.43 L415.70,271.19 L415.90,271.01 L416.10,270.90 L416.30,270.87 L416.50,270.90 L416.70,270.98 L416.90,271.11 L417.10,271.26 L417.30,271.44 L417.50,271.63 L417.70,271.82 L417.90,272.00 L418.10,272.18 L418.30,272.35 L418.50,272.50 L418.70,272.65 L418.90,272.79 L419.10,272.91 L419.30,273.03 L419.50,273.14 L419.70,273.23 L419.90,273.33 L420.10,273.41 L420.30,273.49 L420.50,273.56 L420.70,273.63 L420.90,273.69 L421.10,273.74 L421.30,273.79 L421.50,273.84 L421.70,273.88 L421.90,273.92 L422.10,273.96 L422.30,274.00 L422.50,274.03 L422.70,274.06 L422.90,274.08 L423.10,274.11 L423.30,274.13 L423.50,274.15 L423.70,274.17 L423.90,274.18 L424.10,274.20 L424.30,274.21 L424.50,274.23 L424.70,274.24 L424.90,274.25 L425.10,274.26 L425.30,274.27 L425.50,274.28 L425.70,274.29 L425.90,274.29 L426.10,274.30 L426.30,274.31 L426.50,274.31 L426.70,274.31 L426.90,274.32 L427.10,274.32 L427.30,274.33 L427.50,274.33 L427.70,274.33 L427.90,274.33 L428.10,274.34 L428.30,274.34 L428.50,274.34 L428.70,274.34 L428.90,274.34 L429.10,274.34 L429.30,274.34 L429.50,274.34 L429.70,274.34 L429.90,274.34 L430.10,274.34 L430.30,274.34 L430.50,274.34 L430.70,274.34 L430.90,274.34 L431.10,274.34 L431.30,274.34 L431.50,274.34 L431.70,274.34 L431.90,274.34 L432.10,274.34 L432.30,274.34 L432.50,274.34 L432.70,274.34 L432.90,274.33 L433.10,274.33 L433.30,274.33 L433.50,274.33 L433.70,274.33 L433.90,274.33 L434.10,274.33 L434.30,274.33 L434.50,274.33 L434.70,274.32 L434.90,274.32 L435.10,274.32 L435.30,274.32 L435.50,274.32 L435.70,274.32 L435.90,274.32 L436.10,274.32 L436.30,274.31 L436.50,274.31 L436.70,274.31 L436.90,274.31 L437.10,274.31 L437.30,274.31 L437.50,274.31 L437.70,274.30 L437.90,274.30 L438.10,274.30 L438.30,274.30" fill="none" stroke="#1e1e1e" stroke-width="1.12" stroke-linejoin="round" clip-path="url(#c5)"/>
<clipPath id="c6"><rect x="255.5" y="288.6" width="182.8" height="71.89999999999998"/></clipPath>
<path d="M258.90,354.60 L259.10,354.60 L259.30,354.60 L259.50,354.60 L259.70,354.60 L259.90,354.60 L260.10,354.60 L260.30,354.60 L260.50,354.60 L260.70,354.60 L260.90,354.60 L261.10,354.60 L261.30,354.60 L261.50,354.60 L261.70,354.60 L261.90,354.60 L262.10,354.60 L262.30,354.60 L262.50,354.60 L262.70,354.60 L262.90,354.60 L263.10,354.60 L263.30,354.60 L263.50,354.60 L263.70,354.60 L263.90,354.60 L264.10,354.60 L264.30,354.60 L264.50,354.60 L264.70,354.60 L264.90,354.60 L265.10,354.60 L265.30,354.60 L265.50,354.60 L265.70,354.60 L265.90,354.60 L266.10,354.60 L266.30,354.60 L266.50,354.60 L266.70,354.60 L266.90,354.60 L267.10,354.60 L267.30,354.60 L267.50,355.10 L267.70,355.60 L267.90,356.10 L268.10,356.60 L268.30,357.10 L268.50,357.60 L268.70,358.10 L268.90,358.60 L269.10,359.10 L269.30,359.60 L269.50,359.18 L269.70,358.75 L269.90,358.33 L270.10,357.91 L270.30,357.48 L270.50,357.06 L270.70,356.64 L270.90,356.21 L271.00,356.00 L271.10,354.65 L271.30,351.95 L271.50,349.25 L271.70,346.55 L271.90,343.85 L272.00,342.50 L272.10,336.25 L272.30,323.75 L272.50,311.25 L272.70,298.75 L272.90,286.25 L273.00,280.00 L273.10,280.00 L273.30,280.00 L273.50,280.00 L273.70,280.00 L273.90,280.00 L274.10,280.00 L274.30,280.00 L274.50,280.00 L274.70,280.00 L274.90,280.00 L275.10,280.00 L275.30,280.00 L275.50,280.00 L275.70,280.00 L275.90,280.00 L276.10,280.00 L276.30,280.00 L276.50,280.00 L276.70,280.00 L276.90,280.00 L277.10,280.00 L277.30,280.00 L277.50,280.00 L277.70,280.00 L277.90,280.00 L278.10,280.00 L278.30,280.00 L278.50,283.86 L278.70,287.72 L278.90,291.57 L279.10,295.41 L279.30,299.20 L279.50,302.85 L279.70,306.19 L279.90,308.80 L280.00,309.47 L280.10,301.91 L280.30,282.12 L280.50,254.25 L280.60,238.88 L280.70,247.75 L280.90,273.42 L281.00,290.45 L281.10,291.65 L281.30,296.55 L281.50,302.01 L281.70,307.03 L281.90,311.43 L282.10,315.18 L282.30,318.34 L282.50,320.97 L282.70,323.18 L282.90,325.04 L283.10,326.63 L283.30,328.00 L283.50,329.20 L283.70,330.25 L283.90,331.20 L284.10,332.05 L284.30,332.82 L284.50,333.54 L284.70,334.20 L284.90,334.82 L285.10,335.40 L285.30,335.94 L285.50,336.46 L285.70,336.95 L285.90,337.43 L286.10,337.87 L286.30,338.31 L286.50,338.72 L286.70,339.12 L286.90,339.50 L287.10,339.87 L287.30,340.22 L287.50,340.56 L287.70,340.90 L287.90,341.21 L288.10,341.52 L288.30,341.82 L288.50,342.11 L288.70,342.38 L288.90,342.65 L289.10,342.91 L289.30,343.16 L289.50,343.40 L289.70,343.64 L289.90,343.86 L290.10,344.08 L290.30,344.29 L290.50,344.50 L290.70,344.70 L290.90,344.89 L291.10,345.07 L291.30,345.25 L291.50,345.42 L291.70,345.59 L291.90,345.75 L292.00,345.83 L292.10,344.22 L292.30,341.01 L292.50,337.79 L292.60,336.18 L292.70,337.70 L292.90,340.72 L293.10,343.74 L293.30,346.76 L293.50,346.88 L293.70,347.00 L293.90,347.12 L294.10,347.24 L294.30,347.35 L294.50,347.45 L294.70,347.56 L294.90,347.66 L295.10,347.75 L295.30,347.85 L295.50,347.94 L295.70,348.02 L295.90,348.11 L296.10,348.19 L296.30,348.27 L296.50,348.35 L296.70,348.42 L296.90,348.49 L297.10,348.56 L297.30,348.63 L297.50,348.69 L297.70,348.75 L297.90,348.81 L298.10,348.87 L298.30,348.93 L298.50,348.98 L298.70,349.04 L298.90,349.09 L299.10,349.14 L299.30,349.19 L299.50,349.23 L299.70,349.28 L299.90,349.32 L300.10,349.36 L300.30,349.40 L300.50,349.44 L300.70,349.48 L300.90,349.52 L301.10,349.55 L301.30,349.59 L301.50,349.62 L301.70,349.65 L301.90,349.68 L302.10,349.71 L302.30,349.74 L302.50,349.77 L302.60,349.78 L302.70,347.79 L302.90,343.79 L303.10,339.79 L303.30,335.79 L303.40,333.79 L303.50,335.81 L303.70,339.86 L303.90,343.91 L304.10,347.95 L304.20,349.98 L304.30,349.99 L304.50,350.01 L304.70,350.04 L304.90,350.06 L305.10,350.08 L305.30,350.11 L305.50,350.13 L305.70,350.15 L305.90,350.17 L306.10,350.19 L306.30,350.21 L306.50,350.23 L306.70,350.25 L306.90,350.26 L307.10,350.28 L307.30,350.30 L307.50,350.32 L307.70,350.33 L307.90,350.35 L308.10,350.36 L308.30,350.38 L308.50,350.39 L308.70,350.41 L308.90,350.42 L309.10,350.44 L309.30,350.45 L309.50,350.46 L309.70,350.48 L309.90,350.49 L310.10,350.50 L310.30,350.52 L310.50,350.53 L310.70,350.54 L310.90,350.55 L311.10,350.56 L311.30,350.57 L311.50,350.58 L311.70,350.60 L311.90,350.61 L312.10,350.62 L312.30,350.63 L312.50,350.64 L312.70,350.65 L312.80,350.65 L312.90,349.84 L313.10,348.22 L313.30,346.60 L313.50,344.98 L313.60,344.17 L313.70,344.82 L313.90,346.13 L314.10,347.43 L314.30,348.73 L314.50,350.04 L314.60,350.69 L314.70,350.70 L314.90,350.73 L315.10,350.76 L315.30,350.78 L315.50,350.81 L315.70,350.84 L315.90,350.86 L316.10,350.89 L316.30,350.92 L316.50,344.42 L316.70,337.92 L316.90,331.42 L317.10,324.93 L317.30,318.43 L317.50,311.93 L317.70,317.95 L317.90,323.97 L318.10,329.98 L318.30,336.00 L318.50,342.02 L318.70,348.04 L318.80,351.05 L318.90,351.05 L319.10,351.05 L319.30,351.06 L319.50,351.06 L319.70,351.07 L319.90,351.07 L320.10,351.07 L320.30,351.08 L320.50,351.08 L320.70,351.09 L320.90,351.09 L321.10,351.10 L321.30,351.10 L321.50,351.10 L321.70,351.11 L321.90,351.11 L322.10,351.12 L322.30,351.12 L322.50,351.12 L322.70,351.13 L322.90,351.13 L323.10,351.13 L323.30,351.14 L323.50,351.14 L323.70,351.15 L323.90,351.15 L324.10,351.15 L324.30,351.16 L324.50,351.16 L324.70,351.16 L324.90,351.17 L325.10,351.17 L325.30,351.17 L325.50,351.18 L325.70,351.18 L325.80,351.18 L325.90,350.88 L326.10,350.28 L326.30,349.68 L326.50,349.08 L326.60,348.79 L326.70,349.05 L326.90,349.57 L327.10,350.09 L327.30,350.61 L327.50,351.13 L327.60,351.39 L327.70,351.39 L327.90,351.39 L328.10,351.40 L328.30,351.40 L328.50,351.40 L328.70,351.40 L328.90,351.41 L329.10,351.41 L329.30,351.41 L329.50,351.42 L329.70,351.42 L329.90,351.42 L330.10,351.43 L330.30,351.43 L330.50,351.43 L330.70,351.44 L330.90,351.44 L331.10,351.44 L331.30,351.45 L331.50,351.45 L331.70,351.45 L331.90,351.45 L332.10,351.46 L332.30,351.46 L332.50,351.46 L332.70,351.47 L332.90,351.47 L333.10,351.47 L333.30,351.48 L333.50,351.48 L333.70,351.48 L333.90,351.48 L334.10,351.49 L334.30,351.49 L334.50,351.49 L334.70,351.50 L334.90,351.50 L335.10,351.50 L335.30,351.50 L335.50,351.51 L335.70,351.51 L335.90,351.51 L336.10,351.52 L336.30,351.52 L336.50,351.52 L336.70,351.53 L336.90,351.53 L337.10,351.53 L337.30,351.53 L337.50,351.54 L337.70,351.54 L337.90,351.54 L338.10,351.55 L338.30,351.55 L338.50,351.55 L338.70,351.55 L338.90,351.56 L339.10,351.56 L339.30,351.56 L339.50,351.57 L339.70,351.57 L339.90,351.57 L340.10,351.57 L340.30,351.58 L340.50,351.58 L340.70,351.58 L340.90,351.59 L341.10,351.59 L341.30,351.59 L341.50,351.59 L341.70,351.60 L341.90,351.60 L342.10,351.60 L342.30,351.61 L342.50,351.61 L342.70,351.61 L342.90,351.61 L343.10,351.62 L343.30,351.62 L343.50,351.62 L343.70,351.63 L343.90,351.63 L344.10,351.63 L344.30,351.63 L344.50,351.64 L344.70,351.64 L344.90,351.64 L345.10,351.65 L345.30,351.65 L345.50,351.65 L345.70,351.65 L345.90,351.66 L346.10,351.66 L346.30,351.66 L346.50,351.67 L346.70,351.67 L346.90,351.67 L347.10,351.67 L347.30,351.68 L347.50,351.68 L347.70,351.68 L347.90,351.69 L348.10,351.69 L348.30,351.69 L348.50,351.69 L348.70,351.70 L348.90,351.70 L349.10,351.70 L349.30,351.71 L349.50,351.71 L349.70,351.71 L349.90,351.71 L350.10,351.72 L350.30,351.72 L350.50,351.72 L350.70,351.73 L350.90,351.73 L351.10,351.73 L351.30,351.73 L351.50,351.74 L351.70,351.74 L351.90,351.74 L352.10,351.74 L352.30,351.75 L352.50,351.75 L352.70,351.75 L352.90,351.76 L353.10,351.76 L353.30,351.76 L353.50,351.76 L353.70,351.77 L353.90,351.77 L354.10,351.77 L354.30,351.78 L354.50,351.78 L354.70,351.78 L354.90,351.78 L355.10,351.79 L355.30,351.79 L355.50,351.79 L355.70,351.80 L355.90,351.80 L356.00,351.80 L356.10,351.70 L356.30,351.49 L356.50,351.28 L356.70,351.07 L356.90,350.86 L357.10,350.66 L357.30,350.45 L357.50,350.24 L357.70,350.03 L357.90,349.82 L358.10,349.62 L358.30,349.41 L358.50,349.20 L358.70,349.20 L358.90,349.20 L359.10,349.19 L359.30,349.19 L359.50,349.19 L359.70,349.19 L359.90,349.19 L360.10,349.18 L360.30,349.18 L360.50,349.18 L360.70,349.18 L360.90,349.18 L361.10,349.17 L361.30,349.17 L361.50,349.17 L361.70,349.17 L361.90,349.17 L362.10,349.16 L362.30,349.16 L362.50,349.16 L362.70,349.16 L362.90,349.15 L363.10,349.15 L363.30,349.15 L363.50,349.15 L363.70,349.15 L363.90,349.14 L364.10,349.14 L364.30,349.14 L364.50,349.14 L364.70,349.14 L364.90,349.13 L365.10,349.13 L365.30,349.13 L365.50,349.13 L365.70,349.13 L365.90,349.12 L366.10,349.12 L366.30,349.12 L366.50,349.12 L366.70,349.12 L366.90,349.11 L367.10,349.11 L367.30,349.11 L367.50,349.11 L367.70,349.11 L367.90,349.10 L368.10,349.10 L368.30,349.10 L368.50,349.10 L368.70,349.10 L368.90,349.09 L369.10,349.09 L369.30,349.09 L369.50,349.09 L369.70,349.09 L369.90,349.08 L370.10,349.08 L370.30,349.08 L370.50,349.08 L370.70,349.07 L370.90,349.07 L371.10,349.07 L371.30,349.07 L371.50,349.07 L371.70,349.06 L371.90,349.06 L372.10,349.06 L372.30,349.06 L372.50,349.06 L372.70,349.05 L372.90,349.05 L373.10,349.05 L373.30,349.05 L373.50,349.05 L373.70,349.04 L373.90,349.04 L374.10,349.04 L374.30,349.04 L374.50,349.04 L374.70,349.03 L374.90,349.03 L375.10,349.03 L375.30,349.03 L375.50,349.03 L375.70,349.02 L375.90,349.02 L376.10,349.02 L376.30,349.02 L376.50,349.02 L376.70,349.01 L376.90,349.01 L377.10,349.01 L377.30,349.01 L377.50,349.00 L377.70,349.00 L377.90,349.00 L378.00,349.00 L378.10,348.98 L378.30,348.94 L378.50,348.90 L378.70,348.85 L378.90,348.78 L379.10,348.69 L379.30,348.55 L379.50,348.36 L379.70,348.09 L379.90,347.74 L380.10,347.28 L380.30,346.73 L380.50,346.10 L380.70,345.45 L380.90,344.83 L381.10,344.32 L381.30,343.96 L381.50,343.82 L381.70,343.82 L381.90,343.88 L382.10,343.99 L382.30,344.17 L382.50,344.38 L382.70,344.63 L382.90,344.91 L383.10,345.20 L383.30,345.49 L383.50,345.78 L383.70,346.06 L383.90,346.32 L384.00,346.44 L384.10,346.57 L384.30,346.81 L384.50,347.02 L384.70,347.21 L384.90,347.37 L385.10,347.50 L385.30,347.61 L385.50,347.69 L385.70,347.76 L385.90,347.81 L386.10,347.86 L386.30,347.89 L386.50,347.91 L386.70,347.92 L386.90,347.93 L387.10,347.94 L387.30,347.94 L387.50,347.95 L387.70,347.95 L387.90,347.95 L388.10,347.95 L388.30,347.94 L388.50,347.94 L388.70,347.94 L388.90,347.94 L389.10,347.94 L389.30,347.93 L389.50,347.93 L389.70,347.93 L389.90,347.93 L390.10,347.92 L390.30,347.92 L390.50,347.92 L390.70,347.91 L390.90,347.91 L391.10,347.91 L391.30,347.91 L391.50,347.90 L391.70,347.90 L391.90,347.90 L392.10,347.90 L392.30,347.89 L392.50,347.89 L392.70,347.89 L392.90,347.89 L393.10,347.88 L393.30,347.88 L393.50,347.88 L393.70,347.88 L393.90,347.87 L394.10,347.87 L394.30,347.87 L394.50,347.87 L394.70,347.86 L394.90,347.86 L395.10,347.86 L395.30,347.86 L395.50,347.85 L395.70,347.85 L395.90,347.85 L396.10,347.85 L396.30,347.84 L396.50,347.84 L396.70,347.84 L396.90,347.84 L397.10,347.83 L397.30,347.83 L397.50,347.83 L397.70,347.83 L397.90,347.82 L398.10,347.82 L398.30,347.82 L398.50,347.82 L398.70,347.81 L398.90,347.81 L399.10,347.81 L399.30,347.81 L399.50,347.80 L399.70,347.80 L399.90,347.80 L400.10,347.80 L400.30,347.79 L400.50,347.79 L400.70,347.79 L400.90,347.79 L401.10,347.78 L401.30,347.78 L401.50,347.78 L401.70,347.78 L401.90,347.77 L402.10,347.77 L402.30,347.77 L402.50,347.77 L402.70,347.76 L402.90,347.76 L403.10,347.76 L403.30,347.75 L403.50,347.75 L403.70,347.75 L403.90,347.75 L404.10,347.74 L404.30,347.74 L404.50,347.74 L404.70,347.74 L404.90,347.73 L405.10,347.73 L405.30,347.73 L405.50,347.73 L405.70,347.72 L405.90,347.72 L406.10,347.72 L406.30,347.72 L406.50,347.71 L406.70,347.71 L406.90,347.71 L407.10,347.71 L407.30,347.70 L407.50,347.70 L407.70,347.70 L407.90,347.70 L408.10,347.69 L408.30,347.69 L408.50,347.69 L408.70,347.69 L408.90,347.68 L409.10,347.68 L409.30,347.68 L409.50,347.68 L409.70,347.67 L409.90,347.67 L410.10,347.67 L410.30,347.67 L410.50,347.66 L410.70,347.66 L410.90,347.66 L411.10,347.66 L411.30,347.65 L411.50,347.65 L411.70,347.65 L411.90,347.65 L412.10,347.64 L412.30,347.64 L412.50,347.64 L412.70,347.64 L412.90,347.63 L413.10,347.63 L413.30,347.63 L413.50,347.63 L413.70,347.62 L413.90,347.62 L414.10,347.62 L414.30,347.62 L414.50,347.61 L414.70,347.61 L414.90,347.61 L415.10,347.60 L415.30,347.60 L415.50,347.60 L415.70,347.59 L415.90,347.58 L416.10,347.57 L416.30,347.54 L416.50,347.49 L416.70,347.41 L416.90,347.28 L417.10,347.07 L417.30,346.76 L417.50,346.32 L417.70,345.70 L417.90,344.90 L418.10,343.88 L418.30,342.64 L418.50,341.21 L418.70,339.61 L418.90,337.92 L419.10,336.21 L419.30,334.56 L419.50,333.07 L419.70,331.80 L419.90,330.81 L420.10,330.11 L420.30,329.73 L420.50,329.62 L420.70,329.76 L420.90,330.10 L421.10,330.58 L421.30,331.17 L421.50,331.81 L421.70,332.49 L421.90,333.17 L422.10,333.85 L422.30,334.50 L422.50,335.12 L422.70,335.71 L422.90,336.28 L423.10,336.81 L423.30,337.31 L423.50,337.79 L423.70,338.23 L423.90,338.66 L424.10,339.06 L424.30,339.43 L424.50,339.79 L424.70,340.13 L424.90,340.45 L425.10,340.75 L425.30,341.03 L425.50,341.30 L425.70,341.56 L425.90,341.80 L426.10,342.03 L426.30,342.24 L426.50,342.45 L426.70,342.64 L426.90,342.83 L427.10,343.00 L427.30,343.17 L427.50,343.32 L427.70,343.47 L427.90,343.61 L428.10,343.75 L428.30,343.88 L428.50,344.00 L428.70,344.12 L428.90,344.23 L429.10,344.33 L429.30,344.43 L429.50,344.53 L429.70,344.62 L429.90,344.70 L430.10,344.79 L430.30,344.87 L430.50,344.94 L430.70,345.01 L430.90,345.08 L431.10,345.15 L431.30,345.21 L431.50,345.27 L431.70,345.33 L431.90,345.39 L432.10,345.44 L432.30,345.49 L432.50,345.54 L432.70,345.59 L432.90,345.64 L433.10,345.68 L433.30,345.72 L433.50,345.77 L433.70,345.81 L433.90,345.84 L434.10,345.88 L434.30,345.92 L434.50,345.95 L434.70,345.98 L434.90,346.02 L435.10,346.05 L435.30,346.08 L435.50,346.11 L435.70,346.14 L435.90,346.16 L436.10,346.19 L436.30,346.22 L436.50,346.24 L436.70,346.27 L436.90,346.29 L437.10,346.31 L437.30,346.34 L437.50,346.36 L437.70,346.38 L437.90,346.40 L438.10,346.42 L438.30,346.44" fill="none" stroke="#1e1e1e" stroke-width="1.12" stroke-linejoin="round" clip-path="url(#c6)"/>
<clipPath id="c7"><rect x="255.5" y="362.8" width="182.8" height="70.19999999999999"/></clipPath>
<path d="M255.50,429.00 L255.70,429.00 L255.90,429.00 L256.10,429.00 L256.30,429.00 L256.50,429.00 L256.70,429.00 L256.90,429.00 L257.10,429.00 L257.30,429.00 L257.50,429.00 L257.70,429.00 L257.90,429.00 L258.10,429.00 L258.30,429.00 L258.50,429.00 L258.70,429.00 L258.90,429.00 L259.10,429.00 L259.30,429.00 L259.50,429.00 L259.70,429.00 L259.90,429.00 L260.10,429.00 L260.30,429.00 L260.50,429.00 L260.70,429.00 L260.90,429.00 L261.10,429.00 L261.30,429.00 L261.50,429.00 L261.70,429.00 L261.90,429.00 L262.10,429.00 L262.30,429.00 L262.50,429.00 L262.70,429.00 L262.90,429.00 L263.10,429.00 L263.30,429.00 L263.50,429.00 L263.70,429.00 L263.90,429.00 L264.10,429.00 L264.30,429.00 L264.50,429.00 L264.70,429.00 L264.90,429.00 L265.10,429.00 L265.30,429.00 L265.50,429.00 L265.70,429.00 L265.90,429.00 L266.10,429.00 L266.30,429.00 L266.50,429.57 L266.70,430.14 L266.90,430.71 L267.10,431.27 L267.30,431.84 L267.50,432.41 L267.70,432.98 L267.90,433.55 L268.10,434.12 L268.20,434.40 L268.30,434.14 L268.50,433.63 L268.70,433.12 L268.90,432.60 L269.10,432.09 L269.30,431.58 L269.50,431.07 L269.70,430.55 L269.90,430.04 L270.10,429.53 L270.30,429.01 L270.50,428.50 L270.70,427.77 L270.90,427.04 L271.10,426.31 L271.30,425.59 L271.50,424.86 L271.70,424.13 L271.90,423.40 L272.10,394.04 L272.30,364.68 L272.40,350.00 L272.50,350.00 L272.70,350.00 L272.90,350.00 L273.10,350.00 L273.30,350.00 L273.50,350.00 L273.70,350.00 L273.90,350.00 L274.10,350.00 L274.30,350.00 L274.50,350.00 L274.70,350.00 L274.90,350.00 L275.10,350.00 L275.30,350.00 L275.50,350.00 L275.70,350.00 L275.90,350.00 L276.10,350.00 L276.30,350.00 L276.50,350.00 L276.70,350.00 L276.90,350.00 L277.10,350.00 L277.30,350.00 L277.50,350.00 L277.70,350.00 L277.90,350.00 L278.10,350.00 L278.30,350.00 L278.50,349.99 L278.70,349.96 L278.90,349.84 L279.10,349.43 L279.30,348.07 L279.50,344.01 L279.70,334.01 L279.80,325.70 L279.90,330.05 L280.10,333.24 L280.30,336.17 L280.50,318.15 L280.70,313.21 L280.90,318.21 L281.10,327.75 L281.30,338.10 L281.50,347.67 L281.70,356.02 L281.90,363.17 L282.10,369.24 L282.30,374.38 L282.50,378.77 L282.70,382.52 L282.90,385.75 L283.10,388.54 L283.30,390.97 L283.50,393.09 L283.70,394.97 L283.80,395.83 L283.90,396.00 L284.10,396.21 L284.30,396.27 L284.50,396.20 L284.70,398.44 L284.90,400.59 L285.10,402.65 L285.30,404.66 L285.50,405.14 L285.70,405.58 L285.90,405.96 L286.10,406.31 L286.20,406.47 L286.30,406.98 L286.50,407.97 L286.70,408.93 L286.90,409.86 L287.00,410.32 L287.10,410.58 L287.30,411.09 L287.50,411.58 L287.70,412.06 L287.90,412.51 L288.10,412.94 L288.30,413.36 L288.50,413.77 L288.70,414.16 L288.90,414.53 L289.10,414.90 L289.30,415.25 L289.50,415.59 L289.70,415.16 L289.90,414.73 L290.10,414.29 L290.30,413.83 L290.50,414.97 L290.70,416.11 L290.90,417.23 L291.00,417.79 L291.10,417.92 L291.30,418.19 L291.50,418.44 L291.70,418.69 L291.90,418.93 L292.10,419.16 L292.30,419.38 L292.50,419.60 L292.70,419.81 L292.90,420.02 L293.10,420.22 L293.30,420.41 L293.50,420.60 L293.70,420.78 L293.90,420.95 L294.10,421.12 L294.30,421.29 L294.50,421.45 L294.70,421.60 L294.90,421.75 L295.10,421.90 L295.30,422.04 L295.50,422.18 L295.70,422.31 L295.90,422.44 L296.10,422.57 L296.30,422.69 L296.50,422.81 L296.70,422.93 L296.90,423.04 L297.10,423.15 L297.30,423.25 L297.50,423.35 L297.70,423.45 L297.90,423.55 L298.00,423.60 L298.10,423.64 L298.30,423.72 L298.50,423.79 L298.70,423.86 L298.90,423.93 L299.10,424.00 L299.30,424.07 L299.50,424.13 L299.70,424.19 L299.90,424.25 L300.10,424.31 L300.30,424.36 L300.50,424.42 L300.70,424.47 L300.90,424.52 L301.10,424.57 L301.30,424.61 L301.40,424.64 L301.50,423.79 L301.70,422.08 L301.90,420.37 L302.10,418.66 L302.20,417.81 L302.30,418.70 L302.50,420.49 L302.70,422.28 L302.90,424.06 L303.00,424.96 L303.10,424.97 L303.30,425.01 L303.50,425.04 L303.70,425.07 L303.90,425.10 L304.10,425.13 L304.30,425.16 L304.50,425.19 L304.70,425.21 L304.90,425.24 L305.10,425.26 L305.30,425.29 L305.50,425.31 L305.70,425.33 L305.90,425.36 L306.10,425.38 L306.30,425.40 L306.50,425.42 L306.70,425.44 L306.90,425.46 L307.10,425.47 L307.30,425.49 L307.50,425.51 L307.70,425.52 L307.90,425.54 L308.10,425.55 L308.30,425.57 L308.50,425.58 L308.70,425.60 L308.90,425.61 L309.10,425.62 L309.30,425.63 L309.50,425.65 L309.70,425.66 L309.90,425.67 L310.10,425.68 L310.30,425.69 L310.50,425.70 L310.70,425.71 L310.90,425.72 L311.10,425.73 L311.30,425.74 L311.50,425.75 L311.70,425.76 L311.80,425.76 L311.90,425.35 L312.10,424.54 L312.30,423.73 L312.50,422.92 L312.70,422.11 L312.90,421.30 L313.10,422.21 L313.30,423.11 L313.50,424.02 L313.70,424.92 L313.90,425.83 L314.10,425.84 L314.30,425.84 L314.50,425.85 L314.70,425.85 L314.90,425.86 L315.10,425.86 L315.30,425.87 L315.50,425.87 L315.60,425.87 L315.70,424.51 L315.90,421.79 L316.10,419.07 L316.30,416.35 L316.40,414.99 L316.50,416.35 L316.70,419.08 L316.90,421.81 L317.10,424.54 L317.20,425.90 L317.30,425.90 L317.50,425.91 L317.70,425.91 L317.90,425.91 L318.10,425.92 L318.30,425.92 L318.50,425.92 L318.70,425.92 L318.90,425.93 L319.10,425.93 L319.30,425.93 L319.50,425.93 L319.70,425.94 L319.90,425.94 L320.10,425.94 L320.30,425.94 L320.50,425.94 L320.70,425.95 L320.90,425.95 L321.10,425.95 L321.30,425.95 L321.50,425.95 L321.70,425.95 L321.90,425.96 L322.10,425.96 L322.30,425.96 L322.50,425.96 L322.70,425.96 L322.90,425.96 L323.10,425.96 L323.30,425.96 L323.50,425.97 L323.70,425.97 L323.90,425.97 L324.10,425.97 L324.30,425.97 L324.50,425.97 L324.70,425.97 L324.90,425.97 L325.00,425.97 L325.10,425.69 L325.30,425.12 L325.50,424.55 L325.70,423.98 L325.90,424.38 L326.10,424.78 L326.30,425.18 L326.50,425.58 L326.70,425.98 L326.80,426.18 L326.90,426.18 L327.10,426.19 L327.30,426.19 L327.50,426.20 L327.70,426.20 L327.90,426.21 L328.10,426.21 L328.30,426.22 L328.50,426.22 L328.70,426.23 L328.90,426.23 L329.10,426.24 L329.30,426.24 L329.50,426.25 L329.70,426.25 L329.90,426.26 L330.10,426.26 L330.30,426.27 L330.50,426.27 L330.70,426.28 L330.90,426.28 L331.10,426.29 L331.30,426.29 L331.50,426.30 L331.70,426.30 L331.90,426.31 L332.10,426.31 L332.30,426.32 L332.50,426.32 L332.70,426.33 L332.90,426.33 L333.10,426.34 L333.30,426.34 L333.50,426.35 L333.70,426.35 L333.90,426.36 L334.10,426.36 L334.30,426.36 L334.50,426.37 L334.70,426.37 L334.90,426.38 L335.10,426.38 L335.30,426.39 L335.50,426.39 L335.70,426.40 L335.90,426.40 L336.10,426.41 L336.30,426.41 L336.50,426.42 L336.70,426.42 L336.90,426.43 L337.10,426.43 L337.30,426.44 L337.50,426.44 L337.70,426.44 L337.90,426.45 L338.10,426.45 L338.30,426.46 L338.50,426.46 L338.70,426.47 L338.90,426.47 L339.10,426.48 L339.30,426.48 L339.50,426.49 L339.70,426.49 L339.90,426.50 L340.00,426.50 L340.10,426.50 L340.30,426.50 L340.50,426.51 L340.70,426.51 L340.90,426.51 L341.10,426.51 L341.30,426.52 L341.50,426.52 L341.70,426.52 L341.90,426.53 L342.10,426.53 L342.30,426.53 L342.50,426.53 L342.70,426.54 L342.90,426.54 L343.10,426.54 L343.30,426.55 L343.50,426.55 L343.70,426.55 L343.90,426.55 L344.10,426.56 L344.30,426.56 L344.50,426.56 L344.70,426.57 L344.90,426.57 L345.10,426.57 L345.30,426.57 L345.50,426.58 L345.70,426.58 L345.90,426.58 L346.10,426.59 L346.30,426.59 L346.50,426.59 L346.70,426.59 L346.90,426.60 L347.10,426.60 L347.30,426.60 L347.50,426.61 L347.70,426.61 L347.90,426.61 L348.10,426.62 L348.30,426.62 L348.50,426.62 L348.70,426.62 L348.90,426.63 L349.10,426.63 L349.30,426.63 L349.50,426.64 L349.70,426.64 L349.90,426.64 L350.10,426.64 L350.30,426.65 L350.50,426.65 L350.70,426.65 L350.90,426.66 L351.10,426.66 L351.30,426.66 L351.50,426.66 L351.70,426.67 L351.90,426.67 L352.10,426.67 L352.30,426.68 L352.50,426.68 L352.70,426.68 L352.90,426.68 L353.10,426.69 L353.30,426.69 L353.50,426.69 L353.70,426.70 L353.90,426.70 L354.10,426.70 L354.30,426.70 L354.50,426.71 L354.70,426.71 L354.90,426.71 L355.10,426.72 L355.30,426.72 L355.50,426.72 L355.70,426.72 L355.90,426.73 L356.10,426.73 L356.30,426.73 L356.50,426.74 L356.70,426.74 L356.90,426.74 L357.10,426.74 L357.30,426.75 L357.50,426.75 L357.70,426.75 L357.90,426.76 L358.10,426.76 L358.30,426.76 L358.50,426.76 L358.70,426.77 L358.90,426.77 L359.10,426.77 L359.30,426.78 L359.50,426.78 L359.70,426.78 L359.90,426.78 L360.10,426.79 L360.30,426.79 L360.50,426.79 L360.70,426.80 L360.90,426.80 L361.10,426.80 L361.30,426.80 L361.50,426.81 L361.70,426.81 L361.90,426.81 L362.10,426.82 L362.30,426.82 L362.50,426.82 L362.70,426.82 L362.90,426.83 L363.10,426.83 L363.30,426.83 L363.50,426.84 L363.70,426.84 L363.90,426.84 L364.10,426.84 L364.30,426.85 L364.50,426.85 L364.70,426.85 L364.90,426.86 L365.10,426.86 L365.30,426.86 L365.50,426.86 L365.70,426.87 L365.90,426.87 L366.10,426.87 L366.30,426.88 L366.50,426.88 L366.70,426.88 L366.90,426.88 L367.10,426.89 L367.30,426.89 L367.50,426.89 L367.70,426.90 L367.90,426.90 L368.10,426.90 L368.30,426.90 L368.50,426.91 L368.70,426.91 L368.90,426.91 L369.10,426.92 L369.30,426.92 L369.50,426.92 L369.70,426.92 L369.90,426.93 L370.10,426.93 L370.30,426.93 L370.50,426.94 L370.70,426.94 L370.90,426.94 L371.10,426.94 L371.30,426.95 L371.50,426.95 L371.70,426.95 L371.90,426.96 L372.10,426.96 L372.30,426.96 L372.50,426.96 L372.70,426.97 L372.90,426.97 L373.10,426.97 L373.30,426.98 L373.50,426.98 L373.70,426.98 L373.90,426.98 L374.10,426.99 L374.30,426.99 L374.50,426.99 L374.70,427.00 L374.90,427.00 L375.00,427.00 L375.10,426.95 L375.30,426.85 L375.50,426.75 L375.70,426.65 L375.90,426.55 L376.10,426.45 L376.30,426.35 L376.50,426.25 L376.70,426.15 L376.90,426.05 L377.10,425.95 L377.30,425.85 L377.50,425.75 L377.70,425.65 L377.90,425.55 L378.00,425.50 L378.10,425.48 L378.30,425.45 L378.50,425.41 L378.70,425.37 L378.90,425.33 L379.10,425.27 L379.30,425.19 L379.50,425.09 L379.70,424.96 L379.90,424.79 L380.10,424.57 L380.30,424.31 L380.50,424.01 L380.70,423.68 L380.90,423.33 L381.10,423.00 L381.30,422.71 L381.50,422.49 L381.70,422.36 L381.90,422.32 L382.10,422.32 L382.30,422.35 L382.50,422.41 L382.70,422.50 L382.90,422.61 L383.10,422.73 L383.30,422.87 L383.50,423.01 L383.70,423.16 L383.90,423.30 L384.00,423.37 L384.10,423.45 L384.30,423.60 L384.50,423.75 L384.70,423.88 L384.90,423.99 L385.10,424.10 L385.30,424.18 L385.50,424.26 L385.70,424.32 L385.90,424.37 L386.10,424.41 L386.30,424.44 L386.50,424.47 L386.70,424.49 L386.90,424.50 L387.10,424.51 L387.30,424.52 L387.50,424.52 L387.70,424.52 L387.90,424.52 L388.10,424.52 L388.30,424.52 L388.50,424.52 L388.70,424.51 L388.90,424.51 L389.10,424.51 L389.30,424.50 L389.50,424.50 L389.70,424.50 L389.90,424.49 L390.10,424.49 L390.30,424.49 L390.50,424.48 L390.70,424.48 L390.90,424.48 L391.10,424.47 L391.30,424.47 L391.50,424.46 L391.70,424.46 L391.90,424.46 L392.10,424.45 L392.30,424.45 L392.50,424.45 L392.70,424.44 L392.90,424.44 L393.10,424.44 L393.30,424.43 L393.50,424.43 L393.70,424.43 L393.90,424.42 L394.10,424.42 L394.30,424.41 L394.50,424.41 L394.70,424.41 L394.90,424.40 L395.10,424.40 L395.30,424.40 L395.50,424.39 L395.70,424.39 L395.90,424.39 L396.10,424.38 L396.30,424.38 L396.50,424.37 L396.70,424.37 L396.90,424.37 L397.10,424.36 L397.30,424.36 L397.50,424.36 L397.70,424.35 L397.90,424.35 L398.10,424.35 L398.30,424.34 L398.50,424.34 L398.70,424.34 L398.90,424.33 L399.10,424.33 L399.30,424.32 L399.50,424.32 L399.70,424.32 L399.90,424.31 L400.10,424.31 L400.30,424.31 L400.50,424.30 L400.70,424.30 L400.90,424.30 L401.10,424.29 L401.30,424.29 L401.50,424.28 L401.70,424.28 L401.90,424.28 L402.10,424.27 L402.30,424.27 L402.50,424.27 L402.70,424.26 L402.90,424.26 L403.10,424.26 L403.30,424.25 L403.50,424.25 L403.70,424.25 L403.90,424.24 L404.10,424.24 L404.30,424.23 L404.50,424.23 L404.70,424.23 L404.90,424.22 L405.10,424.22 L405.30,424.22 L405.50,424.21 L405.70,424.21 L405.90,424.21 L406.10,424.20 L406.30,424.20 L406.50,424.19 L406.70,424.19 L406.90,424.19 L407.10,424.18 L407.30,424.18 L407.50,424.18 L407.70,424.17 L407.90,424.17 L408.10,424.17 L408.30,424.16 L408.50,424.16 L408.70,424.15 L408.90,424.15 L409.10,424.15 L409.30,424.14 L409.50,424.14 L409.70,424.14 L409.90,424.13 L410.10,424.13 L410.30,424.13 L410.50,424.12 L410.70,424.12 L410.90,424.12 L411.10,424.11 L411.30,424.11 L411.50,424.10 L411.70,424.10 L411.90,424.10 L412.10,424.09 L412.30,424.09 L412.50,424.09 L412.70,424.08 L412.90,424.08 L413.10,424.08 L413.30,424.07 L413.50,424.07 L413.70,424.06 L413.90,424.06 L414.10,424.06 L414.30,424.05 L414.50,424.05 L414.70,424.05 L414.90,424.04 L415.10,424.04 L415.30,424.04 L415.50,424.03 L415.70,424.03 L415.90,424.02 L416.10,424.02 L416.30,424.01 L416.50,423.99 L416.70,423.96 L416.90,423.91 L417.10,423.82 L417.30,423.66 L417.50,423.41 L417.70,423.01 L417.90,422.42 L418.10,421.56 L418.30,420.37 L418.50,418.78 L418.70,416.74 L418.90,414.25 L419.10,411.31 L419.30,408.02 L419.50,404.47 L419.70,400.85 L419.90,397.32 L420.10,394.08 L420.30,391.29 L420.50,389.08 L420.70,387.52 L420.90,386.62 L421.10,386.36 L421.30,386.66 L421.50,387.40 L421.70,388.50 L421.90,389.82 L422.10,391.30 L422.30,392.83 L422.50,394.38 L422.70,395.90 L422.90,397.36 L423.10,398.75 L423.30,400.06 L423.50,401.30 L423.70,402.45 L423.90,403.53 L424.10,404.55 L424.30,405.49 L424.50,406.38 L424.70,407.20 L424.90,407.97 L425.10,408.70 L425.30,409.37 L425.50,410.00 L425.70,410.59 L425.90,411.15 L426.10,411.66 L426.30,412.15 L426.50,412.60 L426.70,413.03 L426.90,413.43 L427.10,413.80 L427.30,414.15 L427.50,414.48 L427.70,414.79 L427.90,415.08 L428.10,415.35 L428.30,415.61 L428.50,415.85 L428.70,416.08 L428.90,416.29 L429.10,416.49 L429.30,416.68 L429.50,416.86 L429.70,417.03 L429.90,417.19 L430.10,417.34 L430.30,417.48 L430.50,417.61 L430.70,417.74 L430.90,417.86 L431.10,417.97 L431.30,418.08 L431.50,418.18 L431.70,418.28 L431.90,418.37 L432.10,418.46 L432.30,418.54 L432.50,418.62 L432.70,418.70 L432.90,418.77 L433.10,418.84 L433.30,418.90 L433.50,418.97 L433.70,419.03 L433.90,419.08 L434.10,419.14 L434.30,419.19 L434.50,419.24 L434.70,419.29 L434.90,419.34 L435.10,419.38 L435.30,419.42 L435.50,419.47 L435.70,419.51 L435.90,419.54 L436.10,419.58 L436.30,419.62 L436.50,419.65 L436.70,419.69 L436.90,419.72 L437.10,419.75 L437.30,419.78 L437.50,419.81 L437.70,419.84 L437.90,419.86 L438.10,419.89 L438.30,419.92" fill="none" stroke="#1e1e1e" stroke-width="1.12" stroke-linejoin="round" clip-path="url(#c7)"/>
<clipPath id="c8"><rect x="255.5" y="432.5" width="182.8" height="75.0"/></clipPath>
<path d="M257.20,500.00 L257.40,500.00 L257.60,500.00 L257.80,500.00 L258.00,500.00 L258.20,500.00 L258.40,500.00 L258.60,500.00 L258.80,500.00 L259.00,500.00 L259.20,500.00 L259.40,500.00 L259.60,500.00 L259.80,500.00 L260.00,500.00 L260.20,500.00 L260.40,500.00 L260.60,500.00 L260.80,500.00 L261.00,500.00 L261.20,500.00 L261.40,500.00 L261.60,500.00 L261.80,500.00 L262.00,500.00 L262.20,500.00 L262.40,500.00 L262.60,500.00 L262.80,500.00 L263.00,500.00 L263.20,500.00 L263.40,500.00 L263.60,500.00 L263.80,500.00 L264.00,500.00 L264.20,500.00 L264.40,500.00 L264.60,500.00 L264.80,500.00 L265.00,500.00 L265.20,500.00 L265.40,500.00 L265.60,500.00 L265.80,500.00 L266.00,500.00 L266.20,500.00 L266.40,500.00 L266.60,500.00 L266.80,500.00 L267.00,500.00 L267.20,500.00 L267.40,500.00 L267.60,500.00 L267.80,501.00 L268.00,502.00 L268.20,503.00 L268.40,504.00 L268.60,505.00 L268.80,504.70 L269.00,504.40 L269.20,504.10 L269.40,503.80 L269.60,503.50 L269.80,504.30 L270.00,505.10 L270.20,505.90 L270.40,506.70 L270.60,507.50 L270.80,506.67 L271.00,505.83 L271.20,505.00 L271.40,504.17 L271.60,503.33 L271.80,502.50 L272.00,501.67 L272.20,500.83 L272.40,500.00 L272.60,481.00 L272.80,462.00 L273.00,443.00 L273.10,433.50 L273.20,444.42 L273.40,466.25 L273.60,488.08 L273.70,499.00 L273.80,498.71 L274.00,498.14 L274.20,497.57 L274.40,497.00 L274.60,494.03 L274.80,491.06 L275.00,488.09 L275.10,486.60 L275.20,488.09 L275.40,491.06 L275.60,494.03 L275.80,497.00 L276.00,498.62 L276.20,500.25 L276.40,501.87 L276.60,503.50 L276.80,502.57 L277.00,501.64 L277.20,500.71 L277.40,499.79 L277.60,498.86 L277.80,497.93 L278.00,497.00 L278.20,496.41 L278.40,495.82 L278.60,495.24 L278.80,494.65 L279.00,494.06 L279.20,493.47 L279.40,492.88 L279.60,492.29 L279.70,492.00 L279.80,490.39 L280.00,487.16 L280.20,483.93 L280.40,480.70 L280.60,483.40 L280.80,486.10 L281.00,488.80 L281.20,491.50 L281.40,491.96 L281.60,492.42 L281.80,492.88 L282.00,493.35 L282.20,493.81 L282.40,494.27 L282.50,494.50 L282.60,494.58 L282.80,494.74 L283.00,494.90 L283.20,495.06 L283.40,495.22 L283.60,495.38 L283.80,495.54 L284.00,495.70 L284.20,495.86 L284.40,496.02 L284.60,496.18 L284.80,496.34 L285.00,496.50 L285.20,496.55 L285.40,496.61 L285.60,496.66 L285.80,496.72 L286.00,496.77 L286.20,496.83 L286.40,496.88 L286.60,496.94 L286.80,496.99 L287.00,497.05 L287.20,497.10 L287.40,497.16 L287.60,497.21 L287.80,497.27 L288.00,497.32 L288.20,497.38 L288.40,497.43 L288.60,497.49 L288.80,497.54 L289.00,497.60 L289.20,497.65 L289.40,497.71 L289.60,497.76 L289.80,497.82 L290.00,497.87 L290.20,497.93 L290.40,497.98 L290.60,498.04 L290.80,498.09 L291.00,498.15 L291.20,498.20 L291.40,497.48 L291.60,496.75 L291.80,496.02 L292.00,495.30 L292.20,496.12 L292.40,496.95 L292.60,497.78 L292.80,498.60 L293.00,498.61 L293.20,498.62 L293.40,498.63 L293.60,498.64 L293.80,498.65 L294.00,498.66 L294.20,498.67 L294.40,498.69 L294.60,498.70 L294.80,498.71 L295.00,498.72 L295.20,498.73 L295.40,498.74 L295.60,498.75 L295.80,498.76 L296.00,498.77 L296.20,498.78 L296.40,498.79 L296.60,498.80 L296.80,498.81 L297.00,498.82 L297.20,498.83 L297.40,498.84 L297.60,498.86 L297.80,498.87 L298.00,498.88 L298.20,498.89 L298.40,498.90 L298.60,498.91 L298.80,498.92 L299.00,498.93 L299.20,498.94 L299.40,498.95 L299.60,498.96 L299.80,498.97 L300.00,498.98 L300.20,498.99 L300.40,499.00 L300.60,499.01 L300.80,499.03 L301.00,499.04 L301.20,499.05 L301.40,499.06 L301.60,499.07 L301.80,499.08 L302.00,499.09 L302.20,499.10 L302.40,498.15 L302.60,497.20 L302.80,496.25 L303.00,495.30 L303.20,496.27 L303.40,497.25 L303.60,498.23 L303.80,499.20 L304.00,499.21 L304.20,499.21 L304.40,499.22 L304.60,499.22 L304.80,499.23 L305.00,499.23 L305.20,499.24 L305.40,499.24 L305.60,499.25 L305.80,499.25 L306.00,499.26 L306.20,499.26 L306.40,499.27 L306.60,499.27 L306.80,499.28 L307.00,499.28 L307.20,499.29 L307.40,499.29 L307.60,499.30 L307.80,499.30 L308.00,499.31 L308.20,499.31 L308.40,499.32 L308.60,499.32 L308.80,499.33 L309.00,499.33 L309.20,499.34 L309.40,499.34 L309.60,499.35 L309.80,499.35 L310.00,499.36 L310.20,499.36 L310.40,499.37 L310.60,499.37 L310.80,499.38 L311.00,499.38 L311.20,499.39 L311.40,499.39 L311.60,499.40 L311.80,497.93 L312.00,496.47 L312.20,495.00 L312.40,493.53 L312.50,492.80 L312.60,493.37 L312.80,494.51 L313.00,495.65 L313.20,496.79 L313.40,497.93 L313.50,498.50 L313.60,498.47 L313.80,498.41 L314.00,498.35 L314.20,498.29 L314.40,498.23 L314.50,498.20 L314.60,497.84 L314.80,497.11 L315.00,496.39 L315.20,495.66 L315.40,494.94 L315.60,494.21 L315.80,493.49 L316.00,492.76 L316.10,492.40 L316.20,493.04 L316.40,494.31 L316.60,495.58 L316.80,496.85 L317.00,498.13 L317.20,499.40 L317.40,499.40 L317.60,499.41 L317.80,499.41 L318.00,499.42 L318.20,499.42 L318.40,499.43 L318.60,499.43 L318.80,499.44 L319.00,499.44 L319.20,499.45 L319.40,499.45 L319.60,499.46 L319.80,499.46 L320.00,499.47 L320.20,499.47 L320.40,499.47 L320.60,499.48 L320.80,499.48 L321.00,499.49 L321.20,499.49 L321.40,499.50 L321.60,499.50 L321.80,499.51 L322.00,499.51 L322.20,499.52 L322.40,499.52 L322.60,499.53 L322.80,499.53 L323.00,499.53 L323.20,499.54 L323.40,499.54 L323.60,499.55 L323.80,499.55 L324.00,499.56 L324.20,499.56 L324.40,499.57 L324.60,499.57 L324.80,499.58 L325.00,499.58 L325.20,499.59 L325.40,499.59 L325.60,499.60 L325.80,499.60 L326.00,499.30 L326.20,499.00 L326.40,498.70 L326.60,498.40 L326.80,498.68 L327.00,498.96 L327.20,499.24 L327.40,499.52 L327.60,499.80 L327.80,499.81 L328.00,499.81 L328.20,499.82 L328.40,499.83 L328.60,499.84 L328.80,499.84 L329.00,499.85 L329.20,499.86 L329.40,499.86 L329.60,499.87 L329.80,499.88 L330.00,499.89 L330.20,499.89 L330.40,499.90 L330.60,499.91 L330.80,499.91 L331.00,499.92 L331.20,499.93 L331.40,499.94 L331.60,499.94 L331.80,499.95 L332.00,499.96 L332.20,499.96 L332.40,499.97 L332.60,499.98 L332.80,499.99 L333.00,499.99 L333.20,500.00 L333.40,500.01 L333.60,500.01 L333.80,500.02 L334.00,500.03 L334.20,500.04 L334.40,500.04 L334.60,500.05 L334.80,500.06 L335.00,500.06 L335.20,500.07 L335.40,500.08 L335.60,500.09 L335.80,500.09 L336.00,500.10 L336.20,500.11 L336.40,500.11 L336.60,500.12 L336.80,500.13 L337.00,500.14 L337.20,500.14 L337.40,500.15 L337.60,500.16 L337.80,500.16 L338.00,500.17 L338.20,500.18 L338.40,500.19 L338.60,500.19 L338.80,500.20 L339.00,500.21 L339.20,500.21 L339.40,500.22 L339.60,500.23 L339.80,500.24 L340.00,500.24 L340.20,500.25 L340.40,500.26 L340.60,500.26 L340.80,500.27 L341.00,500.28 L341.20,500.29 L341.40,500.29 L341.60,500.30 L341.80,500.31 L342.00,500.31 L342.20,500.32 L342.40,500.33 L342.60,500.34 L342.80,500.34 L343.00,500.35 L343.20,500.36 L343.40,500.36 L343.60,500.37 L343.80,500.38 L344.00,500.39 L344.20,500.39 L344.40,500.40 L344.60,500.41 L344.80,500.41 L345.00,500.42 L345.20,500.43 L345.40,500.44 L345.60,500.44 L345.80,500.45 L346.00,500.46 L346.20,500.46 L346.40,500.47 L346.60,500.48 L346.80,500.49 L347.00,500.49 L347.20,500.50 L347.40,500.51 L347.60,500.51 L347.80,500.52 L348.00,500.53 L348.20,500.54 L348.40,500.54 L348.60,500.55 L348.80,500.56 L349.00,500.56 L349.20,500.57 L349.40,500.58 L349.60,500.59 L349.80,500.59 L350.00,500.60 L350.20,500.61 L350.40,500.62 L350.60,500.63 L350.80,500.64 L351.00,500.65 L351.20,500.66 L351.40,500.67 L351.60,500.68 L351.80,500.69 L352.00,500.70 L352.20,500.71 L352.40,500.72 L352.60,500.73 L352.80,500.74 L353.00,500.75 L353.20,500.76 L353.40,500.77 L353.60,500.78 L353.80,500.79 L354.00,500.80 L354.20,500.81 L354.40,500.82 L354.60,500.83 L354.80,500.84 L355.00,500.85 L355.20,500.86 L355.40,500.87 L355.60,500.88 L355.80,500.89 L356.00,500.90 L356.20,500.91 L356.40,500.92 L356.60,500.93 L356.80,500.94 L357.00,500.95 L357.20,500.96 L357.40,500.97 L357.60,500.98 L357.80,500.99 L358.00,501.00 L358.20,501.01 L358.40,501.02 L358.60,501.03 L358.80,501.04 L359.00,501.05 L359.20,501.06 L359.40,501.07 L359.60,501.08 L359.80,501.09 L360.00,501.10 L360.20,501.11 L360.40,501.12 L360.60,501.13 L360.80,501.14 L361.00,501.15 L361.20,501.16 L361.40,501.17 L361.60,501.18 L361.80,501.19 L362.00,501.20 L362.20,501.21 L362.40,501.22 L362.60,501.23 L362.80,501.24 L363.00,501.25 L363.20,501.26 L363.40,501.27 L363.60,501.28 L363.80,501.29 L364.00,501.30 L364.20,501.31 L364.40,501.32 L364.60,501.33 L364.80,501.34 L365.00,501.35 L365.20,501.36 L365.40,501.37 L365.60,501.38 L365.80,501.39 L366.00,501.40 L366.20,501.41 L366.40,501.42 L366.60,501.43 L366.80,501.44 L367.00,501.45 L367.20,501.46 L367.40,501.47 L367.60,501.48 L367.80,501.49 L368.00,501.50 L368.20,501.51 L368.40,501.52 L368.60,501.53 L368.80,501.54 L369.00,501.55 L369.20,501.56 L369.40,501.57 L369.60,501.58 L369.80,501.59 L370.00,501.60 L370.20,501.58 L370.40,501.56 L370.60,501.54 L370.80,501.52 L371.00,501.50 L371.20,501.48 L371.40,501.46 L371.60,501.44 L371.80,501.42 L372.00,501.40 L372.20,501.38 L372.40,501.36 L372.60,501.34 L372.80,501.32 L373.00,501.30 L373.20,501.28 L373.40,501.26 L373.60,501.24 L373.80,501.22 L374.00,501.20 L374.20,501.18 L374.40,501.16 L374.60,501.14 L374.80,501.12 L375.00,501.10 L375.20,501.08 L375.40,501.06 L375.60,501.04 L375.80,501.02 L376.00,501.00 L376.20,500.98 L376.40,500.96 L376.60,500.94 L376.80,500.92 L377.00,500.90 L377.20,500.87 L377.40,500.84 L377.60,500.81 L377.80,500.76 L378.00,500.70 L378.20,500.59 L378.40,500.45 L378.60,500.27 L378.80,500.05 L379.00,499.77 L379.20,499.43 L379.40,499.06 L379.60,498.66 L379.80,498.26 L380.00,497.89 L380.20,497.59 L380.40,497.38 L380.60,497.28 L380.80,497.26 L381.00,497.28 L381.20,497.34 L381.40,497.43 L381.60,497.56 L381.80,497.70 L382.00,497.86 L382.20,498.03 L382.40,498.21 L382.60,498.38 L382.80,498.54 L383.00,498.69 L383.20,498.87 L383.40,499.02 L383.60,499.16 L383.80,499.28 L384.00,499.39 L384.20,499.47 L384.40,499.54 L384.60,499.60 L384.80,499.65 L385.00,499.68 L385.20,499.71 L385.40,499.73 L385.60,499.74 L385.80,499.76 L386.00,499.76 L386.20,499.77 L386.40,499.77 L386.60,499.77 L386.80,499.77 L387.00,499.77 L387.20,499.77 L387.40,499.77 L387.60,499.77 L387.80,499.77 L388.00,499.77 L388.20,499.77 L388.40,499.77 L388.60,499.77 L388.80,499.76 L389.00,499.76 L389.20,499.76 L389.40,499.76 L389.60,499.76 L389.80,499.76 L390.00,499.76 L390.20,499.76 L390.40,499.76 L390.60,499.75 L390.80,499.75 L391.00,499.75 L391.20,499.75 L391.40,499.75 L391.60,499.75 L391.80,499.75 L392.00,499.75 L392.20,499.74 L392.40,499.74 L392.60,499.74 L392.80,499.74 L393.00,499.74 L393.20,499.74 L393.40,499.74 L393.60,499.74 L393.80,499.73 L394.00,499.73 L394.20,499.73 L394.40,499.73 L394.60,499.73 L394.80,499.73 L395.00,499.73 L395.20,499.73 L395.40,499.72 L395.60,499.72 L395.80,499.72 L396.00,499.72 L396.20,499.72 L396.40,499.72 L396.60,499.72 L396.80,499.72 L397.00,499.72 L397.20,499.71 L397.40,499.71 L397.60,499.71 L397.80,499.71 L398.00,499.71 L398.20,499.71 L398.40,499.71 L398.60,499.71 L398.80,499.70 L399.00,499.70 L399.20,499.70 L399.40,499.70 L399.60,499.70 L399.80,499.70 L400.00,499.70 L400.20,499.70 L400.40,499.69 L400.60,499.69 L400.80,499.69 L401.00,499.69 L401.20,499.69 L401.40,499.69 L401.60,499.69 L401.80,499.69 L402.00,499.68 L402.20,499.68 L402.40,499.68 L402.60,499.68 L402.80,499.68 L403.00,499.68 L403.20,499.68 L403.40,499.68 L403.60,499.68 L403.80,499.67 L404.00,499.67 L404.20,499.67 L404.40,499.67 L404.60,499.67 L404.80,499.67 L405.00,499.67 L405.20,499.67 L405.40,499.66 L405.60,499.66 L405.80,499.66 L406.00,499.66 L406.20,499.66 L406.40,499.66 L406.60,499.66 L406.80,499.66 L407.00,499.65 L407.20,499.65 L407.40,499.65 L407.60,499.65 L407.80,499.65 L408.00,499.65 L408.20,499.65 L408.40,499.65 L408.60,499.64 L408.80,499.64 L409.00,499.64 L409.20,499.64 L409.40,499.64 L409.60,499.64 L409.80,499.64 L410.00,499.64 L410.20,499.64 L410.40,499.63 L410.60,499.63 L410.80,499.63 L411.00,499.63 L411.20,499.63 L411.40,499.63 L411.60,499.63 L411.80,499.63 L412.00,499.62 L412.20,499.62 L412.40,499.62 L412.60,499.62 L412.80,499.62 L413.00,499.62 L413.20,499.62 L413.40,499.62 L413.60,499.61 L413.80,499.61 L414.00,499.61 L414.20,499.61 L414.40,499.61 L414.60,499.61 L414.80,499.60 L415.00,499.60 L415.20,499.59 L415.40,499.57 L415.60,499.54 L415.80,499.47 L416.00,499.35 L416.20,499.15 L416.40,498.82 L416.60,498.29 L416.80,497.47 L417.00,496.27 L417.20,494.57 L417.40,492.27 L417.60,489.28 L417.80,485.55 L418.00,481.09 L418.20,476.01 L418.40,470.45 L418.60,464.66 L418.80,458.92 L419.00,453.53 L419.20,448.76 L419.40,444.84 L419.60,441.92 L419.80,440.05 L420.00,439.21 L420.20,439.30 L420.40,440.17 L420.60,441.65 L420.80,443.58 L421.00,445.79 L421.20,448.15 L421.40,450.57 L421.60,452.98 L421.80,455.31 L422.00,457.56 L422.20,459.69 L422.40,461.71 L422.60,463.62 L422.80,465.41 L423.00,467.09 L423.20,468.68 L423.40,470.16 L423.60,471.56 L423.80,472.88 L424.00,474.11 L424.20,475.28 L424.40,476.37 L424.60,477.40 L424.80,478.37 L425.00,479.28 L425.20,480.14 L425.40,480.95 L425.60,481.71 L425.80,482.43 L426.00,483.10 L426.20,483.74 L426.40,484.35 L426.60,484.92 L426.80,485.45 L427.00,485.96 L427.20,486.44 L427.40,486.90 L427.60,487.33 L427.80,487.74 L428.00,488.12 L428.20,488.49 L428.40,488.83 L428.60,489.16 L428.80,489.47 L429.00,489.77 L429.20,490.05 L429.40,490.32 L429.60,490.58 L429.80,490.82 L430.00,491.05 L430.20,491.27 L430.40,491.48 L430.60,491.68 L430.80,491.87 L431.00,492.06 L431.20,492.23 L431.40,492.40 L431.60,492.56 L431.80,492.72 L432.00,492.87 L432.20,493.01 L432.40,493.15 L432.60,493.28 L432.80,493.40 L433.00,493.53 L433.20,493.64 L433.40,493.76 L433.60,493.87 L433.80,493.97 L434.00,494.07 L434.20,494.17 L434.40,494.27 L434.60,494.36 L434.80,494.45 L435.00,494.54 L435.20,494.62 L435.40,494.70 L435.60,494.78 L435.80,494.86 L436.00,494.94 L436.20,495.01 L436.40,495.08 L436.60,495.15 L436.80,495.22 L437.00,495.29 L437.20,495.35 L437.40,495.41 L437.60,495.48 L437.80,495.54 L438.00,495.60 L438.20,495.65 L438.30,495.68" fill="none" stroke="#1e1e1e" stroke-width="1.12" stroke-linejoin="round" clip-path="url(#c8)"/>
<line x1="255.50" y1="221.60" x2="438.30" y2="221.60" stroke="#3a3a3a" stroke-width="1.2" />
<line x1="255.50" y1="279.30" x2="438.30" y2="279.30" stroke="#3a3a3a" stroke-width="1.3" />
<line x1="255.50" y1="221.60" x2="255.50" y2="508.70" stroke="#3a3a3a" stroke-width="1.3" />
<line x1="438.30" y1="221.60" x2="438.30" y2="508.70" stroke="#3a3a3a" stroke-width="1.2" />
<line x1="255.50" y1="508.70" x2="438.30" y2="508.70" stroke="#3a3a3a" stroke-width="1.3" />
<line x1="303.00" y1="508.70" x2="303.00" y2="511.70" stroke="#3a3a3a" stroke-width="1" />
<text x="303.00" y="523.73" font-size="12.2" text-anchor="middle" fill="#111" >5</text>
<line x1="351.00" y1="508.70" x2="351.00" y2="511.70" stroke="#3a3a3a" stroke-width="1" />
<text x="351.00" y="523.73" font-size="12.2" text-anchor="middle" fill="#111" >10</text>
<line x1="402.30" y1="508.70" x2="402.30" y2="511.70" stroke="#3a3a3a" stroke-width="1" />
<text x="402.30" y="523.73" font-size="12.2" text-anchor="middle" fill="#111" >15</text>
<text x="346.30" y="539.63" font-size="12.2" text-anchor="middle" fill="#111" >Retention time (min)</text>
<line x1="251.50" y1="231.30" x2="255.50" y2="231.30" stroke="#3a3a3a" stroke-width="1" />
<text x="249.80" y="235.56" font-size="12" text-anchor="end" fill="#111" >30</text>
<line x1="251.50" y1="246.80" x2="255.50" y2="246.80" stroke="#3a3a3a" stroke-width="1" />
<text x="249.80" y="251.06" font-size="12" text-anchor="end" fill="#111" >20</text>
<line x1="251.50" y1="261.50" x2="255.50" y2="261.50" stroke="#3a3a3a" stroke-width="1" />
<text x="249.80" y="265.76" font-size="12" text-anchor="end" fill="#111" >10</text>
<line x1="251.50" y1="275.20" x2="255.50" y2="275.20" stroke="#3a3a3a" stroke-width="1" />
<text x="249.80" y="279.46" font-size="12" text-anchor="end" fill="#111" >0</text>
<line x1="251.50" y1="297.60" x2="255.50" y2="297.60" stroke="#3a3a3a" stroke-width="1" />
<text x="249.80" y="301.86" font-size="12" text-anchor="end" fill="#111" >4</text>
<line x1="251.50" y1="328.20" x2="255.50" y2="328.20" stroke="#3a3a3a" stroke-width="1" />
<text x="249.80" y="332.46" font-size="12" text-anchor="end" fill="#111" >2</text>
<line x1="251.50" y1="355.40" x2="255.50" y2="355.40" stroke="#3a3a3a" stroke-width="1" />
<text x="249.80" y="359.66" font-size="12" text-anchor="end" fill="#111" >0</text>
<line x1="251.50" y1="372.50" x2="255.50" y2="372.50" stroke="#3a3a3a" stroke-width="1" />
<text x="249.80" y="376.76" font-size="12" text-anchor="end" fill="#111" >4</text>
<line x1="251.50" y1="402.60" x2="255.50" y2="402.60" stroke="#3a3a3a" stroke-width="1" />
<text x="249.80" y="406.86" font-size="12" text-anchor="end" fill="#111" >2</text>
<line x1="251.50" y1="429.00" x2="255.50" y2="429.00" stroke="#3a3a3a" stroke-width="1" />
<text x="249.80" y="433.26" font-size="12" text-anchor="end" fill="#111" >0</text>
<line x1="251.50" y1="442.60" x2="255.50" y2="442.60" stroke="#3a3a3a" stroke-width="1" />
<text x="249.80" y="446.86" font-size="12" text-anchor="end" fill="#111" >4</text>
<line x1="251.50" y1="471.90" x2="255.50" y2="471.90" stroke="#3a3a3a" stroke-width="1" />
<text x="249.80" y="476.16" font-size="12" text-anchor="end" fill="#111" >2</text>
<line x1="251.50" y1="501.60" x2="255.50" y2="501.60" stroke="#3a3a3a" stroke-width="1" />
<text x="249.80" y="505.86" font-size="12" text-anchor="end" fill="#111" >0</text>
<line x1="289.00" y1="226.70" x2="301.00" y2="226.70" stroke="#111" stroke-width="1.1" />
<path d="M308.00,226.70 L301.00,223.30 L301.00,230.10 Z" fill="#111"/>
<text x="316.60" y="237.06" font-size="12.0" text-anchor="start" fill="#111" >api7G</text>
<text x="341.70" y="292.62" font-size="15" text-anchor="middle" fill="#111" >SQD2.2</text>
<text x="304.70" y="310.86" font-size="12.0" text-anchor="start" fill="#111" >api7G</text>
<line x1="298.00" y1="316.40" x2="309.00" y2="316.40" stroke="#111" stroke-width="1.1" />
<path d="M316.00,316.40 L309.00,313.00 L309.00,319.80 Z" fill="#111"/>
<text x="340.00" y="340.93" font-size="12.2" text-anchor="start" fill="#111" >api +UDPG</text>
<text x="340.00" y="391.03" font-size="12.2" text-anchor="start" fill="#111" >api +ADPG</text>
<text x="305.00" y="413.56" font-size="12.0" text-anchor="start" fill="#111" >api7G</text>
<text x="340.00" y="458.33" font-size="12.2" text-anchor="start" fill="#111" >api +UDPGal</text>
<text x="310.40" y="489.16" font-size="12.0" text-anchor="start" fill="#111" >api7G</text>
<text x="457.30" y="219.81" font-size="17.5" text-anchor="start" fill="#111" >F</text>
<clipPath id="c9"><rect x="474.6" y="222.6" width="196.19999999999993" height="67.4"/></clipPath>
<path d="M474.60,280.40 L474.80,280.40 L475.00,280.40 L475.20,280.40 L475.40,280.40 L475.60,280.40 L475.80,280.40 L476.00,280.40 L476.20,280.40 L476.40,280.40 L476.60,280.40 L476.80,280.40 L477.00,280.40 L477.20,280.40 L477.40,280.40 L477.60,280.40 L477.80,280.40 L478.00,280.40 L478.20,280.40 L478.40,280.40 L478.60,280.40 L478.80,280.40 L479.00,280.40 L479.20,280.40 L479.40,280.40 L479.60,280.40 L479.80,280.40 L480.00,280.40 L480.20,280.40 L480.40,280.40 L480.60,280.40 L480.80,280.40 L481.00,280.40 L481.20,280.40 L481.40,280.40 L481.60,280.40 L481.80,280.40 L482.00,280.40 L482.20,280.40 L482.40,280.40 L482.60,280.40 L482.80,280.40 L483.00,280.40 L483.20,280.40 L483.40,280.40 L483.60,280.40 L483.80,280.40 L484.00,280.40 L484.20,280.40 L484.40,280.40 L484.60,280.40 L484.80,280.40 L485.00,280.40 L485.20,280.40 L485.40,280.40 L485.60,280.40 L485.80,280.40 L486.00,280.40 L486.20,280.40 L486.40,280.40 L486.60,280.40 L486.80,280.40 L487.00,280.40 L487.20,280.40 L487.40,280.40 L487.60,280.40 L487.80,280.40 L488.00,280.40 L488.20,280.40 L488.40,280.40 L488.60,280.40 L488.80,280.40 L489.00,280.40 L489.20,280.40 L489.40,280.40 L489.60,280.40 L489.80,280.40 L490.00,280.40 L490.20,280.40 L490.40,280.40 L490.60,280.40 L490.80,280.40 L491.00,280.40 L491.20,280.40 L491.40,280.40 L491.60,280.40 L491.80,280.40 L492.00,280.40 L492.20,280.40 L492.40,280.40 L492.60,280.40 L492.80,280.40 L493.00,280.40 L493.20,280.40 L493.40,280.40 L493.60,280.40 L493.80,280.40 L494.00,280.40 L494.20,280.40 L494.40,280.40 L494.50,280.40 L494.60,280.29 L494.80,280.08 L495.00,279.87 L495.20,279.66 L495.40,279.45 L495.60,279.24 L495.80,279.02 L496.00,278.81 L496.20,278.60 L496.40,278.91 L496.60,279.22 L496.80,279.52 L497.00,279.83 L497.20,280.14 L497.40,280.45 L497.50,280.60 L497.60,280.58 L497.80,280.55 L498.00,280.52 L498.20,280.49 L498.40,280.46 L498.60,280.42 L498.80,280.39 L499.00,280.36 L499.20,280.33 L499.40,280.30 L499.60,280.26 L499.80,280.23 L500.00,280.20 L500.20,280.26 L500.40,280.32 L500.60,280.38 L500.80,280.44 L501.00,280.50 L501.20,280.56 L501.40,280.62 L501.60,280.68 L501.80,280.74 L502.00,280.80 L502.20,280.79 L502.40,280.79 L502.60,280.78 L502.80,280.78 L503.00,280.77 L503.20,280.77 L503.40,280.76 L503.60,280.76 L503.80,280.75 L504.00,280.74 L504.20,280.74 L504.40,280.73 L504.60,280.73 L504.80,280.72 L505.00,280.72 L505.20,280.71 L505.40,280.71 L505.60,280.70 L505.80,280.69 L506.00,280.69 L506.20,280.68 L506.40,280.68 L506.60,280.67 L506.80,280.67 L507.00,280.66 L507.20,280.66 L507.40,280.65 L507.60,280.64 L507.80,280.64 L508.00,280.63 L508.20,280.63 L508.40,280.62 L508.60,280.62 L508.80,280.61 L509.00,280.61 L509.20,280.60 L509.40,280.59 L509.60,280.59 L509.80,280.58 L510.00,280.58 L510.20,280.57 L510.40,280.57 L510.60,280.56 L510.80,280.56 L511.00,280.55 L511.20,280.54 L511.40,280.54 L511.60,280.53 L511.80,280.53 L512.00,280.52 L512.20,280.52 L512.40,280.51 L512.60,280.51 L512.80,280.50 L513.00,280.49 L513.20,280.49 L513.40,280.48 L513.60,280.48 L513.80,280.47 L514.00,280.47 L514.20,280.46 L514.40,280.46 L514.60,280.45 L514.80,280.44 L515.00,280.44 L515.20,280.43 L515.40,280.43 L515.60,280.42 L515.80,280.42 L516.00,280.41 L516.20,280.41 L516.40,280.40 L516.60,280.39 L516.80,280.39 L517.00,280.38 L517.20,280.38 L517.40,280.37 L517.60,280.37 L517.80,280.36 L518.00,280.36 L518.20,280.35 L518.40,280.34 L518.60,280.34 L518.80,280.33 L519.00,280.33 L519.20,280.32 L519.40,280.32 L519.60,280.31 L519.80,280.31 L520.00,280.30 L520.20,280.30 L520.40,280.31 L520.60,280.31 L520.80,280.31 L521.00,280.31 L521.20,280.32 L521.40,280.32 L521.60,280.32 L521.80,280.33 L522.00,280.33 L522.20,280.33 L522.40,280.34 L522.60,280.34 L522.80,280.34 L523.00,280.35 L523.20,280.35 L523.40,280.35 L523.60,280.35 L523.80,280.36 L524.00,280.36 L524.20,280.36 L524.40,280.37 L524.60,280.37 L524.80,280.37 L525.00,280.38 L525.20,280.38 L525.40,280.38 L525.60,280.38 L525.80,280.39 L526.00,280.39 L526.20,280.39 L526.40,280.40 L526.60,280.40 L526.80,280.40 L527.00,280.41 L527.20,280.41 L527.40,280.41 L527.60,280.41 L527.80,280.42 L528.00,280.42 L528.20,280.42 L528.40,280.43 L528.60,280.43 L528.80,280.43 L529.00,280.44 L529.20,280.44 L529.40,280.44 L529.60,280.44 L529.80,280.45 L530.00,280.45 L530.20,280.45 L530.40,280.46 L530.60,280.46 L530.80,280.46 L531.00,280.47 L531.20,280.47 L531.40,280.47 L531.60,280.47 L531.80,280.48 L532.00,280.48 L532.20,280.48 L532.40,280.49 L532.60,280.49 L532.80,280.49 L533.00,280.50 L533.20,280.50 L533.40,280.50 L533.60,280.50 L533.80,280.51 L534.00,280.51 L534.20,280.51 L534.40,280.52 L534.60,280.52 L534.80,280.52 L535.00,280.53 L535.20,280.53 L535.40,280.53 L535.60,280.53 L535.80,280.54 L536.00,280.54 L536.20,280.54 L536.40,280.55 L536.60,280.55 L536.80,280.55 L537.00,280.56 L537.20,280.56 L537.40,280.56 L537.60,280.56 L537.80,280.57 L538.00,280.57 L538.20,280.57 L538.40,280.58 L538.60,280.58 L538.80,280.58 L539.00,280.59 L539.20,280.59 L539.40,280.59 L539.60,280.59 L539.80,280.60 L540.00,280.60 L540.20,280.60 L540.40,280.59 L540.60,280.59 L540.80,280.58 L541.00,280.58 L541.20,280.58 L541.40,280.57 L541.60,280.57 L541.80,280.56 L542.00,280.56 L542.20,280.56 L542.40,280.55 L542.60,280.55 L542.80,280.54 L543.00,280.54 L543.20,280.54 L543.40,280.53 L543.60,280.53 L543.80,280.52 L544.00,280.52 L544.20,280.52 L544.40,280.51 L544.60,280.51 L544.80,280.50 L545.00,280.50 L545.20,280.50 L545.40,280.49 L545.60,280.49 L545.80,280.48 L546.00,280.48 L546.20,280.48 L546.40,280.47 L546.60,280.47 L546.80,280.46 L547.00,280.46 L547.20,280.46 L547.40,280.45 L547.60,280.45 L547.80,280.44 L548.00,280.44 L548.20,280.44 L548.40,280.43 L548.60,280.43 L548.80,280.42 L549.00,280.42 L549.20,280.42 L549.40,280.41 L549.60,280.41 L549.80,280.40 L550.00,280.40 L550.20,280.40 L550.40,280.39 L550.60,280.39 L550.80,280.38 L551.00,280.38 L551.20,280.38 L551.40,280.37 L551.60,280.37 L551.80,280.36 L552.00,280.36 L552.20,280.36 L552.40,280.35 L552.60,280.35 L552.80,280.34 L553.00,280.34 L553.20,280.34 L553.40,280.33 L553.60,280.33 L553.80,280.32 L554.00,280.32 L554.20,280.32 L554.40,280.31 L554.60,280.31 L554.80,280.30 L555.00,280.30 L555.20,280.30 L555.40,280.29 L555.60,280.29 L555.80,280.28 L556.00,280.28 L556.20,280.28 L556.40,280.27 L556.60,280.27 L556.80,280.26 L557.00,280.26 L557.20,280.26 L557.40,280.25 L557.60,280.25 L557.80,280.24 L558.00,280.24 L558.20,280.24 L558.40,280.23 L558.60,280.23 L558.80,280.22 L559.00,280.22 L559.20,280.22 L559.40,280.21 L559.60,280.21 L559.80,280.20 L560.00,280.20 L560.20,280.20 L560.40,280.20 L560.60,280.20 L560.80,280.20 L561.00,280.20 L561.20,280.20 L561.40,280.20 L561.60,280.20 L561.80,280.20 L562.00,280.20 L562.20,280.20 L562.40,280.20 L562.60,280.20 L562.80,280.20 L563.00,280.20 L563.20,280.20 L563.40,280.20 L563.60,280.20 L563.80,280.20 L564.00,280.20 L564.20,280.20 L564.40,280.20 L564.60,280.20 L564.80,280.20 L565.00,280.20 L565.20,280.20 L565.40,280.20 L565.60,280.20 L565.80,280.20 L566.00,280.20 L566.20,280.20 L566.40,280.20 L566.60,280.20 L566.80,280.20 L567.00,280.20 L567.20,280.20 L567.40,280.20 L567.60,280.20 L567.80,280.20 L568.00,280.20 L568.20,280.20 L568.40,280.20 L568.60,280.20 L568.80,280.20 L569.00,280.20 L569.20,280.20 L569.40,280.20 L569.60,280.20 L569.80,280.20 L570.00,280.20 L570.20,280.20 L570.40,280.20 L570.60,280.20 L570.80,280.20 L571.00,280.20 L571.20,280.20 L571.40,280.20 L571.60,280.20 L571.80,280.20 L572.00,280.20 L572.20,280.20 L572.40,280.20 L572.60,280.20 L572.80,280.20 L573.00,280.20 L573.20,280.20 L573.40,280.20 L573.60,280.20 L573.80,280.20 L574.00,280.20 L574.20,280.20 L574.40,280.20 L574.60,280.20 L574.80,280.20 L575.00,280.20 L575.20,280.20 L575.40,280.20 L575.60,280.20 L575.80,280.20 L576.00,280.20 L576.20,280.20 L576.40,280.20 L576.60,280.20 L576.80,280.20 L577.00,280.20 L577.20,280.20 L577.40,280.20 L577.60,280.20 L577.80,280.20 L578.00,280.20 L578.20,280.20 L578.40,280.20 L578.60,280.20 L578.80,280.20 L579.00,280.20 L579.20,280.20 L579.40,280.20 L579.60,280.20 L579.80,280.20 L580.00,280.20 L580.20,280.20 L580.40,280.20 L580.60,280.20 L580.80,280.20 L581.00,280.20 L581.20,280.20 L581.40,280.20 L581.60,280.20 L581.80,280.20 L582.00,280.20 L582.20,280.20 L582.40,280.20 L582.60,280.20 L582.80,280.20 L583.00,280.20 L583.20,280.20 L583.40,280.20 L583.60,280.20 L583.80,280.20 L584.00,280.20 L584.20,280.20 L584.40,280.20 L584.60,280.20 L584.80,280.20 L585.00,280.20 L585.20,280.20 L585.40,280.20 L585.60,280.20 L585.80,280.20 L586.00,280.20 L586.20,280.20 L586.40,280.20 L586.60,280.19 L586.80,280.19 L587.00,280.19 L587.20,280.19 L587.40,280.18 L587.60,280.18 L587.80,280.17 L588.00,280.16 L588.20,280.15 L588.40,280.13 L588.60,280.11 L588.80,280.08 L589.00,280.04 L589.20,279.99 L589.40,279.92 L589.60,279.84 L589.80,279.72 L590.00,279.57 L590.20,279.38 L590.40,279.15 L590.60,278.86 L590.80,278.50 L591.00,278.07 L591.20,277.55 L591.40,276.94 L591.60,276.23 L591.80,275.41 L592.00,274.47 L592.20,273.41 L592.40,272.24 L592.60,270.95 L592.80,269.57 L593.00,268.10 L593.20,266.56 L593.40,264.97 L593.60,263.37 L593.80,261.79 L594.00,260.25 L594.20,258.80 L594.40,257.47 L594.60,256.29 L594.80,255.30 L595.00,254.52 L595.20,253.98 L595.40,253.68 L595.60,253.61 L595.80,253.62 L596.00,253.69 L596.20,253.81 L596.40,253.97 L596.60,254.18 L596.80,254.43 L597.00,254.72 L597.20,255.03 L597.40,255.36 L597.60,255.70 L597.80,256.05 L598.00,256.40 L598.20,256.73 L598.40,257.04 L598.60,257.33 L598.80,257.57 L599.00,257.76 L599.20,257.89 L599.40,257.95 L599.60,257.93 L599.80,257.83 L600.00,257.64 L600.20,257.34 L600.40,256.94 L600.60,256.43 L600.80,255.80 L601.00,255.05 L601.20,254.19 L601.40,253.21 L601.60,252.12 L601.80,250.91 L602.00,249.61 L602.20,248.20 L602.40,246.72 L602.60,245.16 L602.80,243.53 L603.00,241.87 L603.20,240.17 L603.40,238.46 L603.60,236.76 L603.80,235.08 L604.00,233.45 L604.20,231.88 L604.40,230.39 L604.60,229.00 L604.80,227.74 L605.00,226.60 L605.20,225.62 L605.40,224.80 L605.60,224.16 L605.80,223.70 L606.00,223.44 L606.20,223.37 L606.40,223.74 L606.60,224.76 L606.80,226.41 L607.00,228.62 L607.20,231.32 L607.40,234.42 L607.60,237.82 L607.80,241.42 L608.00,245.12 L608.20,248.83 L608.40,252.45 L608.60,255.92 L608.80,259.18 L609.00,262.20 L609.20,264.92 L609.40,267.35 L609.60,269.46 L609.80,271.29 L610.00,272.84 L610.20,274.13 L610.40,275.20 L610.60,276.07 L610.80,276.76 L611.00,277.31 L611.20,277.75 L611.40,278.08 L611.60,278.34 L611.80,278.54 L612.00,278.70 L612.20,278.82 L612.40,278.91 L612.60,278.98 L612.80,279.04 L613.00,279.09 L613.20,279.13 L613.40,279.17 L613.60,279.20 L613.80,279.24 L614.00,279.27 L614.20,279.30 L614.40,279.33 L614.60,279.36 L614.80,279.39 L615.00,279.42 L615.20,279.45 L615.40,279.48 L615.60,279.51 L615.80,279.54 L616.00,279.56 L616.20,279.59 L616.40,279.62 L616.60,279.64 L616.80,279.67 L617.00,279.69 L617.20,279.71 L617.40,279.73 L617.60,279.75 L617.80,279.77 L618.00,279.79 L618.20,279.81 L618.40,279.83 L618.60,279.84 L618.80,279.86 L619.00,279.87 L619.20,279.89 L619.40,279.90 L619.60,279.91 L619.80,279.93 L620.00,279.94 L620.20,279.95 L620.40,279.96 L620.60,279.97 L620.80,279.98 L621.00,279.98 L621.20,279.99 L621.40,280.00 L621.60,280.01 L621.80,280.01 L622.00,280.02 L622.20,280.02 L622.40,280.03 L622.60,280.03 L622.80,280.04 L623.00,280.04 L623.20,280.05 L623.40,280.05 L623.60,280.05 L623.80,280.06 L624.00,280.06 L624.20,280.06 L624.40,280.07 L624.60,280.07 L624.80,280.07 L625.00,280.07 L625.20,280.08 L625.40,280.08 L625.60,280.08 L625.80,280.08 L626.00,280.08 L626.20,280.09 L626.40,280.09 L626.60,280.09 L626.80,280.09 L627.00,280.09 L627.20,280.09 L627.40,280.10 L627.60,280.10 L627.80,280.10 L628.00,280.10 L628.20,280.10 L628.40,280.10 L628.60,280.11 L628.80,280.11 L629.00,280.11 L629.20,280.11 L629.40,280.11 L629.60,280.11 L629.80,280.12 L630.00,280.12 L630.20,280.12 L630.40,280.12 L630.60,280.12 L630.80,280.12 L631.00,280.12 L631.20,280.13 L631.40,280.13 L631.60,280.13 L631.80,280.13 L632.00,280.13 L632.20,280.13 L632.40,280.13 L632.60,280.14 L632.80,280.14 L633.00,280.14 L633.20,280.14 L633.40,280.14 L633.60,280.14 L633.80,280.14 L634.00,280.15 L634.20,280.15 L634.40,280.15 L634.60,280.15 L634.80,280.15 L635.00,280.15 L635.20,280.15 L635.40,280.16 L635.60,280.16 L635.80,280.16 L636.00,280.16 L636.20,280.16 L636.40,280.16 L636.60,280.16 L636.80,280.17 L637.00,280.17 L637.20,280.17 L637.40,280.17 L637.60,280.17 L637.80,280.17 L638.00,280.18 L638.20,280.18 L638.40,280.18 L638.60,280.18 L638.80,280.18 L639.00,280.18 L639.20,280.18 L639.40,280.19 L639.60,280.19 L639.80,280.19 L640.00,280.19 L640.20,280.19 L640.40,280.19 L640.60,280.19 L640.80,280.20 L641.00,280.20 L641.20,280.20 L641.40,280.20 L641.60,280.20 L641.80,280.20 L642.00,280.20 L642.20,280.21 L642.40,280.21 L642.60,280.21 L642.80,280.21 L643.00,280.21 L643.20,280.21 L643.40,280.21 L643.60,280.22 L643.80,280.22 L644.00,280.22 L644.20,280.22 L644.40,280.22 L644.60,280.22 L644.80,280.22 L645.00,280.23 L645.20,280.23 L645.40,280.23 L645.60,280.23 L645.80,280.23 L646.00,280.23 L646.20,280.24 L646.40,280.24 L646.60,280.24 L646.80,280.24 L647.00,280.24 L647.20,280.24 L647.40,280.24 L647.60,280.25 L647.80,280.25 L648.00,280.25 L648.20,280.25 L648.40,280.25 L648.60,280.25 L648.80,280.25 L649.00,280.26 L649.20,280.26 L649.40,280.26 L649.60,280.26 L649.80,280.26 L650.00,280.26 L650.20,280.26 L650.40,280.27 L650.60,280.27 L650.80,280.27 L651.00,280.27 L651.20,280.27 L651.40,280.27 L651.60,280.27 L651.80,280.28 L652.00,280.28 L652.20,280.28 L652.40,280.28 L652.60,280.28 L652.80,280.28 L653.00,280.28 L653.20,280.29 L653.40,280.29 L653.60,280.29 L653.80,280.29 L654.00,280.29 L654.20,280.29 L654.40,280.29 L654.60,280.30 L654.80,280.30 L655.00,280.30 L655.20,280.30 L655.40,280.30 L655.60,280.30 L655.80,280.31 L656.00,280.31 L656.20,280.31 L656.40,280.31 L656.60,280.31 L656.80,280.31 L657.00,280.31 L657.20,280.32 L657.40,280.32 L657.60,280.32 L657.80,280.32 L658.00,280.32 L658.20,280.32 L658.40,280.32 L658.60,280.33 L658.80,280.33 L659.00,280.33 L659.20,280.33 L659.40,280.33 L659.60,280.33 L659.80,280.33 L660.00,280.34 L660.20,280.34 L660.40,280.34 L660.60,280.34 L660.80,280.34 L661.00,280.34 L661.20,280.34 L661.40,280.35 L661.60,280.35 L661.80,280.35 L662.00,280.35 L662.20,280.35 L662.40,280.35 L662.60,280.35 L662.80,280.36 L663.00,280.36 L663.20,280.36 L663.40,280.36 L663.60,280.36 L663.80,280.36 L664.00,280.36 L664.20,280.37 L664.40,280.37 L664.60,280.37 L664.80,280.37 L665.00,280.37 L665.20,280.37 L665.40,280.38 L665.60,280.38 L665.80,280.38 L666.00,280.38 L666.20,280.38 L666.40,280.38 L666.60,280.38 L666.80,280.39 L667.00,280.39 L667.20,280.39 L667.40,280.39 L667.60,280.39 L667.80,280.39 L668.00,280.39 L668.20,280.40 L668.40,280.40 L668.60,280.40 L668.80,280.40" fill="none" stroke="#6e6e6e" stroke-width="1" stroke-linejoin="round" clip-path="url(#c9)"/>
<clipPath id="c10"><rect x="474.6" y="283" width="196.19999999999993" height="79"/></clipPath>
<path d="M474.60,356.50 L474.80,356.50 L475.00,356.50 L475.20,356.50 L475.40,356.50 L475.60,356.51 L475.80,356.51 L476.00,356.51 L476.20,356.51 L476.40,356.51 L476.60,356.51 L476.80,356.51 L477.00,356.51 L477.20,356.51 L477.40,356.51 L477.60,356.52 L477.80,356.52 L478.00,356.52 L478.20,356.52 L478.40,356.52 L478.60,356.52 L478.80,356.52 L479.00,356.52 L479.20,356.52 L479.40,356.52 L479.60,356.53 L479.80,356.53 L480.00,356.53 L480.20,356.53 L480.40,356.53 L480.60,356.53 L480.80,356.53 L481.00,356.53 L481.20,356.53 L481.40,356.54 L481.60,356.54 L481.80,356.54 L482.00,356.54 L482.20,356.54 L482.40,356.54 L482.60,356.54 L482.80,356.54 L483.00,356.54 L483.20,356.54 L483.40,356.55 L483.60,356.55 L483.80,356.55 L484.00,356.55 L484.20,356.55 L484.40,356.55 L484.60,356.55 L484.80,356.55 L485.00,356.55 L485.20,356.55 L485.40,356.56 L485.60,356.56 L485.80,356.56 L486.00,356.56 L486.20,356.56 L486.40,356.56 L486.60,356.56 L486.80,356.56 L487.00,356.56 L487.20,356.56 L487.40,356.57 L487.60,356.57 L487.80,356.57 L488.00,356.57 L488.20,356.57 L488.40,356.57 L488.60,356.57 L488.80,356.57 L489.00,356.57 L489.20,356.58 L489.40,356.58 L489.60,356.58 L489.80,356.58 L490.00,356.58 L490.20,356.58 L490.40,356.58 L490.60,356.58 L490.80,356.58 L491.00,356.58 L491.20,356.59 L491.40,356.59 L491.60,356.59 L491.80,356.59 L492.00,356.59 L492.20,356.59 L492.40,356.59 L492.60,356.59 L492.80,356.59 L493.00,356.59 L493.20,356.60 L493.40,356.60 L493.60,356.60 L493.80,356.60 L494.00,356.60 L494.20,356.59 L494.40,356.57 L494.60,356.56 L494.80,356.54 L495.00,356.51 L495.20,356.44 L495.40,356.27 L495.60,355.87 L495.80,355.04 L496.00,353.52 L496.20,351.08 L496.40,347.68 L496.60,343.59 L496.80,339.41 L497.00,335.89 L497.20,333.63 L497.40,332.87 L497.60,333.48 L497.80,335.06 L498.00,337.13 L498.20,339.34 L498.40,341.46 L498.60,343.37 L498.80,345.07 L499.00,346.54 L499.20,347.82 L499.40,348.93 L499.60,349.89 L499.80,350.72 L500.00,351.44 L500.20,352.07 L500.40,352.62 L500.60,353.10 L500.80,353.51 L501.00,353.87 L501.20,354.18 L501.40,354.45 L501.60,354.68 L501.80,354.87 L502.00,355.00 L502.20,355.04 L502.40,354.89 L502.60,354.44 L502.80,353.58 L503.00,352.28 L503.20,350.72 L503.40,349.24 L503.60,348.21 L503.80,347.88 L504.00,348.26 L504.20,349.14 L504.40,350.25 L504.60,351.36 L504.80,352.35 L505.00,353.17 L505.20,353.82 L505.40,354.33 L505.60,354.74 L505.80,355.05 L506.00,355.30 L506.20,355.49 L506.40,355.64 L506.60,355.76 L506.80,355.86 L507.00,355.93 L507.20,355.99 L507.40,356.03 L507.60,356.07 L507.80,356.09 L508.00,356.12 L508.20,356.13 L508.40,356.15 L508.60,356.16 L508.80,356.17 L509.00,356.17 L509.20,356.18 L509.40,356.18 L509.60,356.19 L509.80,356.19 L510.00,356.19 L510.20,356.19 L510.40,356.19 L510.60,356.19 L510.80,356.20 L511.00,356.20 L511.20,356.20 L511.40,356.20 L511.60,356.20 L511.80,356.20 L512.00,356.20 L512.20,356.20 L512.40,356.20 L512.60,356.20 L512.80,356.20 L513.00,356.20 L513.20,356.20 L513.40,356.20 L513.60,356.20 L513.80,356.20 L514.00,356.20 L514.20,356.20 L514.40,356.20 L514.60,356.20 L514.80,356.20 L515.00,356.20 L515.20,356.20 L515.40,356.20 L515.60,356.20 L515.80,356.20 L516.00,356.20 L516.20,356.20 L516.40,356.20 L516.60,356.20 L516.80,356.20 L517.00,356.20 L517.20,356.20 L517.40,356.20 L517.60,356.20 L517.80,356.20 L518.00,356.20 L518.20,356.20 L518.40,356.20 L518.60,356.20 L518.80,356.20 L519.00,356.20 L519.20,356.20 L519.40,356.20 L519.60,356.20 L519.80,356.20 L520.00,356.20 L520.20,356.19 L520.40,356.19 L520.60,356.18 L520.80,356.18 L521.00,356.17 L521.20,356.16 L521.40,356.16 L521.60,356.15 L521.80,356.15 L522.00,356.14 L522.20,356.13 L522.40,356.13 L522.60,356.12 L522.80,356.12 L523.00,356.11 L523.20,356.10 L523.40,356.10 L523.60,356.09 L523.80,356.09 L524.00,356.08 L524.20,356.07 L524.40,356.07 L524.60,356.06 L524.80,356.06 L525.00,356.05 L525.20,356.04 L525.40,356.04 L525.60,356.03 L525.80,356.03 L526.00,356.02 L526.20,356.01 L526.40,356.01 L526.60,356.00 L526.80,356.00 L527.00,355.99 L527.20,355.98 L527.40,355.98 L527.60,355.97 L527.80,355.97 L528.00,355.96 L528.20,355.95 L528.40,355.95 L528.60,355.94 L528.80,355.94 L529.00,355.93 L529.20,355.92 L529.40,355.92 L529.60,355.91 L529.80,355.91 L530.00,355.90 L530.20,355.89 L530.40,355.89 L530.60,355.88 L530.80,355.88 L531.00,355.87 L531.20,355.86 L531.40,355.86 L531.60,355.85 L531.80,355.85 L532.00,355.84 L532.20,355.83 L532.40,355.83 L532.60,355.82 L532.80,355.82 L533.00,355.81 L533.20,355.80 L533.40,355.80 L533.60,355.79 L533.80,355.79 L534.00,355.78 L534.20,355.77 L534.40,355.77 L534.60,355.76 L534.80,355.76 L535.00,355.75 L535.20,355.74 L535.40,355.74 L535.60,355.73 L535.80,355.73 L536.00,355.72 L536.20,355.71 L536.40,355.71 L536.60,355.70 L536.80,355.70 L537.00,355.69 L537.20,355.68 L537.40,355.68 L537.60,355.67 L537.80,355.67 L538.00,355.66 L538.20,355.65 L538.40,355.65 L538.60,355.64 L538.80,355.64 L539.00,355.63 L539.20,355.62 L539.40,355.62 L539.60,355.61 L539.80,355.61 L540.00,355.60 L540.20,355.61 L540.40,355.63 L540.60,355.64 L540.80,355.65 L541.00,355.67 L541.20,355.68 L541.40,355.69 L541.60,355.71 L541.80,355.72 L542.00,355.73 L542.20,355.75 L542.40,355.76 L542.60,355.77 L542.80,355.79 L543.00,355.80 L543.20,355.81 L543.40,355.83 L543.60,355.84 L543.80,355.85 L544.00,355.87 L544.20,355.88 L544.40,355.89 L544.60,355.91 L544.80,355.92 L545.00,355.93 L545.20,355.95 L545.40,355.96 L545.60,355.97 L545.80,355.99 L546.00,356.00 L546.20,356.01 L546.40,356.03 L546.60,356.04 L546.80,356.04 L547.00,356.03 L547.20,356.00 L547.40,355.93 L547.60,355.78 L547.80,355.53 L548.00,355.10 L548.20,354.41 L548.40,353.35 L548.50,352.65 L548.60,351.80 L548.80,349.62 L549.00,346.70 L549.20,342.96 L549.40,338.34 L549.60,332.91 L549.80,326.77 L550.00,320.15 L550.20,313.35 L550.40,306.69 L550.60,300.54 L550.80,295.20 L551.00,290.92 L551.20,287.83 L551.40,285.97 L551.60,285.30 L551.80,285.68 L552.00,286.93 L552.20,288.84 L552.40,291.24 L552.60,293.93 L552.80,296.78 L553.00,299.68 L553.20,302.55 L553.40,305.35 L553.60,308.04 L553.80,310.60 L554.00,313.04 L554.20,315.35 L554.40,317.53 L554.60,319.59 L554.80,321.54 L555.00,323.38 L555.20,325.12 L555.40,326.76 L555.60,328.30 L555.80,329.76 L556.00,331.14 L556.20,332.45 L556.40,333.68 L556.60,334.84 L556.80,335.94 L557.00,336.97 L557.20,337.95 L557.40,338.88 L557.60,339.75 L557.80,340.58 L558.00,341.36 L558.20,342.10 L558.40,342.79 L558.60,343.45 L558.80,344.08 L559.00,344.66 L559.20,345.22 L559.40,345.75 L559.60,346.25 L559.80,346.72 L560.00,347.16 L560.20,347.58 L560.40,347.98 L560.60,348.36 L560.80,348.72 L561.00,349.05 L561.20,349.37 L561.40,349.68 L561.60,349.96 L561.80,350.23 L562.00,350.49 L562.20,350.74 L562.40,350.97 L562.60,351.18 L562.80,351.39 L563.00,351.59 L563.20,351.78 L563.40,351.95 L563.60,352.12 L563.80,352.28 L564.00,352.43 L564.20,352.57 L564.40,352.71 L564.60,352.84 L564.80,352.96 L565.00,353.08 L565.20,353.19 L565.40,353.30 L565.60,353.40 L565.80,353.49 L566.00,353.58 L566.20,353.67 L566.40,353.75 L566.60,353.83 L566.80,353.91 L567.00,353.98 L567.20,354.04 L567.40,354.11 L567.60,354.17 L567.80,354.23 L568.00,354.29 L568.20,354.34 L568.40,354.39 L568.60,354.44 L568.80,354.49 L569.00,354.53 L569.20,354.57 L569.40,354.62 L569.60,354.66 L569.80,354.69 L570.00,354.73 L570.20,354.76 L570.40,354.80 L570.60,354.83 L570.80,354.86 L571.00,354.89 L571.20,354.92 L571.40,354.94 L571.60,354.97 L571.80,354.99 L572.00,355.02 L572.20,355.04 L572.40,355.06 L572.60,355.08 L572.80,355.10 L573.00,355.12 L573.20,355.14 L573.40,355.16 L573.60,355.18 L573.80,355.20 L574.00,355.21 L574.20,355.23 L574.40,355.24 L574.60,355.26 L574.80,355.27 L575.00,355.29 L575.20,355.30 L575.40,355.31 L575.60,355.33 L575.80,355.34 L576.00,355.35 L576.20,355.36 L576.40,355.37 L576.60,355.38 L576.80,355.39 L577.00,355.40 L577.20,355.41 L577.40,355.42 L577.60,355.43 L577.80,355.44 L578.00,355.45 L578.20,355.46 L578.40,355.47 L578.60,355.48 L578.80,355.48 L579.00,355.49 L579.20,355.50 L579.40,355.50 L579.60,355.51 L579.80,355.52 L580.00,355.53 L580.20,355.53 L580.40,355.54 L580.60,355.54 L580.80,355.55 L581.00,355.55 L581.20,355.56 L581.40,355.57 L581.60,355.57 L581.80,355.58 L582.00,355.58 L582.20,355.59 L582.40,355.59 L582.60,355.60 L582.80,355.60 L583.00,355.60 L583.20,355.61 L583.40,355.61 L583.60,355.62 L583.80,355.62 L584.00,355.62 L584.20,355.63 L584.40,355.63 L584.60,355.63 L584.80,355.64 L585.00,355.64 L585.20,355.64 L585.40,355.65 L585.60,355.65 L585.80,355.65 L586.00,355.66 L586.20,355.66 L586.40,355.66 L586.60,355.66 L586.80,355.67 L587.00,355.67 L587.20,355.67 L587.40,355.67 L587.60,355.68 L587.80,355.68 L588.00,355.68 L588.20,355.68 L588.40,355.68 L588.60,355.69 L588.80,355.69 L589.00,355.69 L589.20,355.69 L589.40,355.69 L589.60,355.69 L589.80,355.70 L590.00,355.70 L590.20,355.70 L590.40,355.70 L590.60,355.70 L590.80,355.70 L591.00,355.70 L591.20,355.71 L591.40,355.71 L591.60,355.71 L591.80,355.71 L592.00,355.71 L592.20,355.71 L592.40,355.71 L592.60,355.71 L592.80,355.71 L593.00,355.71 L593.20,355.72 L593.40,355.72 L593.60,355.72 L593.80,355.72 L594.00,355.72 L594.20,355.72 L594.40,355.72 L594.60,355.72 L594.80,355.72 L595.00,355.72 L595.20,355.72 L595.40,355.72 L595.60,355.72 L595.80,355.72 L596.00,355.72 L596.20,355.72 L596.40,355.72 L596.60,355.72 L596.80,355.72 L597.00,355.72 L597.20,355.72 L597.40,355.72 L597.60,355.72 L597.80,355.72 L598.00,355.72 L598.20,355.72 L598.40,355.72 L598.60,355.72 L598.80,355.72 L599.00,355.72 L599.20,355.72 L599.40,355.72 L599.60,355.72 L599.80,355.72 L600.00,355.72 L600.20,355.72 L600.40,355.72 L600.60,355.73 L600.80,355.73 L601.00,355.73 L601.20,355.73 L601.40,355.73 L601.60,355.73 L601.80,355.73 L602.00,355.73 L602.20,355.74 L602.40,355.74 L602.60,355.74 L602.80,355.74 L603.00,355.74 L603.20,355.74 L603.40,355.74 L603.60,355.74 L603.80,355.74 L604.00,355.74 L604.20,355.75 L604.40,355.75 L604.60,355.75 L604.80,355.75 L605.00,355.75 L605.20,355.75 L605.40,355.75 L605.60,355.75 L605.80,355.75 L606.00,355.75 L606.20,355.75 L606.40,355.75 L606.60,355.76 L606.80,355.76 L607.00,355.76 L607.20,355.76 L607.40,355.76 L607.60,355.76 L607.80,355.76 L608.00,355.76 L608.20,355.76 L608.40,355.76 L608.60,355.76 L608.80,355.76 L609.00,355.76 L609.20,355.76 L609.40,355.76 L609.60,355.77 L609.80,355.77 L610.00,355.77 L610.20,355.77 L610.40,355.77 L610.60,355.77 L610.80,355.77 L611.00,355.77 L611.20,355.77 L611.40,355.77 L611.60,355.77 L611.80,355.77 L612.00,355.77 L612.20,355.77 L612.40,355.77 L612.60,355.77 L612.80,355.77 L613.00,355.77 L613.20,355.77 L613.40,355.77 L613.60,355.77 L613.80,355.78 L614.00,355.78 L614.20,355.78 L614.40,355.78 L614.60,355.78 L614.80,355.78 L615.00,355.78 L615.20,355.78 L615.40,355.78 L615.60,355.78 L615.80,355.78 L616.00,355.78 L616.20,355.78 L616.40,355.78 L616.60,355.78 L616.80,355.78 L617.00,355.78 L617.20,355.78 L617.40,355.78 L617.60,355.78 L617.80,355.78 L618.00,355.78 L618.20,355.78 L618.40,355.78 L618.60,355.78 L618.80,355.78 L619.00,355.78 L619.20,355.78 L619.40,355.78 L619.60,355.78 L619.80,355.79 L620.00,355.79 L620.20,355.79 L620.40,355.79 L620.60,355.79 L620.80,355.79 L621.00,355.79 L621.20,355.79 L621.40,355.79 L621.60,355.79 L621.80,355.79 L622.00,355.79 L622.20,355.79 L622.40,355.79 L622.60,355.79 L622.80,355.79 L623.00,355.79 L623.20,355.79 L623.40,355.79 L623.60,355.79 L623.80,355.79 L624.00,355.79 L624.20,355.79 L624.40,355.79 L624.60,355.79 L624.80,355.79 L625.00,355.79 L625.20,355.79 L625.40,355.79 L625.60,355.79 L625.80,355.79 L626.00,355.79 L626.20,355.79 L626.40,355.79 L626.60,355.79 L626.80,355.79 L627.00,355.79 L627.20,355.79 L627.40,355.79 L627.60,355.79 L627.80,355.79 L628.00,355.79 L628.20,355.79 L628.40,355.79 L628.60,355.79 L628.80,355.79 L629.00,355.79 L629.20,355.79 L629.40,355.79 L629.60,355.79 L629.80,355.79 L630.00,355.79 L630.20,355.79 L630.40,355.79 L630.60,355.79 L630.80,355.79 L631.00,355.79 L631.20,355.79 L631.40,355.79 L631.60,355.79 L631.80,355.79 L632.00,355.79 L632.20,355.79 L632.40,355.79 L632.60,355.79 L632.80,355.79 L633.00,355.80 L633.20,355.80 L633.40,355.80 L633.60,355.80 L633.80,355.80 L634.00,355.80 L634.20,355.80 L634.40,355.80 L634.60,355.80 L634.80,355.80 L635.00,355.80 L635.20,355.80 L635.40,355.80 L635.60,355.80 L635.80,355.80 L636.00,355.80 L636.20,355.80 L636.40,355.80 L636.60,355.80 L636.80,355.80 L637.00,355.80 L637.20,355.80 L637.40,355.80 L637.60,355.80 L637.80,355.80 L638.00,355.80 L638.20,355.80 L638.40,355.80 L638.60,355.80 L638.80,355.80 L639.00,355.80 L639.20,355.80 L639.40,355.80 L639.60,355.80 L639.80,355.80 L640.00,355.80 L640.20,355.80 L640.40,355.80 L640.60,355.80 L640.80,355.80 L641.00,355.80 L641.20,355.80 L641.40,355.80 L641.60,355.80 L641.80,355.80 L642.00,355.80 L642.20,355.80 L642.40,355.80 L642.60,355.80 L642.80,355.80 L643.00,355.80 L643.20,355.80 L643.40,355.80 L643.60,355.80 L643.80,355.80 L644.00,355.80 L644.20,355.80 L644.40,355.80 L644.60,355.80 L644.80,355.80 L645.00,355.80 L645.20,355.80 L645.40,355.80 L645.60,355.80 L645.80,355.80 L646.00,355.80 L646.20,355.80 L646.40,355.80 L646.60,355.80 L646.80,355.80 L647.00,355.80 L647.20,355.80 L647.40,355.80 L647.60,355.80 L647.80,355.80 L648.00,355.80 L648.20,355.80 L648.40,355.80 L648.50,355.80 L648.60,355.67 L648.80,355.41 L649.00,355.15 L649.20,354.89 L649.40,354.63 L649.60,354.38 L649.80,354.12 L650.00,353.86 L650.20,353.60 L650.40,353.82 L650.60,354.04 L650.80,354.27 L651.00,354.49 L651.20,354.71 L651.40,354.93 L651.60,355.15 L651.80,355.38 L652.00,355.60 L652.20,355.60 L652.40,355.60 L652.60,355.60 L652.80,355.60 L653.00,355.61 L653.20,355.61 L653.40,355.61 L653.60,355.61 L653.80,355.61 L654.00,355.61 L654.20,355.61 L654.40,355.61 L654.60,355.61 L654.80,355.62 L655.00,355.62 L655.20,355.62 L655.40,355.62 L655.60,355.62 L655.80,355.62 L656.00,355.62 L656.20,355.62 L656.40,355.63 L656.60,355.63 L656.80,355.63 L657.00,355.63 L657.20,355.63 L657.40,355.63 L657.60,355.63 L657.80,355.63 L658.00,355.64 L658.20,355.64 L658.40,355.64 L658.60,355.64 L658.80,355.64 L659.00,355.64 L659.20,355.64 L659.40,355.64 L659.60,355.64 L659.80,355.65 L660.00,355.65 L660.20,355.65 L660.40,355.65 L660.60,355.65 L660.80,355.65 L661.00,355.65 L661.20,355.65 L661.40,355.66 L661.60,355.66 L661.80,355.66 L662.00,355.66 L662.20,355.66 L662.40,355.66 L662.60,355.66 L662.80,355.66 L663.00,355.67 L663.20,355.67 L663.40,355.67 L663.60,355.67 L663.80,355.67 L664.00,355.67 L664.20,355.67 L664.40,355.67 L664.60,355.67 L664.80,355.68 L665.00,355.68 L665.20,355.68 L665.40,355.68 L665.60,355.68 L665.80,355.68 L666.00,355.68 L666.20,355.68 L666.40,355.69 L666.60,355.69 L666.80,355.69 L667.00,355.69 L667.20,355.69 L667.40,355.69 L667.60,355.69 L667.80,355.69 L668.00,355.69 L668.20,355.70 L668.40,355.70 L668.60,355.70 L668.80,355.70" fill="none" stroke="#6e6e6e" stroke-width="1" stroke-linejoin="round" clip-path="url(#c10)"/>
<clipPath id="c11"><rect x="474.6" y="362.5" width="196.19999999999993" height="77.5"/></clipPath>
<path d="M474.60,422.50 L474.80,422.50 L475.00,422.51 L475.20,422.51 L475.40,422.51 L475.60,422.52 L475.80,422.52 L476.00,422.53 L476.20,422.53 L476.40,422.53 L476.60,422.54 L476.80,422.54 L477.00,422.54 L477.20,422.55 L477.40,422.55 L477.60,422.56 L477.80,422.56 L478.00,422.56 L478.20,422.57 L478.40,422.57 L478.60,422.57 L478.80,422.58 L479.00,422.58 L479.20,422.59 L479.40,422.59 L479.60,422.59 L479.80,422.60 L480.00,422.60 L480.20,422.62 L480.40,422.64 L480.60,422.66 L480.80,422.68 L481.00,422.71 L481.20,422.73 L481.40,422.75 L481.60,422.77 L481.80,422.79 L482.00,422.81 L482.20,422.83 L482.40,422.85 L482.60,422.87 L482.80,422.89 L483.00,422.92 L483.20,422.94 L483.40,422.96 L483.60,422.98 L483.80,423.00 L484.00,423.02 L484.20,423.04 L484.40,423.06 L484.60,423.08 L484.80,423.11 L485.00,423.13 L485.20,423.15 L485.40,423.17 L485.60,423.19 L485.80,423.21 L486.00,423.23 L486.20,423.25 L486.40,423.27 L486.60,423.29 L486.80,423.32 L487.00,423.34 L487.20,423.36 L487.40,423.38 L487.60,423.40 L487.80,423.97 L488.00,424.53 L488.20,425.10 L488.40,425.67 L488.60,426.23 L488.80,426.80 L489.00,427.37 L489.20,427.93 L489.40,428.50 L489.60,429.07 L489.80,429.63 L490.00,430.20 L490.20,429.70 L490.40,429.21 L490.60,428.71 L490.80,428.22 L491.00,427.72 L491.20,427.22 L491.40,426.73 L491.60,426.23 L491.80,425.74 L492.00,425.24 L492.20,424.74 L492.40,424.25 L492.50,424.00 L492.60,423.72 L492.80,423.17 L493.00,422.62 L493.20,422.07 L493.40,421.53 L493.60,420.97 L493.70,420.70 L493.80,419.99 L494.00,418.56 L494.20,417.13 L494.40,415.71 L494.60,414.28 L494.80,412.85 L495.00,411.43 L495.20,410.00 L495.40,399.71 L495.60,389.42 L495.80,379.13 L496.00,368.84 L496.10,363.70 L496.20,368.89 L496.40,379.26 L496.60,389.63 L496.80,400.00 L497.00,406.17 L497.20,412.34 L497.40,418.51 L497.50,421.60 L497.60,420.64 L497.80,418.73 L498.00,416.81 L498.20,414.90 L498.40,412.99 L498.60,411.07 L498.80,409.16 L498.90,408.20 L499.00,409.02 L499.20,410.65 L499.40,412.28 L499.60,413.91 L499.80,415.54 L500.00,417.17 L500.20,418.80 L500.40,418.80 L500.60,418.80 L500.80,418.80 L501.00,418.80 L501.20,418.66 L501.40,418.51 L501.60,418.37 L501.80,418.22 L502.00,418.08 L502.20,417.94 L502.40,417.79 L502.60,417.65 L502.80,417.50 L503.00,417.36 L503.20,417.22 L503.40,417.07 L503.50,417.00 L503.60,416.92 L503.80,416.75 L504.00,416.58 L504.20,416.42 L504.40,416.25 L504.60,416.08 L504.70,416.00 L504.80,413.33 L505.00,408.00 L505.20,402.67 L505.30,400.00 L505.40,397.17 L505.60,391.51 L505.80,385.86 L506.00,380.20 L506.20,386.40 L506.40,392.60 L506.60,398.80 L506.80,405.00 L507.00,406.15 L507.20,407.30 L507.40,408.45 L507.60,409.60 L507.80,410.75 L508.00,411.90 L508.20,413.05 L508.40,414.20 L508.60,414.38 L508.80,414.57 L509.00,414.75 L509.20,414.93 L509.40,415.12 L509.60,415.30 L509.80,415.48 L510.00,415.67 L510.20,415.85 L510.40,416.03 L510.60,416.22 L510.80,416.40 L511.00,416.58 L511.20,416.77 L511.40,416.95 L511.60,417.13 L511.80,417.32 L512.00,417.50 L512.20,417.60 L512.40,417.70 L512.60,417.80 L512.80,417.89 L513.00,417.99 L513.20,418.09 L513.40,418.19 L513.60,418.29 L513.80,418.39 L514.00,418.48 L514.20,418.58 L514.40,418.68 L514.60,418.78 L514.80,418.88 L515.00,418.98 L515.20,419.08 L515.40,419.17 L515.60,419.27 L515.80,419.37 L516.00,419.47 L516.20,419.57 L516.40,419.67 L516.60,419.76 L516.80,419.86 L517.00,419.96 L517.20,420.06 L517.40,420.16 L517.60,420.26 L517.80,420.36 L518.00,420.45 L518.20,420.55 L518.40,420.65 L518.50,420.70 L518.60,420.69 L518.80,420.68 L519.00,420.66 L519.20,420.65 L519.40,420.64 L519.60,420.62 L519.80,420.61 L520.00,420.59 L520.20,420.58 L520.40,420.56 L520.60,420.55 L520.80,420.54 L521.00,420.52 L521.20,420.51 L521.30,420.50 L521.40,420.20 L521.60,419.60 L521.80,419.00 L522.00,418.40 L522.20,417.80 L522.40,418.42 L522.60,419.03 L522.80,419.65 L523.00,420.26 L523.20,420.88 L523.40,421.49 L523.50,421.80 L523.60,421.83 L523.80,421.89 L524.00,421.95 L524.20,422.02 L524.40,422.08 L524.60,422.14 L524.80,422.20 L525.00,422.26 L525.20,422.32 L525.40,422.38 L525.60,422.45 L525.80,422.51 L526.00,422.57 L526.20,422.63 L526.40,422.69 L526.60,422.75 L526.80,422.82 L527.00,422.88 L527.20,422.94 L527.40,423.00 L527.60,423.06 L527.80,423.12 L528.00,423.18 L528.20,423.25 L528.40,423.31 L528.60,423.37 L528.80,423.43 L529.00,423.49 L529.20,423.55 L529.40,423.62 L529.60,423.68 L529.80,423.74 L530.00,423.80 L530.20,423.82 L530.40,423.84 L530.60,423.86 L530.80,423.89 L531.00,423.91 L531.20,423.93 L531.40,423.95 L531.60,423.97 L531.80,423.99 L532.00,424.02 L532.20,424.04 L532.40,424.06 L532.60,424.08 L532.80,424.10 L533.00,424.12 L533.20,424.14 L533.40,424.17 L533.60,424.19 L533.80,424.21 L534.00,424.23 L534.20,424.25 L534.40,424.27 L534.60,424.30 L534.80,424.32 L535.00,424.34 L535.20,424.36 L535.40,424.38 L535.60,424.40 L535.80,424.42 L536.00,424.45 L536.20,424.47 L536.40,424.49 L536.50,424.50 L536.60,423.93 L536.80,422.79 L537.00,421.65 L537.20,420.51 L537.40,419.37 L537.50,418.80 L537.60,419.26 L537.80,420.18 L538.00,421.11 L538.20,422.03 L538.40,422.95 L538.60,423.88 L538.80,424.80 L539.00,424.81 L539.20,424.82 L539.40,424.82 L539.60,424.83 L539.80,424.84 L540.00,424.85 L540.20,424.86 L540.40,424.87 L540.60,424.88 L540.80,424.88 L541.00,424.89 L541.20,424.90 L541.40,424.91 L541.60,424.92 L541.80,424.93 L542.00,424.93 L542.20,424.94 L542.40,424.95 L542.60,424.96 L542.80,424.97 L543.00,424.98 L543.20,424.98 L543.40,424.99 L543.60,425.00 L543.80,425.01 L544.00,425.02 L544.20,425.03 L544.40,425.03 L544.60,425.04 L544.80,425.05 L545.00,425.06 L545.20,425.07 L545.40,425.07 L545.60,425.08 L545.80,425.09 L546.00,425.10 L546.20,425.11 L546.40,425.12 L546.60,425.12 L546.80,425.13 L547.00,425.14 L547.20,425.15 L547.40,425.16 L547.60,425.17 L547.80,425.18 L548.00,425.18 L548.20,425.19 L548.40,425.20 L548.60,425.21 L548.80,425.22 L549.00,425.23 L549.20,425.23 L549.40,425.24 L549.60,425.25 L549.80,425.26 L550.00,425.27 L550.20,425.28 L550.40,425.28 L550.60,425.29 L550.80,425.30 L551.00,424.57 L551.20,423.84 L551.40,423.11 L551.60,422.39 L551.80,421.66 L552.00,420.93 L552.20,420.20 L552.40,420.91 L552.60,421.63 L552.80,422.34 L553.00,423.06 L553.20,423.77 L553.40,424.49 L553.60,425.20 L553.80,425.20 L554.00,425.20 L554.20,425.20 L554.40,425.20 L554.60,425.20 L554.80,425.20 L555.00,425.20 L555.20,425.20 L555.40,425.20 L555.60,425.20 L555.80,425.20 L556.00,425.20 L556.20,425.20 L556.40,425.20 L556.50,425.20 L556.60,424.30 L556.80,422.50 L557.00,420.70 L557.20,418.90 L557.40,417.10 L557.50,416.20 L557.60,416.93 L557.80,418.40 L558.00,419.87 L558.20,421.33 L558.40,422.80 L558.60,424.27 L558.70,425.00 L558.80,425.00 L559.00,425.01 L559.20,425.02 L559.40,425.02 L559.60,425.03 L559.80,425.03 L560.00,425.04 L560.20,425.05 L560.40,425.05 L560.60,425.06 L560.80,425.07 L561.00,425.07 L561.20,425.08 L561.40,425.09 L561.60,425.09 L561.80,425.10 L562.00,425.10 L562.20,425.11 L562.40,425.12 L562.60,425.12 L562.80,425.13 L563.00,425.14 L563.20,425.14 L563.40,425.15 L563.60,425.16 L563.80,425.16 L564.00,425.17 L564.20,425.17 L564.40,425.18 L564.60,425.19 L564.80,425.19 L565.00,425.20 L565.20,425.21 L565.40,425.22 L565.60,425.23 L565.80,425.25 L566.00,425.26 L566.20,425.27 L566.40,425.28 L566.60,425.29 L566.80,425.30 L567.00,425.31 L567.20,425.33 L567.40,425.34 L567.60,425.35 L567.80,425.36 L568.00,425.37 L568.20,425.38 L568.40,425.39 L568.60,425.41 L568.80,425.42 L569.00,425.43 L569.20,425.44 L569.40,425.45 L569.60,425.46 L569.80,425.47 L570.00,425.49 L570.20,425.50 L570.40,425.51 L570.60,425.52 L570.80,425.53 L571.00,425.54 L571.20,425.55 L571.40,425.57 L571.60,425.58 L571.80,425.59 L572.00,425.60 L572.20,425.62 L572.40,425.63 L572.60,425.65 L572.80,425.67 L573.00,425.69 L573.20,425.70 L573.40,425.72 L573.60,425.74 L573.80,425.75 L574.00,425.77 L574.20,425.79 L574.40,425.81 L574.60,425.82 L574.80,425.84 L575.00,425.86 L575.20,425.87 L575.40,425.89 L575.60,425.91 L575.80,425.93 L576.00,425.94 L576.20,425.96 L576.40,425.98 L576.60,425.99 L576.80,426.01 L577.00,426.03 L577.20,426.05 L577.40,426.06 L577.60,426.08 L577.80,426.10 L578.00,426.11 L578.20,426.13 L578.40,426.15 L578.60,426.17 L578.80,426.18 L579.00,426.20 L579.20,426.22 L579.40,426.23 L579.60,426.25 L579.80,426.27 L580.00,426.29 L580.20,426.30 L580.40,426.32 L580.60,426.34 L580.80,426.35 L581.00,426.37 L581.20,426.39 L581.40,426.41 L581.60,426.42 L581.80,426.44 L582.00,426.46 L582.20,426.47 L582.40,426.49 L582.60,426.51 L582.80,426.53 L583.00,426.54 L583.20,426.56 L583.40,426.58 L583.60,426.59 L583.80,426.61 L584.00,426.63 L584.20,426.65 L584.40,426.66 L584.60,426.68 L584.80,426.70 L585.00,426.71 L585.20,426.73 L585.40,426.75 L585.60,426.77 L585.80,426.78 L586.00,426.80 L586.20,426.82 L586.40,426.83 L586.60,426.85 L586.80,426.87 L587.00,426.89 L587.20,426.90 L587.40,426.92 L587.60,426.94 L587.80,426.95 L588.00,426.97 L588.20,426.99 L588.40,427.01 L588.60,427.02 L588.80,427.04 L589.00,427.06 L589.20,427.07 L589.40,427.09 L589.60,427.11 L589.80,427.13 L590.00,427.14 L590.20,427.16 L590.40,427.18 L590.60,427.19 L590.80,427.21 L591.00,427.23 L591.20,427.25 L591.40,427.26 L591.60,427.28 L591.80,427.30 L592.00,427.31 L592.20,427.33 L592.40,427.35 L592.60,427.37 L592.80,427.38 L593.00,427.40 L593.20,427.42 L593.40,427.43 L593.60,427.45 L593.80,427.47 L594.00,427.49 L594.20,427.50 L594.40,427.52 L594.60,427.54 L594.80,427.55 L595.00,427.57 L595.20,427.59 L595.40,427.61 L595.60,427.62 L595.80,427.64 L596.00,427.66 L596.20,427.67 L596.40,427.69 L596.60,427.71 L596.80,427.73 L597.00,427.74 L597.20,427.76 L597.40,427.78 L597.60,427.79 L597.80,427.81 L598.00,427.83 L598.20,427.85 L598.40,427.86 L598.60,427.88 L598.80,427.90 L599.00,427.91 L599.20,427.93 L599.40,427.95 L599.60,427.97 L599.80,427.98 L600.00,428.00 L600.20,428.03 L600.40,428.06 L600.60,428.09 L600.80,428.12 L601.00,428.15 L601.20,428.18 L601.40,428.22 L601.60,428.25 L601.80,428.28 L602.00,428.31 L602.20,428.34 L602.40,428.37 L602.60,428.40 L602.80,428.43 L603.00,428.46 L603.20,428.49 L603.40,428.52 L603.60,428.55 L603.80,428.58 L604.00,428.62 L604.20,428.65 L604.40,428.68 L604.60,428.71 L604.80,428.74 L605.00,428.77 L605.20,428.80 L605.40,428.83 L605.60,428.86 L605.80,428.88 L606.00,428.90 L606.20,428.91 L606.40,428.88 L606.50,428.84 L606.60,428.78 L606.80,428.56 L607.00,428.17 L607.20,427.51 L607.40,426.48 L607.60,424.98 L607.80,422.95 L608.00,420.37 L608.20,417.34 L608.40,414.05 L608.60,410.78 L608.80,407.85 L609.00,405.56 L609.20,404.13 L609.40,403.66 L609.60,404.11 L609.80,405.35 L610.00,407.17 L610.20,409.32 L610.40,411.61 L610.60,413.87 L610.80,415.99 L611.00,417.90 L611.20,419.59 L611.40,421.05 L611.60,422.31 L611.80,423.39 L612.00,424.30 L612.20,425.07 L612.40,425.73 L612.60,426.28 L612.80,426.75 L613.00,427.15 L613.20,427.49 L613.40,427.78 L613.60,428.02 L613.80,428.23 L614.00,428.41 L614.20,428.56 L614.40,428.68 L614.60,428.79 L614.80,428.89 L615.00,428.96 L615.20,429.03 L615.40,429.09 L615.60,429.14 L615.80,429.18 L616.00,429.22 L616.20,429.25 L616.40,429.28 L616.60,429.31 L616.80,429.33 L617.00,429.35 L617.20,429.36 L617.40,429.38 L617.60,429.39 L617.80,429.41 L618.00,429.42 L618.20,429.43 L618.40,429.44 L618.60,429.44 L618.80,429.45 L619.00,429.46 L619.20,429.47 L619.40,429.47 L619.60,429.48 L619.80,429.49 L620.00,429.49 L620.20,429.50 L620.40,429.51 L620.60,429.51 L620.80,429.52 L621.00,429.52 L621.20,429.53 L621.40,429.53 L621.60,429.54 L621.80,429.54 L622.00,429.55 L622.20,429.55 L622.40,429.56 L622.60,429.56 L622.80,429.57 L623.00,429.57 L623.20,429.58 L623.40,429.58 L623.60,429.59 L623.80,429.59 L624.00,429.60 L624.20,429.60 L624.40,429.61 L624.60,429.61 L624.80,429.62 L625.00,429.62 L625.20,429.63 L625.40,429.63 L625.60,429.64 L625.80,429.64 L626.00,429.65 L626.20,429.65 L626.40,429.66 L626.60,429.66 L626.80,429.67 L627.00,429.67 L627.20,429.68 L627.40,429.68 L627.60,429.69 L627.80,429.69 L628.00,429.70 L628.20,429.70 L628.40,429.71 L628.60,429.71 L628.80,429.72 L629.00,429.72 L629.20,429.73 L629.40,429.73 L629.60,429.74 L629.80,429.74 L630.00,429.75 L630.20,429.75 L630.40,429.76 L630.60,429.76 L630.80,429.77 L631.00,429.77 L631.20,429.78 L631.40,429.78 L631.60,429.79 L631.80,429.79 L632.00,429.80 L632.20,429.80 L632.40,429.81 L632.60,429.81 L632.80,429.82 L633.00,429.82 L633.20,429.83 L633.40,429.83 L633.60,429.84 L633.80,429.84 L634.00,429.85 L634.20,429.85 L634.40,429.86 L634.60,429.86 L634.80,429.87 L635.00,429.87 L635.20,429.88 L635.40,429.88 L635.60,429.89 L635.80,429.89 L636.00,429.90 L636.20,429.90 L636.40,429.91 L636.60,429.91 L636.80,429.92 L637.00,429.92 L637.20,429.93 L637.40,429.93 L637.60,429.94 L637.80,429.94 L638.00,429.95 L638.20,429.95 L638.40,429.96 L638.60,429.96 L638.80,429.97 L639.00,429.97 L639.20,429.98 L639.40,429.98 L639.60,429.99 L639.80,429.99 L640.00,430.00 L640.20,430.02 L640.40,430.03 L640.60,430.05 L640.80,430.06 L641.00,430.08 L641.20,430.10 L641.40,430.11 L641.60,430.13 L641.80,430.14 L642.00,430.16 L642.20,430.18 L642.40,430.19 L642.60,430.21 L642.80,430.22 L643.00,430.24 L643.20,430.26 L643.40,430.27 L643.60,430.29 L643.80,430.30 L644.00,430.32 L644.20,430.34 L644.40,430.35 L644.60,430.37 L644.80,430.38 L645.00,430.40 L645.20,430.42 L645.40,430.43 L645.60,430.45 L645.80,430.46 L646.00,430.48 L646.20,430.50 L646.40,430.51 L646.60,430.53 L646.80,430.54 L647.00,430.56 L647.20,430.58 L647.40,430.59 L647.50,430.60 L647.60,430.51 L647.80,430.33 L648.00,430.15 L648.20,429.96 L648.40,429.78 L648.60,429.60 L648.80,429.42 L649.00,429.24 L649.20,429.05 L649.40,428.87 L649.60,428.69 L649.70,428.60 L649.80,428.68 L650.00,428.85 L650.20,429.02 L650.40,429.19 L650.60,429.36 L650.80,429.53 L651.00,429.70 L651.20,429.87 L651.40,430.04 L651.60,430.21 L651.80,430.38 L652.00,430.55 L652.20,430.72 L652.40,430.89 L652.60,431.06 L652.80,431.23 L653.00,431.40 L653.20,431.42 L653.40,431.45 L653.60,431.47 L653.80,431.49 L654.00,431.51 L654.20,431.54 L654.40,431.56 L654.60,431.58 L654.80,431.61 L655.00,431.63 L655.20,431.65 L655.40,431.67 L655.60,431.70 L655.80,431.72 L656.00,431.74 L656.20,431.76 L656.40,431.79 L656.60,431.81 L656.80,431.83 L657.00,431.86 L657.20,431.88 L657.40,431.90 L657.60,431.92 L657.80,431.95 L658.00,431.97 L658.20,431.99 L658.40,432.02 L658.60,432.04 L658.80,432.06 L659.00,432.08 L659.20,432.11 L659.40,432.13 L659.60,432.15 L659.80,432.17 L660.00,432.20 L660.20,432.22 L660.40,432.24 L660.60,432.27 L660.80,432.29 L661.00,432.31 L661.20,432.33 L661.40,432.36 L661.60,432.38 L661.80,432.40 L662.00,432.43 L662.20,432.45 L662.40,432.47 L662.60,432.49 L662.80,432.52 L663.00,432.54 L663.20,432.56 L663.40,432.58 L663.60,432.61 L663.80,432.63 L664.00,432.65 L664.20,432.68 L664.40,432.70 L664.60,432.72 L664.80,432.74 L665.00,432.77 L665.20,432.79 L665.40,432.81 L665.60,432.84 L665.80,432.86 L666.00,432.88 L666.20,432.90 L666.40,432.93 L666.60,432.95 L666.80,432.97 L667.00,432.99 L667.20,433.02 L667.40,433.04 L667.60,433.06 L667.80,433.09 L668.00,433.11 L668.20,433.13 L668.40,433.15 L668.60,433.18 L668.80,433.20" fill="none" stroke="#6e6e6e" stroke-width="1" stroke-linejoin="round" clip-path="url(#c11)"/>
<clipPath id="c12"><rect x="474.6" y="434" width="196.19999999999993" height="73"/></clipPath>
<path d="M474.60,501.80 L474.80,501.80 L475.00,501.80 L475.20,501.80 L475.40,501.80 L475.60,501.80 L475.80,501.80 L476.00,501.80 L476.20,501.80 L476.40,501.80 L476.60,501.80 L476.80,501.80 L477.00,501.80 L477.20,501.80 L477.40,501.80 L477.60,501.80 L477.80,501.80 L478.00,501.80 L478.20,501.80 L478.40,501.80 L478.60,501.80 L478.80,501.80 L479.00,501.80 L479.20,501.80 L479.40,501.80 L479.60,501.80 L479.80,501.80 L480.00,501.80 L480.20,501.80 L480.40,501.80 L480.60,501.80 L480.80,501.80 L481.00,501.80 L481.20,501.80 L481.40,501.80 L481.60,501.80 L481.80,501.80 L482.00,501.80 L482.20,501.80 L482.40,501.80 L482.60,501.80 L482.80,501.80 L483.00,501.80 L483.20,501.80 L483.40,501.80 L483.60,501.80 L483.80,501.80 L484.00,501.80 L484.20,501.80 L484.40,501.80 L484.60,501.80 L484.80,501.80 L485.00,501.80 L485.20,501.80 L485.40,501.80 L485.60,501.80 L485.80,501.80 L486.00,501.80 L486.20,501.80 L486.40,501.80 L486.60,501.80 L486.80,501.80 L487.00,501.80 L487.20,501.80 L487.40,501.80 L487.60,501.80 L487.80,501.80 L488.00,501.80 L488.20,501.80 L488.40,501.80 L488.60,501.80 L488.80,501.80 L489.00,501.80 L489.20,502.22 L489.40,502.63 L489.60,503.05 L489.80,503.46 L490.00,503.88 L490.20,504.30 L490.40,504.71 L490.60,505.13 L490.80,505.54 L491.00,505.96 L491.20,506.38 L491.40,506.79 L491.50,507.00 L491.60,506.56 L491.80,505.68 L492.00,504.80 L492.20,503.92 L492.40,503.04 L492.60,502.16 L492.80,501.28 L493.00,500.40 L493.20,499.52 L493.40,498.64 L493.60,497.76 L493.80,496.88 L494.00,496.00 L494.20,495.35 L494.40,494.71 L494.60,494.06 L494.80,493.42 L495.00,492.77 L495.20,492.12 L495.30,491.80 L495.40,489.98 L495.60,486.35 L495.80,482.72 L496.00,479.08 L496.20,475.45 L496.40,471.82 L496.50,470.00 L496.60,466.21 L496.80,458.63 L497.00,451.06 L497.20,443.48 L497.40,435.90 L497.60,444.43 L497.80,452.95 L498.00,461.48 L498.20,470.00 L498.40,480.80 L498.60,491.60 L498.70,497.00 L498.80,496.39 L499.00,495.17 L499.20,493.96 L499.40,492.74 L499.60,491.52 L499.80,490.31 L499.90,489.70 L500.00,490.58 L500.20,492.33 L500.40,494.07 L500.60,495.83 L500.80,497.58 L501.00,499.33 L501.20,501.07 L501.40,502.82 L501.50,503.70 L501.60,503.25 L501.80,502.36 L502.00,501.47 L502.20,500.57 L502.40,499.68 L502.60,498.79 L502.80,497.89 L503.00,497.00 L503.20,496.73 L503.40,496.47 L503.60,496.20 L503.80,495.93 L504.00,495.67 L504.20,495.40 L504.40,495.13 L504.50,495.00 L504.60,493.85 L504.80,491.54 L505.00,489.23 L505.20,486.92 L505.40,484.62 L505.60,482.31 L505.80,480.00 L506.00,474.89 L506.20,469.77 L506.40,464.66 L506.60,459.54 L506.80,454.43 L507.00,449.31 L507.20,444.20 L507.40,451.36 L507.60,458.52 L507.80,465.68 L508.00,472.84 L508.20,480.00 L508.40,482.11 L508.60,484.22 L508.80,486.33 L509.00,488.44 L509.20,490.56 L509.40,492.67 L509.60,494.78 L509.80,496.89 L510.00,499.00 L510.20,499.00 L510.40,499.00 L510.60,499.00 L510.80,499.00 L511.00,499.00 L511.20,499.00 L511.40,499.00 L511.60,499.00 L511.80,499.00 L512.00,499.00 L512.20,499.00 L512.40,499.00 L512.60,499.00 L512.80,499.00 L513.00,499.00 L513.20,499.00 L513.40,499.00 L513.50,499.00 L513.60,497.65 L513.80,494.95 L514.00,492.25 L514.20,489.55 L514.40,486.85 L514.50,485.50 L514.60,486.64 L514.80,488.92 L515.00,491.21 L515.20,493.49 L515.40,495.77 L515.60,498.06 L515.70,499.20 L515.80,499.21 L516.00,499.24 L516.20,499.26 L516.40,499.29 L516.60,499.31 L516.80,499.34 L517.00,499.37 L517.20,499.39 L517.40,499.42 L517.60,499.44 L517.80,499.47 L518.00,499.49 L518.20,499.52 L518.40,499.54 L518.60,499.57 L518.80,499.59 L519.00,499.62 L519.20,499.64 L519.40,499.67 L519.60,499.70 L519.80,499.72 L520.00,499.75 L520.20,499.77 L520.40,499.80 L520.60,499.82 L520.80,499.85 L521.00,499.87 L521.20,499.90 L521.40,499.92 L521.60,499.95 L521.80,499.97 L522.00,500.00 L522.20,498.31 L522.40,496.62 L522.60,494.93 L522.80,493.24 L523.00,491.55 L523.10,490.70 L523.20,491.45 L523.40,492.96 L523.60,494.47 L523.80,495.98 L524.00,497.48 L524.20,498.99 L524.40,500.50 L524.60,500.50 L524.80,500.51 L525.00,500.51 L525.20,500.52 L525.40,500.52 L525.60,500.53 L525.80,500.53 L526.00,500.54 L526.20,500.54 L526.40,500.55 L526.60,500.55 L526.80,500.56 L527.00,500.56 L527.20,500.57 L527.40,500.57 L527.60,500.57 L527.80,500.58 L528.00,500.58 L528.20,500.59 L528.40,500.59 L528.60,500.60 L528.80,500.60 L529.00,500.61 L529.20,500.61 L529.40,500.62 L529.60,500.62 L529.80,500.63 L530.00,500.63 L530.20,500.63 L530.40,500.64 L530.60,500.64 L530.80,500.65 L531.00,500.65 L531.20,500.66 L531.40,500.66 L531.60,500.67 L531.80,500.67 L532.00,500.68 L532.20,500.68 L532.40,500.69 L532.60,500.69 L532.80,500.70 L533.00,500.70 L533.20,500.70 L533.40,500.71 L533.60,500.71 L533.80,500.72 L534.00,500.72 L534.20,500.73 L534.40,500.73 L534.60,500.74 L534.80,500.74 L535.00,500.75 L535.20,500.75 L535.40,500.76 L535.60,500.76 L535.80,500.77 L536.00,500.77 L536.20,500.77 L536.40,500.78 L536.60,500.78 L536.80,500.79 L537.00,500.79 L537.20,500.80 L537.30,500.80 L537.40,499.70 L537.60,497.50 L537.80,495.30 L538.00,493.10 L538.20,490.90 L538.40,488.70 L538.60,486.50 L538.80,488.70 L539.00,490.90 L539.20,493.10 L539.40,495.30 L539.60,497.50 L539.80,499.70 L539.90,500.80 L540.00,500.80 L540.20,500.79 L540.40,500.79 L540.60,500.78 L540.80,500.78 L541.00,500.77 L541.20,500.76 L541.40,500.76 L541.60,500.75 L541.80,500.75 L542.00,500.74 L542.20,500.74 L542.40,500.73 L542.60,500.73 L542.80,500.72 L543.00,500.71 L543.20,500.71 L543.40,500.70 L543.60,500.70 L543.80,500.69 L544.00,500.69 L544.20,500.68 L544.40,500.68 L544.60,500.67 L544.80,500.67 L545.00,500.66 L545.20,500.65 L545.40,500.65 L545.60,500.64 L545.80,500.64 L546.00,500.63 L546.20,500.63 L546.40,500.62 L546.60,500.62 L546.80,500.61 L547.00,500.60 L547.20,500.60 L547.40,500.59 L547.60,500.59 L547.80,500.58 L548.00,500.58 L548.20,500.57 L548.40,500.57 L548.60,500.56 L548.80,500.56 L549.00,500.55 L549.20,500.54 L549.40,500.54 L549.60,500.53 L549.80,500.53 L550.00,500.52 L550.20,500.52 L550.40,500.51 L550.60,500.51 L550.80,500.50 L551.00,499.49 L551.20,498.47 L551.40,497.46 L551.60,496.45 L551.80,495.44 L552.00,494.42 L552.20,493.41 L552.40,492.40 L552.60,493.29 L552.80,494.17 L553.00,495.06 L553.20,495.95 L553.40,496.84 L553.60,497.73 L553.80,498.61 L554.00,499.50 L554.20,499.46 L554.40,499.43 L554.60,499.39 L554.80,499.36 L555.00,499.32 L555.20,499.29 L555.40,499.25 L555.60,499.21 L555.80,499.18 L556.00,499.14 L556.20,499.11 L556.40,499.07 L556.60,499.04 L556.80,499.00 L557.00,494.28 L557.20,489.55 L557.40,484.83 L557.60,480.11 L557.80,475.38 L558.00,470.66 L558.10,468.30 L558.20,470.66 L558.40,475.38 L558.60,480.11 L558.80,484.83 L559.00,489.55 L559.20,494.28 L559.40,499.00 L559.60,499.03 L559.80,499.06 L560.00,499.09 L560.20,499.12 L560.40,499.15 L560.60,499.18 L560.80,499.22 L561.00,499.25 L561.20,499.28 L561.40,499.31 L561.60,499.34 L561.80,499.37 L562.00,499.40 L562.20,499.40 L562.40,499.39 L562.60,499.39 L562.80,499.38 L563.00,499.38 L563.20,499.37 L563.40,499.37 L563.60,499.36 L563.80,499.36 L564.00,499.35 L564.20,499.35 L564.40,499.34 L564.60,499.34 L564.80,499.33 L565.00,499.33 L565.20,499.32 L565.40,499.32 L565.60,499.32 L565.80,499.31 L566.00,499.31 L566.20,499.30 L566.40,499.30 L566.60,499.29 L566.80,499.29 L567.00,499.28 L567.20,499.28 L567.40,499.27 L567.60,499.27 L567.80,499.26 L568.00,499.26 L568.20,499.25 L568.40,499.25 L568.60,499.24 L568.80,499.24 L569.00,499.24 L569.20,499.23 L569.40,499.23 L569.60,499.22 L569.80,499.22 L570.00,499.21 L570.20,499.21 L570.40,499.20 L570.50,499.20 L570.60,499.08 L570.80,498.83 L571.00,498.58 L571.20,498.34 L571.40,498.09 L571.60,497.85 L571.80,497.60 L572.00,497.89 L572.20,498.17 L572.40,498.46 L572.60,498.74 L572.80,499.03 L573.00,499.31 L573.20,499.60 L573.40,499.60 L573.60,499.60 L573.80,499.59 L574.00,499.59 L574.20,499.59 L574.40,499.59 L574.60,499.58 L574.80,499.58 L575.00,499.58 L575.20,499.58 L575.40,499.58 L575.60,499.57 L575.80,499.57 L576.00,499.57 L576.20,499.57 L576.40,499.56 L576.60,499.56 L576.80,499.56 L577.00,499.56 L577.20,499.56 L577.40,499.55 L577.60,499.55 L577.80,499.55 L578.00,499.55 L578.20,499.54 L578.40,499.54 L578.60,499.54 L578.80,499.54 L579.00,499.54 L579.20,499.53 L579.40,499.53 L579.60,499.53 L579.80,499.53 L580.00,499.52 L580.20,499.52 L580.40,499.52 L580.60,499.52 L580.80,499.51 L581.00,499.51 L581.20,499.51 L581.40,499.51 L581.60,499.51 L581.80,499.50 L582.00,499.50 L582.20,499.50 L582.40,499.50 L582.60,499.49 L582.80,499.49 L583.00,499.49 L583.20,499.49 L583.40,499.49 L583.60,499.48 L583.80,499.48 L584.00,499.48 L584.20,499.48 L584.40,499.47 L584.60,499.47 L584.80,499.47 L585.00,499.47 L585.20,499.47 L585.40,499.46 L585.60,499.46 L585.80,499.46 L586.00,499.46 L586.20,499.45 L586.40,499.45 L586.60,499.45 L586.80,499.45 L587.00,499.45 L587.20,499.44 L587.40,499.44 L587.60,499.44 L587.80,499.44 L588.00,499.43 L588.20,499.43 L588.40,499.43 L588.60,499.43 L588.80,499.43 L589.00,499.42 L589.20,499.42 L589.40,499.42 L589.60,499.42 L589.80,499.41 L590.00,499.41 L590.20,499.41 L590.40,499.41 L590.60,499.41 L590.80,499.40 L591.00,499.40 L591.20,499.40 L591.40,499.40 L591.60,499.39 L591.80,499.39 L592.00,499.39 L592.20,499.39 L592.40,499.39 L592.60,499.38 L592.80,499.38 L593.00,499.38 L593.20,499.38 L593.40,499.37 L593.60,499.37 L593.80,499.37 L594.00,499.37 L594.20,499.36 L594.40,499.36 L594.60,499.36 L594.80,499.36 L595.00,499.36 L595.20,499.35 L595.40,499.35 L595.60,499.35 L595.80,499.35 L596.00,499.34 L596.20,499.34 L596.40,499.34 L596.60,499.34 L596.80,499.34 L597.00,499.33 L597.20,499.33 L597.40,499.33 L597.60,499.33 L597.80,499.32 L598.00,499.32 L598.20,499.32 L598.40,499.32 L598.60,499.32 L598.80,499.31 L599.00,499.31 L599.20,499.31 L599.40,499.31 L599.60,499.30 L599.80,499.30 L600.00,499.30 L600.20,499.30 L600.40,499.29 L600.60,499.29 L600.80,499.29 L601.00,499.28 L601.20,499.28 L601.40,499.28 L601.60,499.27 L601.80,499.27 L602.00,499.26 L602.20,499.26 L602.40,499.26 L602.60,499.25 L602.80,499.25 L603.00,499.25 L603.20,499.24 L603.40,499.24 L603.60,499.24 L603.80,499.23 L604.00,499.23 L604.20,499.23 L604.40,499.22 L604.60,499.22 L604.80,499.22 L605.00,499.21 L605.20,499.21 L605.40,499.21 L605.60,499.20 L605.80,499.20 L606.00,499.19 L606.20,499.19 L606.40,499.18 L606.60,499.16 L606.80,499.12 L607.00,499.04 L607.20,498.89 L607.40,498.62 L607.60,498.16 L607.80,497.43 L608.00,496.33 L608.20,494.78 L608.40,492.75 L608.60,490.28 L608.80,487.49 L609.00,484.59 L609.20,481.84 L609.40,479.53 L609.60,477.88 L609.80,477.03 L610.00,477.02 L610.20,477.77 L610.40,479.11 L610.60,480.85 L610.80,482.79 L611.00,484.77 L611.20,486.67 L611.40,488.42 L611.60,489.97 L611.80,491.33 L612.00,492.50 L612.20,493.50 L612.40,494.36 L612.60,495.08 L612.80,495.69 L613.00,496.20 L613.20,496.64 L613.40,497.01 L613.60,497.32 L613.80,497.59 L614.00,497.81 L614.20,498.00 L614.40,498.15 L614.60,498.29 L614.80,498.40 L615.00,498.50 L615.20,498.58 L615.40,498.64 L615.60,498.70 L615.80,498.75 L616.00,498.78 L616.20,498.82 L616.40,498.84 L616.60,498.87 L616.80,498.89 L617.00,498.90 L617.20,498.91 L617.40,498.92 L617.60,498.93 L617.80,498.94 L618.00,498.94 L618.20,498.94 L618.40,498.95 L618.60,498.95 L618.80,498.95 L619.00,498.95 L619.20,498.95 L619.40,498.95 L619.60,498.95 L619.80,498.94 L620.00,498.94 L620.20,498.94 L620.40,498.94 L620.60,498.93 L620.80,498.93 L621.00,498.93 L621.20,498.93 L621.40,498.92 L621.60,498.92 L621.80,498.92 L622.00,498.91 L622.20,498.91 L622.40,498.91 L622.60,498.90 L622.80,498.90 L623.00,498.90 L623.20,498.89 L623.40,498.89 L623.60,498.89 L623.80,498.88 L624.00,498.88 L624.20,498.88 L624.40,498.87 L624.60,498.87 L624.80,498.87 L625.00,498.86 L625.20,498.86 L625.40,498.86 L625.60,498.85 L625.80,498.85 L626.00,498.84 L626.20,498.84 L626.40,498.84 L626.60,498.83 L626.80,498.83 L627.00,498.83 L627.20,498.82 L627.40,498.82 L627.60,498.82 L627.80,498.81 L628.00,498.81 L628.20,498.81 L628.40,498.80 L628.60,498.80 L628.80,498.80 L629.00,498.79 L629.20,498.79 L629.40,498.79 L629.60,498.78 L629.80,498.78 L630.00,498.77 L630.20,498.77 L630.40,498.77 L630.60,498.76 L630.80,498.76 L631.00,498.76 L631.20,498.75 L631.40,498.75 L631.60,498.75 L631.80,498.74 L632.00,498.74 L632.20,498.74 L632.40,498.73 L632.60,498.73 L632.80,498.73 L633.00,498.72 L633.20,498.72 L633.40,498.72 L633.60,498.71 L633.80,498.71 L634.00,498.70 L634.20,498.70 L634.40,498.70 L634.60,498.69 L634.80,498.69 L635.00,498.69 L635.20,498.68 L635.40,498.68 L635.60,498.68 L635.80,498.67 L636.00,498.67 L636.20,498.67 L636.40,498.66 L636.60,498.66 L636.80,498.66 L637.00,498.65 L637.20,498.65 L637.40,498.65 L637.60,498.64 L637.80,498.64 L638.00,498.63 L638.20,498.63 L638.40,498.63 L638.60,498.62 L638.80,498.62 L639.00,498.62 L639.20,498.61 L639.40,498.61 L639.60,498.61 L639.80,498.60 L640.00,498.60 L640.20,498.58 L640.40,498.55 L640.60,498.53 L640.80,498.50 L641.00,498.48 L641.20,498.46 L641.40,498.43 L641.60,498.41 L641.80,498.38 L642.00,498.36 L642.20,498.34 L642.40,498.31 L642.60,498.29 L642.80,498.26 L643.00,498.24 L643.20,498.22 L643.40,498.19 L643.60,498.17 L643.80,498.14 L644.00,498.12 L644.20,498.10 L644.40,498.07 L644.60,498.05 L644.80,498.02 L645.00,498.00 L645.20,497.73 L645.40,497.45 L645.60,497.18 L645.80,496.91 L646.00,496.63 L646.20,496.36 L646.40,496.08 L646.60,495.81 L646.80,495.54 L647.00,495.26 L647.20,494.99 L647.40,494.72 L647.60,494.44 L647.80,494.17 L648.00,493.89 L648.20,493.62 L648.40,493.35 L648.60,493.07 L648.80,492.80 L649.00,492.99 L649.20,493.18 L649.40,493.37 L649.60,493.56 L649.80,493.75 L650.00,493.94 L650.20,494.13 L650.40,494.32 L650.60,494.51 L650.80,494.70 L651.00,494.90 L651.20,495.09 L651.40,495.28 L651.60,495.47 L651.80,495.66 L652.00,495.85 L652.20,496.04 L652.40,496.23 L652.60,496.42 L652.80,496.61 L653.00,496.80 L653.20,496.81 L653.40,496.82 L653.60,496.82 L653.80,496.83 L654.00,496.84 L654.20,496.85 L654.40,496.85 L654.60,496.86 L654.80,496.87 L655.00,496.88 L655.20,496.88 L655.40,496.89 L655.60,496.90 L655.80,496.91 L656.00,496.91 L656.20,496.92 L656.40,496.93 L656.60,496.94 L656.80,496.94 L657.00,496.95 L657.20,496.96 L657.40,496.97 L657.60,496.97 L657.80,496.98 L658.00,496.99 L658.20,497.00 L658.40,497.01 L658.60,497.01 L658.80,497.02 L659.00,497.03 L659.20,497.04 L659.40,497.04 L659.60,497.05 L659.80,497.06 L660.00,497.07 L660.20,497.07 L660.40,497.08 L660.60,497.09 L660.80,497.10 L661.00,497.10 L661.20,497.11 L661.40,497.12 L661.60,497.13 L661.80,497.13 L662.00,497.14 L662.20,497.15 L662.40,497.16 L662.60,497.16 L662.80,497.17 L663.00,497.18 L663.20,497.19 L663.40,497.19 L663.60,497.20 L663.80,497.21 L664.00,497.22 L664.20,497.23 L664.40,497.23 L664.60,497.24 L664.80,497.25 L665.00,497.26 L665.20,497.26 L665.40,497.27 L665.60,497.28 L665.80,497.29 L666.00,497.29 L666.20,497.30 L666.40,497.31 L666.60,497.32 L666.80,497.32 L667.00,497.33 L667.20,497.34 L667.40,497.35 L667.60,497.35 L667.80,497.36 L668.00,497.37 L668.20,497.38 L668.40,497.38 L668.60,497.39 L668.80,497.40" fill="none" stroke="#6e6e6e" stroke-width="1" stroke-linejoin="round" clip-path="url(#c12)"/>
<line x1="474.60" y1="222.60" x2="670.80" y2="222.60" stroke="#aaaaaa" stroke-width="1.6" />
<line x1="474.60" y1="222.60" x2="474.60" y2="507.10" stroke="#4a4a4a" stroke-width="1.3" />
<line x1="670.80" y1="222.60" x2="670.80" y2="507.10" stroke="#7a7a7a" stroke-width="1.3" />
<line x1="474.60" y1="507.10" x2="670.80" y2="507.10" stroke="#4a4a4a" stroke-width="1.3" />
<line x1="472.30" y1="280.40" x2="477.00" y2="280.40" stroke="#111" stroke-width="2.0" />
<line x1="538.60" y1="507.10" x2="538.60" y2="510.10" stroke="#4a4a4a" stroke-width="1" />
<text x="538.60" y="524.83" font-size="12.2" text-anchor="middle" fill="#111" >5</text>
<line x1="604.20" y1="507.10" x2="604.20" y2="510.10" stroke="#4a4a4a" stroke-width="1" />
<text x="605.70" y="524.83" font-size="12.2" text-anchor="middle" fill="#111" >10</text>
<line x1="668.10" y1="507.10" x2="668.10" y2="510.10" stroke="#4a4a4a" stroke-width="1" />
<text x="668.10" y="524.83" font-size="12.2" text-anchor="middle" fill="#111" >15</text>
<line x1="470.60" y1="232.90" x2="474.60" y2="232.90" stroke="#4a4a4a" stroke-width="1" />
<text x="471.50" y="238.36" font-size="12" text-anchor="end" fill="#111" >100</text>
<line x1="470.60" y1="256.60" x2="474.60" y2="256.60" stroke="#4a4a4a" stroke-width="1" />
<text x="471.50" y="262.06" font-size="12" text-anchor="end" fill="#111" >50</text>
<line x1="470.60" y1="311.30" x2="474.60" y2="311.30" stroke="#4a4a4a" stroke-width="1" />
<text x="469.00" y="316.76" font-size="12" text-anchor="end" fill="#111" >20</text>
<line x1="470.60" y1="333.90" x2="474.60" y2="333.90" stroke="#4a4a4a" stroke-width="1" />
<text x="469.00" y="339.36" font-size="12" text-anchor="end" fill="#111" >10</text>
<line x1="470.60" y1="356.30" x2="474.60" y2="356.30" stroke="#4a4a4a" stroke-width="1" />
<text x="469.00" y="361.76" font-size="12" text-anchor="end" fill="#111" >0</text>
<line x1="470.60" y1="370.10" x2="474.60" y2="370.10" stroke="#4a4a4a" stroke-width="1" />
<text x="469.00" y="375.56" font-size="12" text-anchor="end" fill="#111" >4</text>
<line x1="470.60" y1="395.80" x2="474.60" y2="395.80" stroke="#4a4a4a" stroke-width="1" />
<text x="469.00" y="401.26" font-size="12" text-anchor="end" fill="#111" >2</text>
<line x1="470.60" y1="422.90" x2="474.60" y2="422.90" stroke="#4a4a4a" stroke-width="1" />
<text x="469.00" y="428.36" font-size="12" text-anchor="end" fill="#111" >0</text>
<line x1="470.60" y1="445.10" x2="474.60" y2="445.10" stroke="#4a4a4a" stroke-width="1" />
<text x="469.00" y="450.56" font-size="12" text-anchor="end" fill="#111" >4</text>
<line x1="470.60" y1="474.00" x2="474.60" y2="474.00" stroke="#4a4a4a" stroke-width="1" />
<text x="469.00" y="479.46" font-size="12" text-anchor="end" fill="#111" >2</text>
<line x1="470.60" y1="502.30" x2="474.60" y2="502.30" stroke="#4a4a4a" stroke-width="1" />
<text x="469.00" y="507.76" font-size="12" text-anchor="end" fill="#111" >0</text>
<text x="467.40" y="286.06" font-size="12" text-anchor="end" fill="#111" >0</text>
<text x="616.30" y="235.49" font-size="11.8" text-anchor="start" fill="#111" >nar</text>
<text x="556.80" y="301.26" font-size="12.0" text-anchor="start" fill="#111" >nar7G</text>
<text x="667.20" y="387.32" font-size="15" text-anchor="end" fill="#111" >vector</text>
<text x="559.00" y="413.86" font-size="12.0" text-anchor="start" fill="#111" >nar7G</text>
<line x1="578.90" y1="420.30" x2="567.50" y2="420.30" stroke="#111" stroke-width="1.1" />
<path d="M560.50,420.30 L567.50,416.90 L567.50,423.70 Z" fill="#111"/>
<text x="616.60" y="411.99" font-size="11.8" text-anchor="start" fill="#111" >nar</text>
<text x="667.20" y="465.72" font-size="15" text-anchor="end" fill="#111" >SQD2.2</text>
<text x="560.20" y="467.76" font-size="12.0" text-anchor="start" fill="#111" >nar7G</text>
<line x1="577.00" y1="474.40" x2="567.20" y2="474.40" stroke="#111" stroke-width="1.1" />
<path d="M560.20,474.40 L567.20,471.00 L567.20,477.80 Z" fill="#111"/>
<text x="616.80" y="485.09" font-size="11.8" text-anchor="start" fill="#111" >nar</text>
</svg>
</body></html>
